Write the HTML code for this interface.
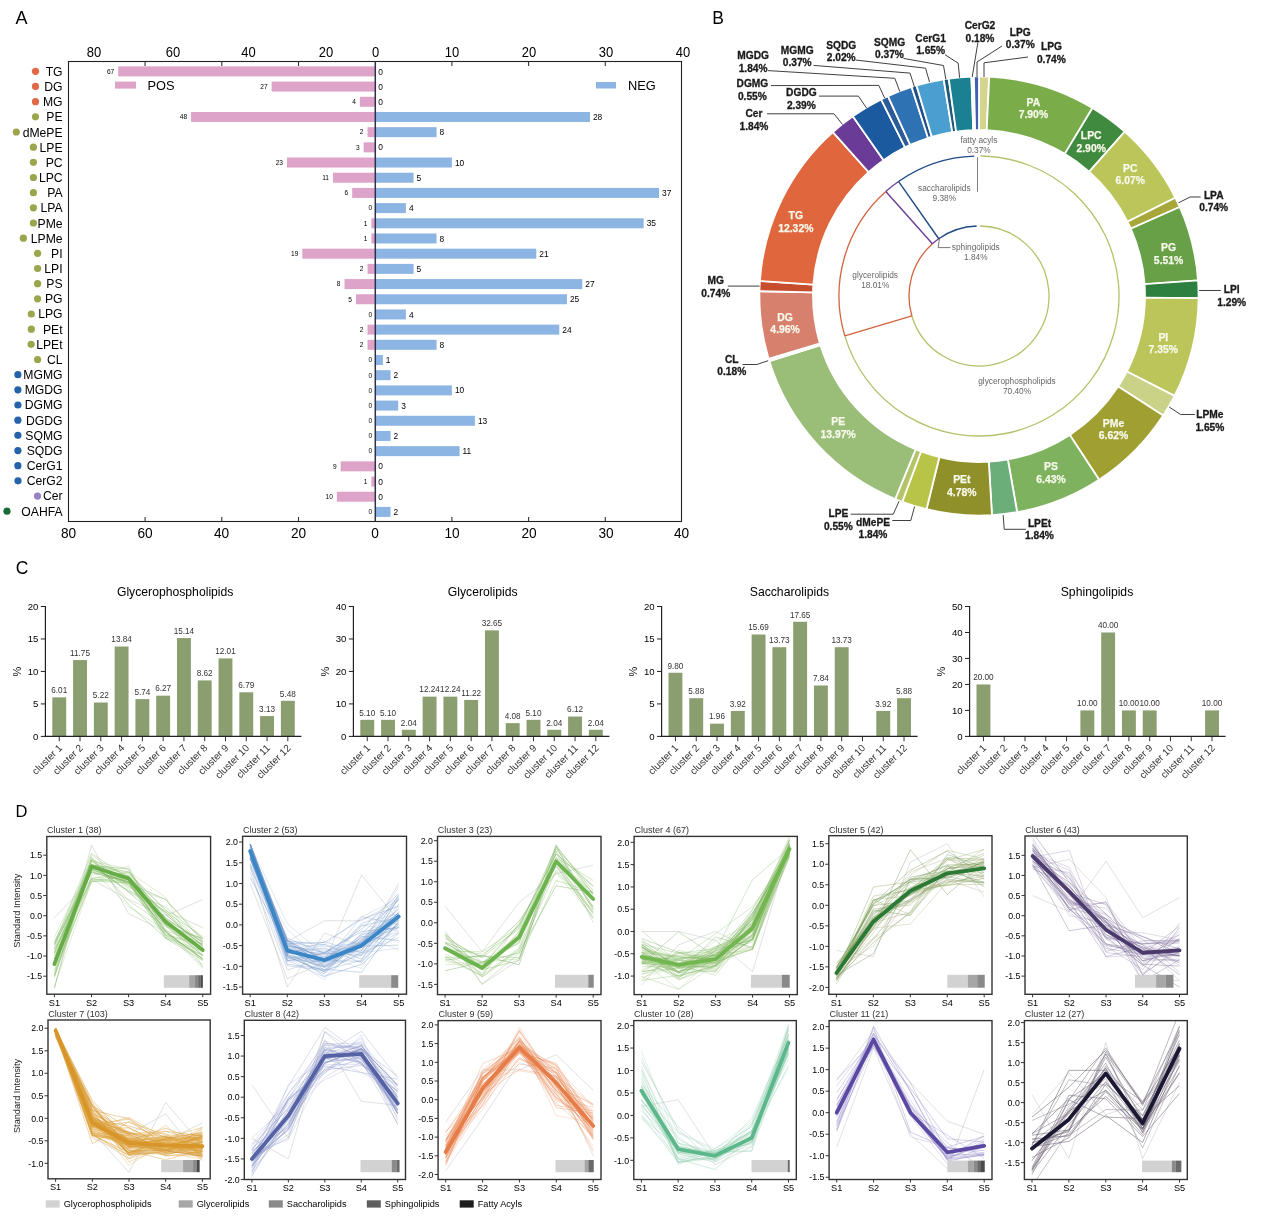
<!DOCTYPE html>
<html><head><meta charset="utf-8"><title>Lipid figure</title>
<style>html,body{margin:0;padding:0;background:#fff;}svg{display:block;will-change:transform;}</style>
</head><body>
<svg width="1269" height="1228" viewBox="0 0 1269 1228" font-family='"Liberation Sans", Arial, sans-serif'><text x="15.6" y="24" font-size="18">A</text>
<rect x="118.25" y="66.4" width="256.94" height="10" fill="#dea3c9"/>
<text x="114.25" y="73.7" font-size="6.6" text-anchor="end">67</text>
<text x="378.2" y="74.5" font-size="8.4">0</text>
<text x="62.6" y="75.9" font-size="12.2" text-anchor="end">TG</text>
<circle cx="35.5" cy="71.3" r="3.6" fill="#e06a48"/>
<rect x="271.65" y="81.59" width="103.55" height="10" fill="#dea3c9"/>
<text x="267.65" y="88.89" font-size="6.6" text-anchor="end">27</text>
<text x="378.2" y="89.69" font-size="8.4">0</text>
<text x="62.6" y="91.06" font-size="12.2" text-anchor="end">DG</text>
<circle cx="35.5" cy="86.47" r="3.6" fill="#e06a48"/>
<rect x="359.86" y="96.78" width="15.34" height="10" fill="#dea3c9"/>
<text x="355.86" y="104.08" font-size="6.6" text-anchor="end">4</text>
<text x="378.2" y="104.88" font-size="8.4">0</text>
<text x="62.6" y="106.22" font-size="12.2" text-anchor="end">MG</text>
<circle cx="35.5" cy="101.64" r="3.6" fill="#e06a48"/>
<rect x="191.12" y="111.97" width="184.08" height="10" fill="#dea3c9"/>
<rect x="375.2" y="111.97" width="214.76" height="10" fill="#8db5e3"/>
<text x="187.12" y="119.27" font-size="6.6" text-anchor="end">48</text>
<text x="592.96" y="120.07" font-size="8.4">28</text>
<text x="62.6" y="121.39" font-size="12.2" text-anchor="end">PE</text>
<circle cx="35.5" cy="116.81" r="3.6" fill="#9aa54c"/>
<rect x="367.53" y="127.16" width="7.67" height="10" fill="#dea3c9"/>
<rect x="375.2" y="127.16" width="61.36" height="10" fill="#8db5e3"/>
<text x="363.53" y="134.46" font-size="6.6" text-anchor="end">2</text>
<text x="439.56" y="135.26" font-size="8.4">8</text>
<text x="62.6" y="136.55" font-size="12.2" text-anchor="end">dMePE</text>
<circle cx="16.3" cy="131.98" r="3.6" fill="#9aa54c"/>
<rect x="363.69" y="142.35" width="11.5" height="10" fill="#dea3c9"/>
<text x="359.69" y="149.65" font-size="6.6" text-anchor="end">3</text>
<text x="378.2" y="150.45" font-size="8.4">0</text>
<text x="62.6" y="151.71" font-size="12.2" text-anchor="end">LPE</text>
<circle cx="33.4" cy="147.14" r="3.6" fill="#9aa54c"/>
<rect x="287" y="157.54" width="88.2" height="10" fill="#dea3c9"/>
<rect x="375.2" y="157.54" width="76.7" height="10" fill="#8db5e3"/>
<text x="283" y="164.84" font-size="6.6" text-anchor="end">23</text>
<text x="454.9" y="165.64" font-size="8.4">10</text>
<text x="62.6" y="166.87" font-size="12.2" text-anchor="end">PC</text>
<circle cx="33.4" cy="162.31" r="3.6" fill="#9aa54c"/>
<rect x="333.01" y="172.73" width="42.19" height="10" fill="#dea3c9"/>
<rect x="375.2" y="172.73" width="38.35" height="10" fill="#8db5e3"/>
<text x="329.01" y="180.03" font-size="6.6" text-anchor="end">11</text>
<text x="416.55" y="180.83" font-size="8.4">5</text>
<text x="62.6" y="182.03" font-size="12.2" text-anchor="end">LPC</text>
<circle cx="33.4" cy="177.48" r="3.6" fill="#9aa54c"/>
<rect x="352.19" y="187.92" width="23.01" height="10" fill="#dea3c9"/>
<rect x="375.2" y="187.92" width="283.79" height="10" fill="#8db5e3"/>
<text x="348.19" y="195.22" font-size="6.6" text-anchor="end">6</text>
<text x="661.99" y="196.02" font-size="8.4">37</text>
<text x="62.6" y="197.2" font-size="12.2" text-anchor="end">PA</text>
<circle cx="33.4" cy="192.65" r="3.6" fill="#9aa54c"/>
<rect x="375.2" y="203.11" width="30.68" height="10" fill="#8db5e3"/>
<text x="372.2" y="210.41" font-size="6.6" text-anchor="end">0</text>
<text x="408.88" y="211.21" font-size="8.4">4</text>
<text x="62.6" y="212.36" font-size="12.2" text-anchor="end">LPA</text>
<circle cx="33.4" cy="207.82" r="3.6" fill="#9aa54c"/>
<rect x="371.37" y="218.3" width="3.83" height="10" fill="#dea3c9"/>
<rect x="375.2" y="218.3" width="268.45" height="10" fill="#8db5e3"/>
<text x="367.37" y="225.6" font-size="6.6" text-anchor="end">1</text>
<text x="646.65" y="226.4" font-size="8.4">35</text>
<text x="62.6" y="227.52" font-size="12.2" text-anchor="end">PMe</text>
<circle cx="33.4" cy="222.99" r="3.6" fill="#9aa54c"/>
<rect x="371.37" y="233.49" width="3.83" height="10" fill="#dea3c9"/>
<rect x="375.2" y="233.49" width="61.36" height="10" fill="#8db5e3"/>
<text x="367.37" y="240.79" font-size="6.6" text-anchor="end">1</text>
<text x="439.56" y="241.59" font-size="8.4">8</text>
<text x="62.6" y="242.68" font-size="12.2" text-anchor="end">LPMe</text>
<circle cx="23.4" cy="238.16" r="3.6" fill="#9aa54c"/>
<rect x="302.33" y="248.68" width="72.86" height="10" fill="#dea3c9"/>
<rect x="375.2" y="248.68" width="161.07" height="10" fill="#8db5e3"/>
<text x="298.33" y="255.98" font-size="6.6" text-anchor="end">19</text>
<text x="539.27" y="256.78" font-size="8.4">21</text>
<text x="62.6" y="257.84" font-size="12.2" text-anchor="end">PI</text>
<circle cx="37.6" cy="253.33" r="3.6" fill="#9aa54c"/>
<rect x="367.53" y="263.87" width="7.67" height="10" fill="#dea3c9"/>
<rect x="375.2" y="263.87" width="38.35" height="10" fill="#8db5e3"/>
<text x="363.53" y="271.17" font-size="6.6" text-anchor="end">2</text>
<text x="416.55" y="271.97" font-size="8.4">5</text>
<text x="62.6" y="273.01" font-size="12.2" text-anchor="end">LPI</text>
<circle cx="37.6" cy="268.5" r="3.6" fill="#9aa54c"/>
<rect x="344.52" y="279.06" width="30.68" height="10" fill="#dea3c9"/>
<rect x="375.2" y="279.06" width="207.09" height="10" fill="#8db5e3"/>
<text x="340.52" y="286.36" font-size="6.6" text-anchor="end">8</text>
<text x="585.29" y="287.16" font-size="8.4">27</text>
<text x="62.6" y="288.17" font-size="12.2" text-anchor="end">PS</text>
<circle cx="37.6" cy="283.67" r="3.6" fill="#9aa54c"/>
<rect x="356.02" y="294.25" width="19.18" height="10" fill="#dea3c9"/>
<rect x="375.2" y="294.25" width="191.75" height="10" fill="#8db5e3"/>
<text x="352.02" y="301.55" font-size="6.6" text-anchor="end">5</text>
<text x="569.95" y="302.35" font-size="8.4">25</text>
<text x="62.6" y="303.33" font-size="12.2" text-anchor="end">PG</text>
<circle cx="37.6" cy="298.83" r="3.6" fill="#9aa54c"/>
<rect x="375.2" y="309.44" width="30.68" height="10" fill="#8db5e3"/>
<text x="372.2" y="316.74" font-size="6.6" text-anchor="end">0</text>
<text x="408.88" y="317.54" font-size="8.4">4</text>
<text x="62.6" y="318.49" font-size="12.2" text-anchor="end">LPG</text>
<circle cx="31.3" cy="314" r="3.6" fill="#9aa54c"/>
<rect x="367.53" y="324.63" width="7.67" height="10" fill="#dea3c9"/>
<rect x="375.2" y="324.63" width="184.08" height="10" fill="#8db5e3"/>
<text x="363.53" y="331.93" font-size="6.6" text-anchor="end">2</text>
<text x="562.28" y="332.73" font-size="8.4">24</text>
<text x="62.6" y="333.65" font-size="12.2" text-anchor="end">PEt</text>
<circle cx="31.3" cy="329.17" r="3.6" fill="#9aa54c"/>
<rect x="367.53" y="339.82" width="7.67" height="10" fill="#dea3c9"/>
<rect x="375.2" y="339.82" width="61.36" height="10" fill="#8db5e3"/>
<text x="363.53" y="347.12" font-size="6.6" text-anchor="end">2</text>
<text x="439.56" y="347.92" font-size="8.4">8</text>
<text x="62.6" y="348.82" font-size="12.2" text-anchor="end">LPEt</text>
<circle cx="31.1" cy="344.34" r="3.6" fill="#9aa54c"/>
<rect x="375.2" y="355.01" width="7.67" height="10" fill="#8db5e3"/>
<text x="372.2" y="362.31" font-size="6.6" text-anchor="end">0</text>
<text x="385.87" y="363.11" font-size="8.4">1</text>
<text x="62.6" y="363.98" font-size="12.2" text-anchor="end">CL</text>
<circle cx="37.6" cy="359.51" r="3.6" fill="#9aa54c"/>
<rect x="375.2" y="370.2" width="15.34" height="10" fill="#8db5e3"/>
<text x="372.2" y="377.5" font-size="6.6" text-anchor="end">0</text>
<text x="393.54" y="378.3" font-size="8.4">2</text>
<text x="62.6" y="379.14" font-size="12.2" text-anchor="end">MGMG</text>
<circle cx="17.9" cy="374.68" r="3.6" fill="#2462aa"/>
<rect x="375.2" y="385.39" width="76.7" height="10" fill="#8db5e3"/>
<text x="372.2" y="392.69" font-size="6.6" text-anchor="end">0</text>
<text x="454.9" y="393.49" font-size="8.4">10</text>
<text x="62.6" y="394.3" font-size="12.2" text-anchor="end">MGDG</text>
<circle cx="17.9" cy="389.85" r="3.6" fill="#2462aa"/>
<rect x="375.2" y="400.58" width="23.01" height="10" fill="#8db5e3"/>
<text x="372.2" y="407.88" font-size="6.6" text-anchor="end">0</text>
<text x="401.21" y="408.68" font-size="8.4">3</text>
<text x="62.6" y="409.46" font-size="12.2" text-anchor="end">DGMG</text>
<circle cx="17.9" cy="405.02" r="3.6" fill="#2462aa"/>
<rect x="375.2" y="415.77" width="99.71" height="10" fill="#8db5e3"/>
<text x="372.2" y="423.07" font-size="6.6" text-anchor="end">0</text>
<text x="477.91" y="423.87" font-size="8.4">13</text>
<text x="62.6" y="424.63" font-size="12.2" text-anchor="end">DGDG</text>
<circle cx="17.9" cy="420.19" r="3.6" fill="#2462aa"/>
<rect x="375.2" y="430.96" width="15.34" height="10" fill="#8db5e3"/>
<text x="372.2" y="438.26" font-size="6.6" text-anchor="end">0</text>
<text x="393.54" y="439.06" font-size="8.4">2</text>
<text x="62.6" y="439.79" font-size="12.2" text-anchor="end">SQMG</text>
<circle cx="17.9" cy="435.36" r="3.6" fill="#2462aa"/>
<rect x="375.2" y="446.15" width="84.37" height="10" fill="#8db5e3"/>
<text x="372.2" y="453.45" font-size="6.6" text-anchor="end">0</text>
<text x="462.57" y="454.25" font-size="8.4">11</text>
<text x="62.6" y="454.95" font-size="12.2" text-anchor="end">SQDG</text>
<circle cx="17.9" cy="450.53" r="3.6" fill="#2462aa"/>
<rect x="340.69" y="461.34" width="34.52" height="10" fill="#dea3c9"/>
<text x="336.69" y="468.64" font-size="6.6" text-anchor="end">9</text>
<text x="378.2" y="469.44" font-size="8.4">0</text>
<text x="62.6" y="470.11" font-size="12.2" text-anchor="end">CerG1</text>
<circle cx="17.9" cy="465.69" r="3.6" fill="#2462aa"/>
<rect x="371.37" y="476.53" width="3.83" height="10" fill="#dea3c9"/>
<text x="367.37" y="483.83" font-size="6.6" text-anchor="end">1</text>
<text x="378.2" y="484.63" font-size="8.4">0</text>
<text x="62.6" y="485.27" font-size="12.2" text-anchor="end">CerG2</text>
<circle cx="18" cy="480.86" r="3.6" fill="#2462aa"/>
<rect x="336.85" y="491.72" width="38.35" height="10" fill="#dea3c9"/>
<text x="332.85" y="499.02" font-size="6.6" text-anchor="end">10</text>
<text x="378.2" y="499.82" font-size="8.4">0</text>
<text x="62.6" y="500.44" font-size="12.2" text-anchor="end">Cer</text>
<circle cx="37.5" cy="496.03" r="3.6" fill="#9b80c2"/>
<rect x="375.2" y="506.91" width="15.34" height="10" fill="#8db5e3"/>
<text x="372.2" y="514.21" font-size="6.6" text-anchor="end">0</text>
<text x="393.54" y="515.01" font-size="8.4">2</text>
<text x="62.6" y="515.6" font-size="12.2" text-anchor="end">OAHFA</text>
<circle cx="7" cy="511.2" r="3.6" fill="#1b6b38"/>
<rect x="68.5" y="61.5" width="613" height="460" fill="none" stroke="#222" stroke-width="1.1"/>
<line x1="375.3" y1="61.5" x2="375.3" y2="521.5" stroke="#2e3048" stroke-width="1.5"/>
<line x1="298.5" y1="61.5" x2="298.5" y2="66" stroke="#333" stroke-width="1.1"/>
<line x1="298.5" y1="521.5" x2="298.5" y2="517" stroke="#333" stroke-width="1.1"/>
<line x1="221.8" y1="61.5" x2="221.8" y2="66" stroke="#333" stroke-width="1.1"/>
<line x1="221.8" y1="521.5" x2="221.8" y2="517" stroke="#333" stroke-width="1.1"/>
<line x1="145.1" y1="61.5" x2="145.1" y2="66" stroke="#333" stroke-width="1.1"/>
<line x1="145.1" y1="521.5" x2="145.1" y2="517" stroke="#333" stroke-width="1.1"/>
<line x1="451.9" y1="61.5" x2="451.9" y2="66" stroke="#333" stroke-width="1.1"/>
<line x1="451.9" y1="521.5" x2="451.9" y2="517" stroke="#333" stroke-width="1.1"/>
<line x1="528.6" y1="61.5" x2="528.6" y2="66" stroke="#333" stroke-width="1.1"/>
<line x1="528.6" y1="521.5" x2="528.6" y2="517" stroke="#333" stroke-width="1.1"/>
<line x1="605.3" y1="61.5" x2="605.3" y2="66" stroke="#333" stroke-width="1.1"/>
<line x1="605.3" y1="521.5" x2="605.3" y2="517" stroke="#333" stroke-width="1.1"/>
<text transform="translate(94 56.9) scale(1 1.16)" font-size="13" text-anchor="middle">80</text>
<text transform="translate(173 56.9) scale(1 1.16)" font-size="13" text-anchor="middle">60</text>
<text transform="translate(248.5 56.9) scale(1 1.16)" font-size="13" text-anchor="middle">40</text>
<text transform="translate(326 56.9) scale(1 1.16)" font-size="13" text-anchor="middle">20</text>
<text transform="translate(375.5 56.9) scale(1 1.16)" font-size="13" text-anchor="middle">0</text>
<text transform="translate(452 56.9) scale(1 1.16)" font-size="13" text-anchor="middle">10</text>
<text transform="translate(529 56.9) scale(1 1.16)" font-size="13" text-anchor="middle">20</text>
<text transform="translate(606 56.9) scale(1 1.16)" font-size="13" text-anchor="middle">30</text>
<text transform="translate(683 56.9) scale(1 1.16)" font-size="13" text-anchor="middle">40</text>
<text transform="translate(68.5 537.9) scale(1 1.12)" font-size="13.7" text-anchor="middle">80</text>
<text transform="translate(145 537.9) scale(1 1.12)" font-size="13.7" text-anchor="middle">60</text>
<text transform="translate(221.5 537.9) scale(1 1.12)" font-size="13.7" text-anchor="middle">40</text>
<text transform="translate(298.5 537.9) scale(1 1.12)" font-size="13.7" text-anchor="middle">20</text>
<text transform="translate(375 537.9) scale(1 1.12)" font-size="13.7" text-anchor="middle">0</text>
<text transform="translate(452 537.9) scale(1 1.12)" font-size="13.7" text-anchor="middle">10</text>
<text transform="translate(529 537.9) scale(1 1.12)" font-size="13.7" text-anchor="middle">20</text>
<text transform="translate(606 537.9) scale(1 1.12)" font-size="13.7" text-anchor="middle">30</text>
<text transform="translate(681.5 537.9) scale(1 1.12)" font-size="13.7" text-anchor="middle">40</text>
<rect x="115" y="81.6" width="21" height="7" fill="#dea3c9"/>
<text x="147.4" y="90" font-size="12.8">POS</text>
<rect x="596" y="82" width="20" height="6.5" fill="#8db5e3"/>
<text x="628" y="90.3" font-size="12.8">NEG</text>
<text x="712.3" y="24" font-size="17.5">B</text>
<path d="M979 76.4A219.6 219.6 0 0 1 989.21 76.64L986.72 130.18A166 166 0 0 0 979 130Z" fill="#d5d48e" stroke="#fff" stroke-width="1.8"/>
<path d="M989.21 76.64A219.6 219.6 0 0 1 1092.48 108L1064.79 153.88A166 166 0 0 0 986.72 130.18Z" fill="#7aad4a" stroke="#fff" stroke-width="1.8"/>
<path d="M1092.48 108A219.6 219.6 0 0 1 1124.69 131.68L1089.13 171.79A166 166 0 0 0 1064.79 153.88Z" fill="#3f8a3f" stroke="#fff" stroke-width="1.8"/>
<path d="M1124.69 131.68A219.6 219.6 0 0 1 1175.39 197.75L1127.46 221.73A166 166 0 0 0 1089.13 171.79Z" fill="#bcc55a" stroke="#fff" stroke-width="1.8"/>
<path d="M1175.39 197.75A219.6 219.6 0 0 1 1179.75 206.98L1130.75 228.71A166 166 0 0 0 1127.46 221.73Z" fill="#a8a83a" stroke="#fff" stroke-width="1.8"/>
<path d="M1179.75 206.98A219.6 219.6 0 0 1 1198.05 280.42L1144.58 284.22A166 166 0 0 0 1130.75 228.71Z" fill="#68a048" stroke="#fff" stroke-width="1.8"/>
<path d="M1198.05 280.42A219.6 219.6 0 0 1 1198.59 298.21L1144.99 297.67A166 166 0 0 0 1144.58 284.22Z" fill="#2e8040" stroke="#fff" stroke-width="1.8"/>
<path d="M1198.59 298.21A219.6 219.6 0 0 1 1174.58 395.86L1126.85 371.48A166 166 0 0 0 1144.99 297.67Z" fill="#bcc55a" stroke="#fff" stroke-width="1.8"/>
<path d="M1174.58 395.86A219.6 219.6 0 0 1 1163.19 415.57L1118.24 386.38A166 166 0 0 0 1126.85 371.48Z" fill="#c9d286" stroke="#fff" stroke-width="1.8"/>
<path d="M1163.19 415.57A219.6 219.6 0 0 1 1099.15 479.82L1069.82 434.95A166 166 0 0 0 1118.24 386.38Z" fill="#a0a032" stroke="#fff" stroke-width="1.8"/>
<path d="M1099.15 479.82A219.6 219.6 0 0 1 1017.18 512.26L1007.86 459.47A166 166 0 0 0 1069.82 434.95Z" fill="#7eb25e" stroke="#fff" stroke-width="1.8"/>
<path d="M1017.18 512.26A219.6 219.6 0 0 1 991.97 515.22L988.8 461.71A166 166 0 0 0 1007.86 459.47Z" fill="#6cae7a" stroke="#fff" stroke-width="1.8"/>
<path d="M991.97 515.22A219.6 219.6 0 0 1 926.51 509.23L939.32 457.19A166 166 0 0 0 988.8 461.71Z" fill="#90902a" stroke="#fff" stroke-width="1.8"/>
<path d="M926.51 509.23A219.6 219.6 0 0 1 902.25 501.75L920.98 451.53A166 166 0 0 0 939.32 457.19Z" fill="#b8c448" stroke="#fff" stroke-width="1.8"/>
<path d="M902.25 501.75A219.6 219.6 0 0 1 895.19 498.98L915.64 449.43A166 166 0 0 0 920.98 451.53Z" fill="#b4c468" stroke="#fff" stroke-width="1.8"/>
<path d="M895.19 498.98A219.6 219.6 0 0 1 769.28 361.12L820.47 345.23A166 166 0 0 0 915.64 449.43Z" fill="#9abd78" stroke="#fff" stroke-width="1.8"/>
<path d="M769.28 361.12A219.6 219.6 0 0 1 768.56 358.75L819.92 343.43A166 166 0 0 0 820.47 345.23Z" fill="#f4f4f4" stroke="#fff" stroke-width="1.8"/>
<path d="M768.56 358.75A219.6 219.6 0 0 1 759.45 291.17L813.04 292.35A166 166 0 0 0 819.92 343.43Z" fill="#d8806e" stroke="#fff" stroke-width="1.8"/>
<path d="M759.45 291.17A219.6 219.6 0 0 1 759.92 280.97L813.39 284.64A166 166 0 0 0 813.04 292.35Z" fill="#c64e2c" stroke="#fff" stroke-width="1.8"/>
<path d="M759.92 280.97A219.6 219.6 0 0 1 832.9 132.05L868.56 172.07A166 166 0 0 0 813.39 284.64Z" fill="#e0663e" stroke="#fff" stroke-width="1.8"/>
<path d="M832.9 132.05A219.6 219.6 0 0 1 852.8 116.29L883.6 160.15A166 166 0 0 0 868.56 172.07Z" fill="#6a3b97" stroke="#fff" stroke-width="1.8"/>
<path d="M852.8 116.29A219.6 219.6 0 0 1 881.12 99.42L905.01 147.4A166 166 0 0 0 883.6 160.15Z" fill="#1b5a9f" stroke="#fff" stroke-width="1.8"/>
<path d="M881.12 99.42A219.6 219.6 0 0 1 887.97 96.16L910.19 144.93A166 166 0 0 0 905.01 147.4Z" fill="#2c5c98" stroke="#fff" stroke-width="1.8"/>
<path d="M887.97 96.16A219.6 219.6 0 0 1 911.64 86.99L928.08 138A166 166 0 0 0 910.19 144.93Z" fill="#2f72b3" stroke="#fff" stroke-width="1.8"/>
<path d="M911.64 86.99A219.6 219.6 0 0 1 916.52 85.48L931.77 136.86A166 166 0 0 0 928.08 138Z" fill="#20508a" stroke="#fff" stroke-width="1.8"/>
<path d="M916.52 85.48A219.6 219.6 0 0 1 943.68 79.26L952.3 132.16A166 166 0 0 0 931.77 136.86Z" fill="#4b9fd0" stroke="#fff" stroke-width="1.8"/>
<path d="M943.68 79.26A219.6 219.6 0 0 1 948.73 78.5L956.12 131.58A166 166 0 0 0 952.3 132.16Z" fill="#1f5a7a" stroke="#fff" stroke-width="1.8"/>
<path d="M948.73 78.5A219.6 219.6 0 0 1 971.41 76.53L973.26 130.1A166 166 0 0 0 956.12 131.58Z" fill="#1b8192" stroke="#fff" stroke-width="1.8"/>
<path d="M971.41 76.53A219.6 219.6 0 0 1 973.89 76.46L975.14 130.04A166 166 0 0 0 973.26 130.1Z" fill="#f4f4f4" stroke="#fff" stroke-width="1.8"/>
<path d="M973.89 76.46A219.6 219.6 0 0 1 979 76.4L979 130A166 166 0 0 0 975.14 130.04Z" fill="#3f5fb0" stroke="#fff" stroke-width="1.8"/>
<path d="M980.47 156.01A140 140 0 1 1 844.81 335.9" fill="none" stroke="#b6c16c" stroke-width="1.3"/>
<path d="M980.22 226.01A70 70 0 1 1 911.9 315.95" fill="none" stroke="#b6c16c" stroke-width="1.3"/>
<path d="M844.81 335.9A140 140 0 0 1 885.82 191.51" fill="none" stroke="#d2643e" stroke-width="1.3"/>
<path d="M911.9 315.95A70 70 0 0 1 932.41 243.75" fill="none" stroke="#d2643e" stroke-width="1.3"/>
<line x1="911.9" y1="315.95" x2="844.81" y2="335.9" stroke="#d2643e" stroke-width="1.4"/>
<path d="M885.82 191.51A140 140 0 0 1 898.5 181.46" fill="none" stroke="#6a3b97" stroke-width="1.3"/>
<path d="M932.41 243.75A70 70 0 0 1 938.75 238.73" fill="none" stroke="#6a3b97" stroke-width="1.3"/>
<line x1="932.41" y1="243.75" x2="885.82" y2="191.51" stroke="#6a3b97" stroke-width="1.4"/>
<path d="M898.5 181.46A140 140 0 0 1 974.28 156.08" fill="none" stroke="#1f4a86" stroke-width="1.4"/>
<path d="M938.75 238.73A70 70 0 0 1 976.64 226.04" fill="none" stroke="#1f4a86" stroke-width="1.4"/>
<line x1="938.75" y1="238.73" x2="898.5" y2="181.46" stroke="#1f4a86" stroke-width="1.4"/>
<line x1="977.5" y1="157.3" x2="977.5" y2="191.8" stroke="#6c7070" stroke-width="0.9"/>
<text x="978.9" y="143.2" font-size="8.3" text-anchor="middle" fill="#666">fatty acyls</text>
<text x="978.9" y="152.6" font-size="8.3" text-anchor="middle" fill="#666">0.37%</text>
<text x="944.3" y="191.2" font-size="8.3" text-anchor="middle" fill="#666">saccharolipids</text>
<text x="944.3" y="200.6" font-size="8.3" text-anchor="middle" fill="#666">9.38%</text>
<text x="975.8" y="250.4" font-size="8.3" text-anchor="middle" fill="#666">sphingolipids</text>
<text x="975.8" y="260" font-size="8.3" text-anchor="middle" fill="#666">1.84%</text>
<polyline points="939.6,237.5 938.2,247.6 950.5,247.6" fill="none" stroke="#555" stroke-width="0.8"/>
<text x="875.2" y="278.3" font-size="8.3" text-anchor="middle" fill="#666">glycerolipids</text>
<text x="875.2" y="288.3" font-size="8.3" text-anchor="middle" fill="#666">18.01%</text>
<text x="1017" y="384" font-size="8.3" text-anchor="middle" fill="#666">glycerophospholipids</text>
<text x="1017" y="393.6" font-size="8.3" text-anchor="middle" fill="#666">70.40%</text>
<text x="1033.4" y="105.7" font-size="10.4" text-anchor="middle" font-weight="bold" fill="#f7f9ea" stroke="#f7f9ea" stroke-width="0.25">PA</text>
<text x="1033.4" y="118.3" font-size="10.4" text-anchor="middle" font-weight="bold" fill="#f7f9ea" stroke="#f7f9ea" stroke-width="0.25">7.90%</text>
<text x="1091.2" y="138.6" font-size="10.4" text-anchor="middle" font-weight="bold" fill="#f7f9ea" stroke="#f7f9ea" stroke-width="0.25">LPC</text>
<text x="1091.2" y="151.7" font-size="10.4" text-anchor="middle" font-weight="bold" fill="#f7f9ea" stroke="#f7f9ea" stroke-width="0.25">2.90%</text>
<text x="1130.3" y="172" font-size="10.4" text-anchor="middle" font-weight="bold" fill="#f7f9ea" stroke="#f7f9ea" stroke-width="0.25">PC</text>
<text x="1130.3" y="184.2" font-size="10.4" text-anchor="middle" font-weight="bold" fill="#f7f9ea" stroke="#f7f9ea" stroke-width="0.25">6.07%</text>
<text x="1168.6" y="250.7" font-size="10.4" text-anchor="middle" font-weight="bold" fill="#f7f9ea" stroke="#f7f9ea" stroke-width="0.25">PG</text>
<text x="1168.6" y="263.7" font-size="10.4" text-anchor="middle" font-weight="bold" fill="#f7f9ea" stroke="#f7f9ea" stroke-width="0.25">5.51%</text>
<text x="1163.3" y="340.5" font-size="10.4" text-anchor="middle" font-weight="bold" fill="#f7f9ea" stroke="#f7f9ea" stroke-width="0.25">PI</text>
<text x="1163.3" y="353.1" font-size="10.4" text-anchor="middle" font-weight="bold" fill="#f7f9ea" stroke="#f7f9ea" stroke-width="0.25">7.35%</text>
<text x="1113.5" y="427.1" font-size="10.4" text-anchor="middle" font-weight="bold" fill="#f7f9ea" stroke="#f7f9ea" stroke-width="0.25">PMe</text>
<text x="1113.5" y="439.1" font-size="10.4" text-anchor="middle" font-weight="bold" fill="#f7f9ea" stroke="#f7f9ea" stroke-width="0.25">6.62%</text>
<text x="1051" y="470.1" font-size="10.4" text-anchor="middle" font-weight="bold" fill="#f7f9ea" stroke="#f7f9ea" stroke-width="0.25">PS</text>
<text x="1051" y="483.2" font-size="10.4" text-anchor="middle" font-weight="bold" fill="#f7f9ea" stroke="#f7f9ea" stroke-width="0.25">6.43%</text>
<text x="961.8" y="483" font-size="10.4" text-anchor="middle" font-weight="bold" fill="#f7f9ea" stroke="#f7f9ea" stroke-width="0.25">PEt</text>
<text x="961.8" y="495.7" font-size="10.4" text-anchor="middle" font-weight="bold" fill="#f7f9ea" stroke="#f7f9ea" stroke-width="0.25">4.78%</text>
<text x="838.2" y="424.5" font-size="10.4" text-anchor="middle" font-weight="bold" fill="#f7f9ea" stroke="#f7f9ea" stroke-width="0.25">PE</text>
<text x="838.2" y="437.5" font-size="10.4" text-anchor="middle" font-weight="bold" fill="#f7f9ea" stroke="#f7f9ea" stroke-width="0.25">13.97%</text>
<text x="785.1" y="320.5" font-size="10.4" text-anchor="middle" font-weight="bold" fill="#f7f9ea" stroke="#f7f9ea" stroke-width="0.25">DG</text>
<text x="785.1" y="333.2" font-size="10.4" text-anchor="middle" font-weight="bold" fill="#f7f9ea" stroke="#f7f9ea" stroke-width="0.25">4.96%</text>
<text x="795.8" y="218.9" font-size="10.4" text-anchor="middle" font-weight="bold" fill="#f7f9ea" stroke="#f7f9ea" stroke-width="0.25">TG</text>
<text x="795.8" y="231.6" font-size="10.4" text-anchor="middle" font-weight="bold" fill="#f7f9ea" stroke="#f7f9ea" stroke-width="0.25">12.32%</text>
<text x="753.1" y="59.1" font-size="10.2" text-anchor="middle" font-weight="bold" fill="#1a1a1a" stroke="#1a1a1a" stroke-width="0.3">MGDG</text>
<text x="753.1" y="71.7" font-size="10.2" text-anchor="middle" font-weight="bold" fill="#1a1a1a" stroke="#1a1a1a" stroke-width="0.3">1.84%</text>
<text x="797.2" y="53.6" font-size="10.2" text-anchor="middle" font-weight="bold" fill="#1a1a1a" stroke="#1a1a1a" stroke-width="0.3">MGMG</text>
<text x="797.2" y="65.9" font-size="10.2" text-anchor="middle" font-weight="bold" fill="#1a1a1a" stroke="#1a1a1a" stroke-width="0.3">0.37%</text>
<text x="841.2" y="48.5" font-size="10.2" text-anchor="middle" font-weight="bold" fill="#1a1a1a" stroke="#1a1a1a" stroke-width="0.3">SQDG</text>
<text x="841.2" y="61.2" font-size="10.2" text-anchor="middle" font-weight="bold" fill="#1a1a1a" stroke="#1a1a1a" stroke-width="0.3">2.02%</text>
<text x="889.5" y="46.1" font-size="10.2" text-anchor="middle" font-weight="bold" fill="#1a1a1a" stroke="#1a1a1a" stroke-width="0.3">SQMG</text>
<text x="889.5" y="58.4" font-size="10.2" text-anchor="middle" font-weight="bold" fill="#1a1a1a" stroke="#1a1a1a" stroke-width="0.3">0.37%</text>
<text x="930.6" y="42.3" font-size="10.2" text-anchor="middle" font-weight="bold" fill="#1a1a1a" stroke="#1a1a1a" stroke-width="0.3">CerG1</text>
<text x="930.6" y="54.4" font-size="10.2" text-anchor="middle" font-weight="bold" fill="#1a1a1a" stroke="#1a1a1a" stroke-width="0.3">1.65%</text>
<text x="980" y="29.2" font-size="10.2" text-anchor="middle" font-weight="bold" fill="#1a1a1a" stroke="#1a1a1a" stroke-width="0.3">CerG2</text>
<text x="980" y="41.5" font-size="10.2" text-anchor="middle" font-weight="bold" fill="#1a1a1a" stroke="#1a1a1a" stroke-width="0.3">0.18%</text>
<text x="1020.3" y="35.5" font-size="10.2" text-anchor="middle" font-weight="bold" fill="#1a1a1a" stroke="#1a1a1a" stroke-width="0.3">LPG</text>
<text x="1020.3" y="47.8" font-size="10.2" text-anchor="middle" font-weight="bold" fill="#1a1a1a" stroke="#1a1a1a" stroke-width="0.3">0.37%</text>
<text x="1051.4" y="50.2" font-size="10.2" text-anchor="middle" font-weight="bold" fill="#1a1a1a" stroke="#1a1a1a" stroke-width="0.3">LPG</text>
<text x="1051.4" y="62.5" font-size="10.2" text-anchor="middle" font-weight="bold" fill="#1a1a1a" stroke="#1a1a1a" stroke-width="0.3">0.74%</text>
<text x="752.4" y="87" font-size="10.2" text-anchor="middle" font-weight="bold" fill="#1a1a1a" stroke="#1a1a1a" stroke-width="0.3">DGMG</text>
<text x="752.4" y="100" font-size="10.2" text-anchor="middle" font-weight="bold" fill="#1a1a1a" stroke="#1a1a1a" stroke-width="0.3">0.55%</text>
<text x="801.4" y="96.1" font-size="10.2" text-anchor="middle" font-weight="bold" fill="#1a1a1a" stroke="#1a1a1a" stroke-width="0.3">DGDG</text>
<text x="801.4" y="108.7" font-size="10.2" text-anchor="middle" font-weight="bold" fill="#1a1a1a" stroke="#1a1a1a" stroke-width="0.3">2.39%</text>
<text x="754" y="117.4" font-size="10.2" text-anchor="middle" font-weight="bold" fill="#1a1a1a" stroke="#1a1a1a" stroke-width="0.3">Cer</text>
<text x="754" y="130" font-size="10.2" text-anchor="middle" font-weight="bold" fill="#1a1a1a" stroke="#1a1a1a" stroke-width="0.3">1.84%</text>
<text x="715.8" y="284.3" font-size="10.2" text-anchor="middle" font-weight="bold" fill="#1a1a1a" stroke="#1a1a1a" stroke-width="0.3">MG</text>
<text x="715.8" y="296.7" font-size="10.2" text-anchor="middle" font-weight="bold" fill="#1a1a1a" stroke="#1a1a1a" stroke-width="0.3">0.74%</text>
<text x="731.8" y="362.7" font-size="10.2" text-anchor="middle" font-weight="bold" fill="#1a1a1a" stroke="#1a1a1a" stroke-width="0.3">CL</text>
<text x="731.8" y="374.8" font-size="10.2" text-anchor="middle" font-weight="bold" fill="#1a1a1a" stroke="#1a1a1a" stroke-width="0.3">0.18%</text>
<text x="838.4" y="516.9" font-size="10.2" text-anchor="middle" font-weight="bold" fill="#1a1a1a" stroke="#1a1a1a" stroke-width="0.3">LPE</text>
<text x="838.4" y="529.6" font-size="10.2" text-anchor="middle" font-weight="bold" fill="#1a1a1a" stroke="#1a1a1a" stroke-width="0.3">0.55%</text>
<text x="873" y="525.9" font-size="10.2" text-anchor="middle" font-weight="bold" fill="#1a1a1a" stroke="#1a1a1a" stroke-width="0.3">dMePE</text>
<text x="873" y="538.2" font-size="10.2" text-anchor="middle" font-weight="bold" fill="#1a1a1a" stroke="#1a1a1a" stroke-width="0.3">1.84%</text>
<text x="1039.5" y="526.8" font-size="10.2" text-anchor="middle" font-weight="bold" fill="#1a1a1a" stroke="#1a1a1a" stroke-width="0.3">LPEt</text>
<text x="1039.5" y="539.4" font-size="10.2" text-anchor="middle" font-weight="bold" fill="#1a1a1a" stroke="#1a1a1a" stroke-width="0.3">1.84%</text>
<text x="1209.9" y="417.6" font-size="10.2" text-anchor="middle" font-weight="bold" fill="#1a1a1a" stroke="#1a1a1a" stroke-width="0.3">LPMe</text>
<text x="1209.9" y="430.5" font-size="10.2" text-anchor="middle" font-weight="bold" fill="#1a1a1a" stroke="#1a1a1a" stroke-width="0.3">1.65%</text>
<text x="1231.7" y="293.3" font-size="10.2" text-anchor="middle" font-weight="bold" fill="#1a1a1a" stroke="#1a1a1a" stroke-width="0.3">LPI</text>
<text x="1231.7" y="306" font-size="10.2" text-anchor="middle" font-weight="bold" fill="#1a1a1a" stroke="#1a1a1a" stroke-width="0.3">1.29%</text>
<text x="1213.7" y="198.9" font-size="10.2" text-anchor="middle" font-weight="bold" fill="#1a1a1a" stroke="#1a1a1a" stroke-width="0.3">LPA</text>
<text x="1213.7" y="211.2" font-size="10.2" text-anchor="middle" font-weight="bold" fill="#1a1a1a" stroke="#1a1a1a" stroke-width="0.3">0.74%</text>
<polyline points="768,70.6 894.8,78.3 899.8,91.5" fill="none" stroke="#2a2a2a" stroke-width="0.9"/>
<polyline points="813.5,65.4 910,73.1 914.5,87" fill="none" stroke="#2a2a2a" stroke-width="0.9"/>
<polyline points="855.6,60 925.6,68.2 929.5,82" fill="none" stroke="#2a2a2a" stroke-width="0.9"/>
<polyline points="903.4,58.4 943.5,65.5 945.9,79.5" fill="none" stroke="#2a2a2a" stroke-width="0.9"/>
<polyline points="945,54.7 958.2,63.2 959.6,77.8" fill="none" stroke="#2a2a2a" stroke-width="0.9"/>
<polyline points="977.9,42.5 972.2,77" fill="none" stroke="#2a2a2a" stroke-width="0.9"/>
<polyline points="1002,46 977,62 977,77" fill="none" stroke="#2a2a2a" stroke-width="0.9"/>
<polyline points="1028,57 984,62.8 984,77" fill="none" stroke="#2a2a2a" stroke-width="0.9"/>
<polyline points="771,85.6 878.8,85.4 884.6,98" fill="none" stroke="#2a2a2a" stroke-width="0.9"/>
<polyline points="819,96.1 858.4,96.1 866.5,108" fill="none" stroke="#2a2a2a" stroke-width="0.9"/>
<polyline points="767,113.8 834,113.8 842.5,124.5" fill="none" stroke="#2a2a2a" stroke-width="0.9"/>
<polyline points="727.8,286.1 759.6,286.1" fill="none" stroke="#2a2a2a" stroke-width="0.9"/>
<polyline points="742.6,364.5 756.9,364.5 768.1,360.7" fill="none" stroke="#2a2a2a" stroke-width="0.9"/>
<polyline points="850.7,514.2 893.3,514.2 899,501.3" fill="none" stroke="#2a2a2a" stroke-width="0.9"/>
<polyline points="892.3,520.5 910.8,520.5 914.6,506.5" fill="none" stroke="#2a2a2a" stroke-width="0.9"/>
<polyline points="1025.9,529.3 1004.2,529.3 1003.2,515.1" fill="none" stroke="#2a2a2a" stroke-width="0.9"/>
<polyline points="1194.8,414.5 1180.6,414.5 1169.2,407" fill="none" stroke="#2a2a2a" stroke-width="0.9"/>
<polyline points="1220.8,290.5 1199.1,290.5" fill="none" stroke="#2a2a2a" stroke-width="0.9"/>
<polyline points="1200.7,197 1190.1,197 1178.5,202.8" fill="none" stroke="#2a2a2a" stroke-width="0.9"/>
<text x="15.8" y="574.2" font-size="17.5">C</text>
<text x="175.2" y="596.3" font-size="12.2" text-anchor="middle">Glycerophospholipids</text>
<rect x="52.3" y="697.37" width="13.9" height="39.03" fill="#8b9e6f"/>
<text x="59.25" y="693.17" font-size="8.2" text-anchor="middle" fill="#333">6.01</text>
<line x1="59.25" y1="736.4" x2="59.25" y2="741.2" stroke="#333" stroke-width="1"/>
<text x="62.85" y="748.6" font-size="10" text-anchor="end" fill="#333" transform="rotate(-45 62.85 748.6)">cluster 1</text>
<rect x="73.08" y="660.08" width="13.9" height="76.32" fill="#8b9e6f"/>
<text x="80.03" y="655.88" font-size="8.2" text-anchor="middle" fill="#333">11.75</text>
<line x1="80.03" y1="736.4" x2="80.03" y2="741.2" stroke="#333" stroke-width="1"/>
<text x="83.63" y="748.6" font-size="10" text-anchor="end" fill="#333" transform="rotate(-45 83.63 748.6)">cluster 2</text>
<rect x="93.86" y="702.5" width="13.9" height="33.9" fill="#8b9e6f"/>
<text x="100.81" y="698.3" font-size="8.2" text-anchor="middle" fill="#333">5.22</text>
<line x1="100.81" y1="736.4" x2="100.81" y2="741.2" stroke="#333" stroke-width="1"/>
<text x="104.41" y="748.6" font-size="10" text-anchor="end" fill="#333" transform="rotate(-45 104.41 748.6)">cluster 3</text>
<rect x="114.64" y="646.51" width="13.9" height="89.89" fill="#8b9e6f"/>
<text x="121.59" y="642.31" font-size="8.2" text-anchor="middle" fill="#333">13.84</text>
<line x1="121.59" y1="736.4" x2="121.59" y2="741.2" stroke="#333" stroke-width="1"/>
<text x="125.19" y="748.6" font-size="10" text-anchor="end" fill="#333" transform="rotate(-45 125.19 748.6)">cluster 4</text>
<rect x="135.42" y="699.12" width="13.9" height="37.28" fill="#8b9e6f"/>
<text x="142.37" y="694.92" font-size="8.2" text-anchor="middle" fill="#333">5.74</text>
<line x1="142.37" y1="736.4" x2="142.37" y2="741.2" stroke="#333" stroke-width="1"/>
<text x="145.97" y="748.6" font-size="10" text-anchor="end" fill="#333" transform="rotate(-45 145.97 748.6)">cluster 5</text>
<rect x="156.2" y="695.68" width="13.9" height="40.72" fill="#8b9e6f"/>
<text x="163.15" y="691.48" font-size="8.2" text-anchor="middle" fill="#333">6.27</text>
<line x1="163.15" y1="736.4" x2="163.15" y2="741.2" stroke="#333" stroke-width="1"/>
<text x="166.75" y="748.6" font-size="10" text-anchor="end" fill="#333" transform="rotate(-45 166.75 748.6)">cluster 6</text>
<rect x="176.98" y="638.07" width="13.9" height="98.33" fill="#8b9e6f"/>
<text x="183.93" y="633.87" font-size="8.2" text-anchor="middle" fill="#333">15.14</text>
<line x1="183.93" y1="736.4" x2="183.93" y2="741.2" stroke="#333" stroke-width="1"/>
<text x="187.53" y="748.6" font-size="10" text-anchor="end" fill="#333" transform="rotate(-45 187.53 748.6)">cluster 7</text>
<rect x="197.76" y="680.41" width="13.9" height="55.99" fill="#8b9e6f"/>
<text x="204.71" y="676.21" font-size="8.2" text-anchor="middle" fill="#333">8.62</text>
<line x1="204.71" y1="736.4" x2="204.71" y2="741.2" stroke="#333" stroke-width="1"/>
<text x="208.31" y="748.6" font-size="10" text-anchor="end" fill="#333" transform="rotate(-45 208.31 748.6)">cluster 8</text>
<rect x="218.54" y="658.4" width="13.9" height="78" fill="#8b9e6f"/>
<text x="225.49" y="654.2" font-size="8.2" text-anchor="middle" fill="#333">12.01</text>
<line x1="225.49" y1="736.4" x2="225.49" y2="741.2" stroke="#333" stroke-width="1"/>
<text x="229.09" y="748.6" font-size="10" text-anchor="end" fill="#333" transform="rotate(-45 229.09 748.6)">cluster 9</text>
<rect x="239.32" y="692.3" width="13.9" height="44.1" fill="#8b9e6f"/>
<text x="246.27" y="688.1" font-size="8.2" text-anchor="middle" fill="#333">6.79</text>
<line x1="246.27" y1="736.4" x2="246.27" y2="741.2" stroke="#333" stroke-width="1"/>
<text x="249.87" y="748.6" font-size="10" text-anchor="end" fill="#333" transform="rotate(-45 249.87 748.6)">cluster 10</text>
<rect x="260.1" y="716.07" width="13.9" height="20.33" fill="#8b9e6f"/>
<text x="267.05" y="711.87" font-size="8.2" text-anchor="middle" fill="#333">3.13</text>
<line x1="267.05" y1="736.4" x2="267.05" y2="741.2" stroke="#333" stroke-width="1"/>
<text x="270.65" y="748.6" font-size="10" text-anchor="end" fill="#333" transform="rotate(-45 270.65 748.6)">cluster 11</text>
<rect x="280.88" y="700.81" width="13.9" height="35.59" fill="#8b9e6f"/>
<text x="287.83" y="696.61" font-size="8.2" text-anchor="middle" fill="#333">5.48</text>
<line x1="287.83" y1="736.4" x2="287.83" y2="741.2" stroke="#333" stroke-width="1"/>
<text x="291.43" y="748.6" font-size="10" text-anchor="end" fill="#333" transform="rotate(-45 291.43 748.6)">cluster 12</text>
<line x1="45.4" y1="606" x2="45.4" y2="737" stroke="#222" stroke-width="1.2"/>
<line x1="44.8" y1="736.4" x2="301.4" y2="736.4" stroke="#222" stroke-width="1.2"/>
<line x1="40.8" y1="736.4" x2="45.4" y2="736.4" stroke="#222" stroke-width="1"/>
<text x="38.4" y="739.8" font-size="9.6" text-anchor="end">0</text>
<line x1="40.8" y1="703.92" x2="45.4" y2="703.92" stroke="#222" stroke-width="1"/>
<text x="38.4" y="707.32" font-size="9.6" text-anchor="end">5</text>
<line x1="40.8" y1="671.45" x2="45.4" y2="671.45" stroke="#222" stroke-width="1"/>
<text x="38.4" y="674.85" font-size="9.6" text-anchor="end">10</text>
<line x1="40.8" y1="638.98" x2="45.4" y2="638.98" stroke="#222" stroke-width="1"/>
<text x="38.4" y="642.38" font-size="9.6" text-anchor="end">15</text>
<line x1="40.8" y1="606.5" x2="45.4" y2="606.5" stroke="#222" stroke-width="1"/>
<text x="38.4" y="609.9" font-size="9.6" text-anchor="end">20</text>
<text x="20.8" y="671.5" font-size="11" text-anchor="middle" fill="#111" transform="rotate(-90 20.8 671.5)">%</text>
<text x="482.7" y="596.3" font-size="12.2" text-anchor="middle">Glycerolipids</text>
<rect x="360.3" y="719.84" width="13.9" height="16.56" fill="#8b9e6f"/>
<text x="367.25" y="715.64" font-size="8.2" text-anchor="middle" fill="#333">5.10</text>
<line x1="367.25" y1="736.4" x2="367.25" y2="741.2" stroke="#333" stroke-width="1"/>
<text x="370.85" y="748.6" font-size="10" text-anchor="end" fill="#333" transform="rotate(-45 370.85 748.6)">cluster 1</text>
<rect x="381.08" y="719.84" width="13.9" height="16.56" fill="#8b9e6f"/>
<text x="388.03" y="715.64" font-size="8.2" text-anchor="middle" fill="#333">5.10</text>
<line x1="388.03" y1="736.4" x2="388.03" y2="741.2" stroke="#333" stroke-width="1"/>
<text x="391.63" y="748.6" font-size="10" text-anchor="end" fill="#333" transform="rotate(-45 391.63 748.6)">cluster 2</text>
<rect x="401.86" y="729.78" width="13.9" height="6.62" fill="#8b9e6f"/>
<text x="408.81" y="725.58" font-size="8.2" text-anchor="middle" fill="#333">2.04</text>
<line x1="408.81" y1="736.4" x2="408.81" y2="741.2" stroke="#333" stroke-width="1"/>
<text x="412.41" y="748.6" font-size="10" text-anchor="end" fill="#333" transform="rotate(-45 412.41 748.6)">cluster 3</text>
<rect x="422.64" y="696.65" width="13.9" height="39.75" fill="#8b9e6f"/>
<text x="429.59" y="692.45" font-size="8.2" text-anchor="middle" fill="#333">12.24</text>
<line x1="429.59" y1="736.4" x2="429.59" y2="741.2" stroke="#333" stroke-width="1"/>
<text x="433.19" y="748.6" font-size="10" text-anchor="end" fill="#333" transform="rotate(-45 433.19 748.6)">cluster 4</text>
<rect x="443.42" y="696.65" width="13.9" height="39.75" fill="#8b9e6f"/>
<text x="450.37" y="692.45" font-size="8.2" text-anchor="middle" fill="#333">12.24</text>
<line x1="450.37" y1="736.4" x2="450.37" y2="741.2" stroke="#333" stroke-width="1"/>
<text x="453.97" y="748.6" font-size="10" text-anchor="end" fill="#333" transform="rotate(-45 453.97 748.6)">cluster 5</text>
<rect x="464.2" y="699.96" width="13.9" height="36.44" fill="#8b9e6f"/>
<text x="471.15" y="695.76" font-size="8.2" text-anchor="middle" fill="#333">11.22</text>
<line x1="471.15" y1="736.4" x2="471.15" y2="741.2" stroke="#333" stroke-width="1"/>
<text x="474.75" y="748.6" font-size="10" text-anchor="end" fill="#333" transform="rotate(-45 474.75 748.6)">cluster 6</text>
<rect x="484.98" y="630.37" width="13.9" height="106.03" fill="#8b9e6f"/>
<text x="491.93" y="626.17" font-size="8.2" text-anchor="middle" fill="#333">32.65</text>
<line x1="491.93" y1="736.4" x2="491.93" y2="741.2" stroke="#333" stroke-width="1"/>
<text x="495.53" y="748.6" font-size="10" text-anchor="end" fill="#333" transform="rotate(-45 495.53 748.6)">cluster 7</text>
<rect x="505.76" y="723.15" width="13.9" height="13.25" fill="#8b9e6f"/>
<text x="512.71" y="718.95" font-size="8.2" text-anchor="middle" fill="#333">4.08</text>
<line x1="512.71" y1="736.4" x2="512.71" y2="741.2" stroke="#333" stroke-width="1"/>
<text x="516.31" y="748.6" font-size="10" text-anchor="end" fill="#333" transform="rotate(-45 516.31 748.6)">cluster 8</text>
<rect x="526.54" y="719.84" width="13.9" height="16.56" fill="#8b9e6f"/>
<text x="533.49" y="715.64" font-size="8.2" text-anchor="middle" fill="#333">5.10</text>
<line x1="533.49" y1="736.4" x2="533.49" y2="741.2" stroke="#333" stroke-width="1"/>
<text x="537.09" y="748.6" font-size="10" text-anchor="end" fill="#333" transform="rotate(-45 537.09 748.6)">cluster 9</text>
<rect x="547.32" y="729.78" width="13.9" height="6.62" fill="#8b9e6f"/>
<text x="554.27" y="725.58" font-size="8.2" text-anchor="middle" fill="#333">2.04</text>
<line x1="554.27" y1="736.4" x2="554.27" y2="741.2" stroke="#333" stroke-width="1"/>
<text x="557.87" y="748.6" font-size="10" text-anchor="end" fill="#333" transform="rotate(-45 557.87 748.6)">cluster 10</text>
<rect x="568.1" y="716.53" width="13.9" height="19.87" fill="#8b9e6f"/>
<text x="575.05" y="712.33" font-size="8.2" text-anchor="middle" fill="#333">6.12</text>
<line x1="575.05" y1="736.4" x2="575.05" y2="741.2" stroke="#333" stroke-width="1"/>
<text x="578.65" y="748.6" font-size="10" text-anchor="end" fill="#333" transform="rotate(-45 578.65 748.6)">cluster 11</text>
<rect x="588.88" y="729.78" width="13.9" height="6.62" fill="#8b9e6f"/>
<text x="595.83" y="725.58" font-size="8.2" text-anchor="middle" fill="#333">2.04</text>
<line x1="595.83" y1="736.4" x2="595.83" y2="741.2" stroke="#333" stroke-width="1"/>
<text x="599.43" y="748.6" font-size="10" text-anchor="end" fill="#333" transform="rotate(-45 599.43 748.6)">cluster 12</text>
<line x1="353.4" y1="606" x2="353.4" y2="737" stroke="#222" stroke-width="1.2"/>
<line x1="352.8" y1="736.4" x2="609.4" y2="736.4" stroke="#222" stroke-width="1.2"/>
<line x1="348.8" y1="736.4" x2="353.4" y2="736.4" stroke="#222" stroke-width="1"/>
<text x="346.4" y="739.8" font-size="9.6" text-anchor="end">0</text>
<line x1="348.8" y1="703.92" x2="353.4" y2="703.92" stroke="#222" stroke-width="1"/>
<text x="346.4" y="707.32" font-size="9.6" text-anchor="end">10</text>
<line x1="348.8" y1="671.45" x2="353.4" y2="671.45" stroke="#222" stroke-width="1"/>
<text x="346.4" y="674.85" font-size="9.6" text-anchor="end">20</text>
<line x1="348.8" y1="638.98" x2="353.4" y2="638.98" stroke="#222" stroke-width="1"/>
<text x="346.4" y="642.38" font-size="9.6" text-anchor="end">30</text>
<line x1="348.8" y1="606.5" x2="353.4" y2="606.5" stroke="#222" stroke-width="1"/>
<text x="346.4" y="609.9" font-size="9.6" text-anchor="end">40</text>
<text x="328.8" y="671.5" font-size="11" text-anchor="middle" fill="#111" transform="rotate(-90 328.8 671.5)">%</text>
<text x="789.4" y="596.3" font-size="12.2" text-anchor="middle">Saccharolipids</text>
<rect x="668.5" y="672.75" width="13.9" height="63.65" fill="#8b9e6f"/>
<text x="675.45" y="668.55" font-size="8.2" text-anchor="middle" fill="#333">9.80</text>
<line x1="675.45" y1="736.4" x2="675.45" y2="741.2" stroke="#333" stroke-width="1"/>
<text x="679.05" y="748.6" font-size="10" text-anchor="end" fill="#333" transform="rotate(-45 679.05 748.6)">cluster 1</text>
<rect x="689.28" y="698.21" width="13.9" height="38.19" fill="#8b9e6f"/>
<text x="696.23" y="694.01" font-size="8.2" text-anchor="middle" fill="#333">5.88</text>
<line x1="696.23" y1="736.4" x2="696.23" y2="741.2" stroke="#333" stroke-width="1"/>
<text x="699.83" y="748.6" font-size="10" text-anchor="end" fill="#333" transform="rotate(-45 699.83 748.6)">cluster 2</text>
<rect x="710.06" y="723.67" width="13.9" height="12.73" fill="#8b9e6f"/>
<text x="717.01" y="719.47" font-size="8.2" text-anchor="middle" fill="#333">1.96</text>
<line x1="717.01" y1="736.4" x2="717.01" y2="741.2" stroke="#333" stroke-width="1"/>
<text x="720.61" y="748.6" font-size="10" text-anchor="end" fill="#333" transform="rotate(-45 720.61 748.6)">cluster 3</text>
<rect x="730.84" y="710.94" width="13.9" height="25.46" fill="#8b9e6f"/>
<text x="737.79" y="706.74" font-size="8.2" text-anchor="middle" fill="#333">3.92</text>
<line x1="737.79" y1="736.4" x2="737.79" y2="741.2" stroke="#333" stroke-width="1"/>
<text x="741.39" y="748.6" font-size="10" text-anchor="end" fill="#333" transform="rotate(-45 741.39 748.6)">cluster 4</text>
<rect x="751.62" y="634.49" width="13.9" height="101.91" fill="#8b9e6f"/>
<text x="758.57" y="630.29" font-size="8.2" text-anchor="middle" fill="#333">15.69</text>
<line x1="758.57" y1="736.4" x2="758.57" y2="741.2" stroke="#333" stroke-width="1"/>
<text x="762.17" y="748.6" font-size="10" text-anchor="end" fill="#333" transform="rotate(-45 762.17 748.6)">cluster 5</text>
<rect x="772.4" y="647.22" width="13.9" height="89.18" fill="#8b9e6f"/>
<text x="779.35" y="643.02" font-size="8.2" text-anchor="middle" fill="#333">13.73</text>
<line x1="779.35" y1="736.4" x2="779.35" y2="741.2" stroke="#333" stroke-width="1"/>
<text x="782.95" y="748.6" font-size="10" text-anchor="end" fill="#333" transform="rotate(-45 782.95 748.6)">cluster 6</text>
<rect x="793.18" y="621.76" width="13.9" height="114.64" fill="#8b9e6f"/>
<text x="800.13" y="617.56" font-size="8.2" text-anchor="middle" fill="#333">17.65</text>
<line x1="800.13" y1="736.4" x2="800.13" y2="741.2" stroke="#333" stroke-width="1"/>
<text x="803.73" y="748.6" font-size="10" text-anchor="end" fill="#333" transform="rotate(-45 803.73 748.6)">cluster 7</text>
<rect x="813.96" y="685.48" width="13.9" height="50.92" fill="#8b9e6f"/>
<text x="820.91" y="681.28" font-size="8.2" text-anchor="middle" fill="#333">7.84</text>
<line x1="820.91" y1="736.4" x2="820.91" y2="741.2" stroke="#333" stroke-width="1"/>
<text x="824.51" y="748.6" font-size="10" text-anchor="end" fill="#333" transform="rotate(-45 824.51 748.6)">cluster 8</text>
<rect x="834.74" y="647.22" width="13.9" height="89.18" fill="#8b9e6f"/>
<text x="841.69" y="643.02" font-size="8.2" text-anchor="middle" fill="#333">13.73</text>
<line x1="841.69" y1="736.4" x2="841.69" y2="741.2" stroke="#333" stroke-width="1"/>
<text x="845.29" y="748.6" font-size="10" text-anchor="end" fill="#333" transform="rotate(-45 845.29 748.6)">cluster 9</text>
<line x1="862.47" y1="736.4" x2="862.47" y2="741.2" stroke="#333" stroke-width="1"/>
<text x="866.07" y="748.6" font-size="10" text-anchor="end" fill="#333" transform="rotate(-45 866.07 748.6)">cluster 10</text>
<rect x="876.3" y="710.94" width="13.9" height="25.46" fill="#8b9e6f"/>
<text x="883.25" y="706.74" font-size="8.2" text-anchor="middle" fill="#333">3.92</text>
<line x1="883.25" y1="736.4" x2="883.25" y2="741.2" stroke="#333" stroke-width="1"/>
<text x="886.85" y="748.6" font-size="10" text-anchor="end" fill="#333" transform="rotate(-45 886.85 748.6)">cluster 11</text>
<rect x="897.08" y="698.21" width="13.9" height="38.19" fill="#8b9e6f"/>
<text x="904.03" y="694.01" font-size="8.2" text-anchor="middle" fill="#333">5.88</text>
<line x1="904.03" y1="736.4" x2="904.03" y2="741.2" stroke="#333" stroke-width="1"/>
<text x="907.63" y="748.6" font-size="10" text-anchor="end" fill="#333" transform="rotate(-45 907.63 748.6)">cluster 12</text>
<line x1="661.6" y1="606" x2="661.6" y2="737" stroke="#222" stroke-width="1.2"/>
<line x1="661" y1="736.4" x2="917.6" y2="736.4" stroke="#222" stroke-width="1.2"/>
<line x1="657" y1="736.4" x2="661.6" y2="736.4" stroke="#222" stroke-width="1"/>
<text x="654.6" y="739.8" font-size="9.6" text-anchor="end">0</text>
<line x1="657" y1="703.92" x2="661.6" y2="703.92" stroke="#222" stroke-width="1"/>
<text x="654.6" y="707.32" font-size="9.6" text-anchor="end">5</text>
<line x1="657" y1="671.45" x2="661.6" y2="671.45" stroke="#222" stroke-width="1"/>
<text x="654.6" y="674.85" font-size="9.6" text-anchor="end">10</text>
<line x1="657" y1="638.98" x2="661.6" y2="638.98" stroke="#222" stroke-width="1"/>
<text x="654.6" y="642.38" font-size="9.6" text-anchor="end">15</text>
<line x1="657" y1="606.5" x2="661.6" y2="606.5" stroke="#222" stroke-width="1"/>
<text x="654.6" y="609.9" font-size="9.6" text-anchor="end">20</text>
<text x="637" y="671.5" font-size="11" text-anchor="middle" fill="#111" transform="rotate(-90 637 671.5)">%</text>
<text x="1097" y="596.3" font-size="12.2" text-anchor="middle">Sphingolipids</text>
<rect x="976.5" y="684.44" width="13.9" height="51.96" fill="#8b9e6f"/>
<text x="983.45" y="680.24" font-size="8.2" text-anchor="middle" fill="#333">20.00</text>
<line x1="983.45" y1="736.4" x2="983.45" y2="741.2" stroke="#333" stroke-width="1"/>
<text x="987.05" y="748.6" font-size="10" text-anchor="end" fill="#333" transform="rotate(-45 987.05 748.6)">cluster 1</text>
<line x1="1004.23" y1="736.4" x2="1004.23" y2="741.2" stroke="#333" stroke-width="1"/>
<text x="1007.83" y="748.6" font-size="10" text-anchor="end" fill="#333" transform="rotate(-45 1007.83 748.6)">cluster 2</text>
<line x1="1025.01" y1="736.4" x2="1025.01" y2="741.2" stroke="#333" stroke-width="1"/>
<text x="1028.61" y="748.6" font-size="10" text-anchor="end" fill="#333" transform="rotate(-45 1028.61 748.6)">cluster 3</text>
<line x1="1045.79" y1="736.4" x2="1045.79" y2="741.2" stroke="#333" stroke-width="1"/>
<text x="1049.39" y="748.6" font-size="10" text-anchor="end" fill="#333" transform="rotate(-45 1049.39 748.6)">cluster 4</text>
<line x1="1066.57" y1="736.4" x2="1066.57" y2="741.2" stroke="#333" stroke-width="1"/>
<text x="1070.17" y="748.6" font-size="10" text-anchor="end" fill="#333" transform="rotate(-45 1070.17 748.6)">cluster 5</text>
<rect x="1080.4" y="710.42" width="13.9" height="25.98" fill="#8b9e6f"/>
<text x="1087.35" y="706.22" font-size="8.2" text-anchor="middle" fill="#333">10.00</text>
<line x1="1087.35" y1="736.4" x2="1087.35" y2="741.2" stroke="#333" stroke-width="1"/>
<text x="1090.95" y="748.6" font-size="10" text-anchor="end" fill="#333" transform="rotate(-45 1090.95 748.6)">cluster 6</text>
<rect x="1101.18" y="632.48" width="13.9" height="103.92" fill="#8b9e6f"/>
<text x="1108.13" y="628.28" font-size="8.2" text-anchor="middle" fill="#333">40.00</text>
<line x1="1108.13" y1="736.4" x2="1108.13" y2="741.2" stroke="#333" stroke-width="1"/>
<text x="1111.73" y="748.6" font-size="10" text-anchor="end" fill="#333" transform="rotate(-45 1111.73 748.6)">cluster 7</text>
<rect x="1121.96" y="710.42" width="13.9" height="25.98" fill="#8b9e6f"/>
<text x="1128.91" y="706.22" font-size="8.2" text-anchor="middle" fill="#333">10.00</text>
<line x1="1128.91" y1="736.4" x2="1128.91" y2="741.2" stroke="#333" stroke-width="1"/>
<text x="1132.51" y="748.6" font-size="10" text-anchor="end" fill="#333" transform="rotate(-45 1132.51 748.6)">cluster 8</text>
<rect x="1142.74" y="710.42" width="13.9" height="25.98" fill="#8b9e6f"/>
<text x="1149.69" y="706.22" font-size="8.2" text-anchor="middle" fill="#333">10.00</text>
<line x1="1149.69" y1="736.4" x2="1149.69" y2="741.2" stroke="#333" stroke-width="1"/>
<text x="1153.29" y="748.6" font-size="10" text-anchor="end" fill="#333" transform="rotate(-45 1153.29 748.6)">cluster 9</text>
<line x1="1170.47" y1="736.4" x2="1170.47" y2="741.2" stroke="#333" stroke-width="1"/>
<text x="1174.07" y="748.6" font-size="10" text-anchor="end" fill="#333" transform="rotate(-45 1174.07 748.6)">cluster 10</text>
<line x1="1191.25" y1="736.4" x2="1191.25" y2="741.2" stroke="#333" stroke-width="1"/>
<text x="1194.85" y="748.6" font-size="10" text-anchor="end" fill="#333" transform="rotate(-45 1194.85 748.6)">cluster 11</text>
<rect x="1205.08" y="710.42" width="13.9" height="25.98" fill="#8b9e6f"/>
<text x="1212.03" y="706.22" font-size="8.2" text-anchor="middle" fill="#333">10.00</text>
<line x1="1212.03" y1="736.4" x2="1212.03" y2="741.2" stroke="#333" stroke-width="1"/>
<text x="1215.63" y="748.6" font-size="10" text-anchor="end" fill="#333" transform="rotate(-45 1215.63 748.6)">cluster 12</text>
<line x1="969.6" y1="606" x2="969.6" y2="737" stroke="#222" stroke-width="1.2"/>
<line x1="969" y1="736.4" x2="1225.6" y2="736.4" stroke="#222" stroke-width="1.2"/>
<line x1="965" y1="736.4" x2="969.6" y2="736.4" stroke="#222" stroke-width="1"/>
<text x="962.6" y="739.8" font-size="9.6" text-anchor="end">0</text>
<line x1="965" y1="710.42" x2="969.6" y2="710.42" stroke="#222" stroke-width="1"/>
<text x="962.6" y="713.82" font-size="9.6" text-anchor="end">10</text>
<line x1="965" y1="684.44" x2="969.6" y2="684.44" stroke="#222" stroke-width="1"/>
<text x="962.6" y="687.84" font-size="9.6" text-anchor="end">20</text>
<line x1="965" y1="658.46" x2="969.6" y2="658.46" stroke="#222" stroke-width="1"/>
<text x="962.6" y="661.86" font-size="9.6" text-anchor="end">30</text>
<line x1="965" y1="632.48" x2="969.6" y2="632.48" stroke="#222" stroke-width="1"/>
<text x="962.6" y="635.88" font-size="9.6" text-anchor="end">40</text>
<line x1="965" y1="606.5" x2="969.6" y2="606.5" stroke="#222" stroke-width="1"/>
<text x="962.6" y="609.9" font-size="9.6" text-anchor="end">50</text>
<text x="945" y="671.5" font-size="11" text-anchor="middle" fill="#111" transform="rotate(-90 945 671.5)">%</text>
<text x="15.5" y="816.5" font-size="16.5">D</text>
<clipPath id="c0"><rect x="46.8" y="836.5" width="163.8" height="157.7"/></clipPath>
<g clip-path="url(#c0)" fill="none" stroke-linejoin="round">
<polyline points="54.4,917.72 91.5,879.4 128.6,899.57 165.7,915.7 202.8,899.57" stroke="#b4b4b4" stroke-width="0.9" stroke-opacity="0.45"/>
<polyline points="54.4,988.29 91.5,845.12 128.6,913.68 165.7,931.83 202.8,968.13" stroke="#b4b4b4" stroke-width="0.9" stroke-opacity="0.45"/>
<polyline points="54.4,955.97 91.5,859.45 128.6,876.3 165.7,937.38 202.8,951.05" stroke="#6cb44e" stroke-width="0.9" stroke-opacity="0.4"/>
<polyline points="54.4,976.91 91.5,863.42 128.6,891.85 165.7,912.01 202.8,945.26" stroke="#82c060" stroke-width="0.9" stroke-opacity="0.4"/>
<polyline points="54.4,937.23 91.5,860.94 128.6,868.95 165.7,924.72 202.8,955.51" stroke="#a0c880" stroke-width="0.9" stroke-opacity="0.4"/>
<polyline points="54.4,944.84 91.5,865.05 128.6,871.81 165.7,918.25 202.8,942.39" stroke="#5a9a40" stroke-width="0.9" stroke-opacity="0.4"/>
<polyline points="54.4,985.91 91.5,881.28 128.6,871.72 165.7,897.3 202.8,967.92" stroke="#b0d090" stroke-width="0.9" stroke-opacity="0.4"/>
<polyline points="54.4,972.97 91.5,864.52 128.6,884.67 165.7,924.84 202.8,953.65" stroke="#90b870" stroke-width="0.9" stroke-opacity="0.4"/>
<polyline points="54.4,951.96 91.5,866.21 128.6,876.45 165.7,934.64 202.8,943.98" stroke="#6cb44e" stroke-width="0.9" stroke-opacity="0.4"/>
<polyline points="54.4,942.38 91.5,861.41 128.6,882.88 165.7,935.36 202.8,945.94" stroke="#82c060" stroke-width="0.9" stroke-opacity="0.4"/>
<polyline points="54.4,958.95 91.5,868.91 128.6,906.61 165.7,930.57 202.8,960.9" stroke="#a0c880" stroke-width="0.9" stroke-opacity="0.4"/>
<polyline points="54.4,976.27 91.5,865 128.6,891.86 165.7,925.09 202.8,938.5" stroke="#5a9a40" stroke-width="0.9" stroke-opacity="0.4"/>
<polyline points="54.4,975.02 91.5,867.8 128.6,872.07 165.7,929.35 202.8,964.92" stroke="#b0d090" stroke-width="0.9" stroke-opacity="0.4"/>
<polyline points="54.4,961.98 91.5,859.88 128.6,900.46 165.7,926.21 202.8,955.49" stroke="#90b870" stroke-width="0.9" stroke-opacity="0.4"/>
<polyline points="54.4,948.87 91.5,880.96 128.6,882.83 165.7,938.54 202.8,960.29" stroke="#6cb44e" stroke-width="0.9" stroke-opacity="0.4"/>
<polyline points="54.4,965.3 91.5,870.45 128.6,881.76 165.7,930.74 202.8,965.74" stroke="#82c060" stroke-width="0.9" stroke-opacity="0.4"/>
<polyline points="54.4,953.75 91.5,854.88 128.6,880.16 165.7,926.68 202.8,938.65" stroke="#a0c880" stroke-width="0.9" stroke-opacity="0.4"/>
<polyline points="54.4,959 91.5,865.16 128.6,869.05 165.7,932.34 202.8,958.86" stroke="#5a9a40" stroke-width="0.9" stroke-opacity="0.4"/>
<polyline points="54.4,964.22 91.5,876.95 128.6,879.5 165.7,920.37 202.8,945.6" stroke="#b0d090" stroke-width="0.9" stroke-opacity="0.4"/>
<polyline points="54.4,958.9 91.5,879.21 128.6,881.45 165.7,919.2 202.8,941.45" stroke="#90b870" stroke-width="0.9" stroke-opacity="0.4"/>
<polyline points="54.4,952.82 91.5,869.67 128.6,882.19 165.7,935.37 202.8,955.41" stroke="#6cb44e" stroke-width="0.9" stroke-opacity="0.4"/>
<polyline points="54.4,975.71 91.5,878.53 128.6,883.5 165.7,912.18 202.8,936.51" stroke="#82c060" stroke-width="0.9" stroke-opacity="0.4"/>
<polyline points="54.4,961.47 91.5,868.29 128.6,875.86 165.7,914.52 202.8,945.94" stroke="#a0c880" stroke-width="0.9" stroke-opacity="0.4"/>
<polyline points="54.4,960.38 91.5,869.1 128.6,883.09 165.7,899.52 202.8,941.25" stroke="#5a9a40" stroke-width="0.9" stroke-opacity="0.4"/>
<polyline points="54.4,976.42 91.5,860.69 128.6,888.82 165.7,920.25 202.8,955.57" stroke="#b0d090" stroke-width="0.9" stroke-opacity="0.4"/>
<polyline points="54.4,961.84 91.5,871.88 128.6,882.72 165.7,917.53 202.8,945.18" stroke="#90b870" stroke-width="0.9" stroke-opacity="0.4"/>
<polyline points="54.4,987.93 91.5,856.79 128.6,904.52 165.7,938.1 202.8,955.58" stroke="#6cb44e" stroke-width="0.9" stroke-opacity="0.4"/>
<polyline points="54.4,958.61 91.5,867.78 128.6,885.71 165.7,911.72 202.8,950.09" stroke="#82c060" stroke-width="0.9" stroke-opacity="0.4"/>
<polyline points="54.4,965.39 91.5,860.14 128.6,887.5 165.7,899.43 202.8,938.65" stroke="#a0c880" stroke-width="0.9" stroke-opacity="0.4"/>
<polyline points="54.4,964.86 91.5,866.37 128.6,877.03 165.7,914.32 202.8,946.39" stroke="#5a9a40" stroke-width="0.9" stroke-opacity="0.4"/>
<polyline points="54.4,974.69 91.5,875.34 128.6,865.93 165.7,936.65 202.8,957.96" stroke="#b0d090" stroke-width="0.9" stroke-opacity="0.4"/>
<polyline points="54.4,949.62 91.5,878.73 128.6,872.35 165.7,910.67 202.8,927.72" stroke="#90b870" stroke-width="0.9" stroke-opacity="0.4"/>
<polyline points="54.4,947.49 91.5,864.9 128.6,890.77 165.7,907.26 202.8,938.41" stroke="#6cb44e" stroke-width="0.9" stroke-opacity="0.4"/>
<polyline points="54.4,944.1 91.5,853.35 128.6,878.22 165.7,925.21 202.8,960.09" stroke="#82c060" stroke-width="0.9" stroke-opacity="0.4"/>
<polyline points="54.4,958.67 91.5,859.46 128.6,885.97 165.7,919.46 202.8,940.93" stroke="#a0c880" stroke-width="0.9" stroke-opacity="0.4"/>
<polyline points="54.4,944.38 91.5,872.6 128.6,881.35 165.7,931.82 202.8,958.89" stroke="#5a9a40" stroke-width="0.9" stroke-opacity="0.4"/>
<polyline points="54.4,953.57 91.5,858.43 128.6,883.32 165.7,924.22 202.8,955.53" stroke="#b0d090" stroke-width="0.9" stroke-opacity="0.4"/>
<polyline points="54.4,941.18 91.5,871.54 128.6,882.42 165.7,930.51 202.8,943.89" stroke="#90b870" stroke-width="0.9" stroke-opacity="0.4"/>
<polyline points="54.4,970.32 91.5,881.97 128.6,875.62 165.7,920.12 202.8,951.64" stroke="#6cb44e" stroke-width="0.9" stroke-opacity="0.4"/>
<polyline points="54.4,963.22 91.5,864.34 128.6,874.18 165.7,909.75 202.8,943.42" stroke="#82c060" stroke-width="0.9" stroke-opacity="0.4"/>
<polyline points="54.4,964.1 91.5,866.5 128.6,878.6 165.7,921.75 202.8,949.98" stroke="#66ad48" stroke-width="3.8" stroke-linecap="round"/>
</g>
<rect x="163.8" y="975.2" width="25.4" height="12.6" fill="#d2d2d2"/>
<rect x="189.15" y="975.2" width="5.9" height="12.6" fill="#a6a6a6"/>
<rect x="195" y="975.2" width="3.17" height="12.6" fill="#8a8a8a"/>
<rect x="198.12" y="975.2" width="2.39" height="12.6" fill="#6a6a6a"/>
<rect x="200.46" y="975.2" width="2.39" height="12.6" fill="#4a4a4a"/>
<rect x="46.8" y="836.5" width="163.8" height="157.7" fill="none" stroke="#333" stroke-width="1.4"/>
<line x1="43.3" y1="855.21" x2="46.8" y2="855.21" stroke="#333" stroke-width="1"/>
<text x="42.2" y="858.41" font-size="8.8" text-anchor="end">1.5</text>
<line x1="43.3" y1="875.37" x2="46.8" y2="875.37" stroke="#333" stroke-width="1"/>
<text x="42.2" y="878.57" font-size="8.8" text-anchor="end">1.0</text>
<line x1="43.3" y1="895.54" x2="46.8" y2="895.54" stroke="#333" stroke-width="1"/>
<text x="42.2" y="898.74" font-size="8.8" text-anchor="end">0.5</text>
<line x1="43.3" y1="915.7" x2="46.8" y2="915.7" stroke="#333" stroke-width="1"/>
<text x="42.2" y="918.9" font-size="8.8" text-anchor="end">0.0</text>
<line x1="43.3" y1="935.87" x2="46.8" y2="935.87" stroke="#333" stroke-width="1"/>
<text x="42.2" y="939.07" font-size="8.8" text-anchor="end">-0.5</text>
<line x1="43.3" y1="956.03" x2="46.8" y2="956.03" stroke="#333" stroke-width="1"/>
<text x="42.2" y="959.23" font-size="8.8" text-anchor="end">-1.0</text>
<line x1="43.3" y1="976.2" x2="46.8" y2="976.2" stroke="#333" stroke-width="1"/>
<text x="42.2" y="979.4" font-size="8.8" text-anchor="end">-1.5</text>
<line x1="54.4" y1="994.2" x2="54.4" y2="997.2" stroke="#333" stroke-width="1"/>
<text x="54.4" y="1005.6" font-size="9.2" text-anchor="middle">S1</text>
<line x1="91.5" y1="994.2" x2="91.5" y2="997.2" stroke="#333" stroke-width="1"/>
<text x="91.5" y="1005.6" font-size="9.2" text-anchor="middle">S2</text>
<line x1="128.6" y1="994.2" x2="128.6" y2="997.2" stroke="#333" stroke-width="1"/>
<text x="128.6" y="1005.6" font-size="9.2" text-anchor="middle">S3</text>
<line x1="165.7" y1="994.2" x2="165.7" y2="997.2" stroke="#333" stroke-width="1"/>
<text x="165.7" y="1005.6" font-size="9.2" text-anchor="middle">S4</text>
<line x1="202.8" y1="994.2" x2="202.8" y2="997.2" stroke="#333" stroke-width="1"/>
<text x="202.8" y="1005.6" font-size="9.2" text-anchor="middle">S5</text>
<text x="47.1" y="833.3" font-size="9" fill="#333">Cluster 1 (38)</text>
<clipPath id="c1"><rect x="242.6" y="836.3" width="163.9" height="157.9"/></clipPath>
<g clip-path="url(#c1)" fill="none" stroke-linejoin="round">
<polyline points="250.2,883.47 287.32,978.76 324.45,962.19 361.57,875.18 398.7,920.76" stroke="#b4b4b4" stroke-width="0.9" stroke-opacity="0.45"/>
<polyline points="250.2,866.9 287.32,987.04 324.45,933.19 361.57,945.62 398.7,883.47" stroke="#b4b4b4" stroke-width="0.9" stroke-opacity="0.45"/>
<polyline points="250.2,846.18 287.32,941.47 324.45,920.76 361.57,920.76 398.7,900.04" stroke="#b4b4b4" stroke-width="0.9" stroke-opacity="0.45"/>
<polyline points="250.2,857.1 287.32,953.91 324.45,941.75 361.57,952.75 398.7,937.56" stroke="#7a9ccc" stroke-width="0.9" stroke-opacity="0.35"/>
<polyline points="250.2,848.02 287.32,948.97 324.45,954.39 361.57,950.95 398.7,895" stroke="#5a86c0" stroke-width="0.9" stroke-opacity="0.35"/>
<polyline points="250.2,844.7 287.32,923.78 324.45,955.21 361.57,941.55 398.7,895.53" stroke="#9ab4dc" stroke-width="0.9" stroke-opacity="0.35"/>
<polyline points="250.2,844.11 287.32,958.41 324.45,953.15 361.57,955.11 398.7,898.27" stroke="#4a7ab8" stroke-width="0.9" stroke-opacity="0.35"/>
<polyline points="250.2,856.98 287.32,946.57 324.45,966.51 361.57,940.37 398.7,895.9" stroke="#a8bce0" stroke-width="0.9" stroke-opacity="0.35"/>
<polyline points="250.2,844.11 287.32,957.09 324.45,971.21 361.57,934.87 398.7,926.4" stroke="#7a9ccc" stroke-width="0.9" stroke-opacity="0.35"/>
<polyline points="250.2,859.04 287.32,943.12 324.45,970.29 361.57,933.45 398.7,900.43" stroke="#5a86c0" stroke-width="0.9" stroke-opacity="0.35"/>
<polyline points="250.2,850.68 287.32,959.89 324.45,961.78 361.57,923.18 398.7,913.51" stroke="#9ab4dc" stroke-width="0.9" stroke-opacity="0.35"/>
<polyline points="250.2,844.11 287.32,949.79 324.45,958.86 361.57,942.46 398.7,914.36" stroke="#4a7ab8" stroke-width="0.9" stroke-opacity="0.35"/>
<polyline points="250.2,847.69 287.32,941.4 324.45,949.89 361.57,947.49 398.7,930.25" stroke="#a8bce0" stroke-width="0.9" stroke-opacity="0.35"/>
<polyline points="250.2,857.92 287.32,960.2 324.45,977.04 361.57,945.33 398.7,927.62" stroke="#7a9ccc" stroke-width="0.9" stroke-opacity="0.35"/>
<polyline points="250.2,844.11 287.32,956.27 324.45,971.83 361.57,939.54 398.7,916.39" stroke="#5a86c0" stroke-width="0.9" stroke-opacity="0.35"/>
<polyline points="250.2,844.11 287.32,948.68 324.45,944.16 361.57,955.45 398.7,912.76" stroke="#9ab4dc" stroke-width="0.9" stroke-opacity="0.35"/>
<polyline points="250.2,855.58 287.32,955.5 324.45,973.87 361.57,936.26 398.7,940.56" stroke="#4a7ab8" stroke-width="0.9" stroke-opacity="0.35"/>
<polyline points="250.2,847.02 287.32,945.57 324.45,956.53 361.57,968.51 398.7,904.31" stroke="#a8bce0" stroke-width="0.9" stroke-opacity="0.35"/>
<polyline points="250.2,858.2 287.32,946.22 324.45,963.02 361.57,916.58 398.7,924.63" stroke="#7a9ccc" stroke-width="0.9" stroke-opacity="0.35"/>
<polyline points="250.2,853.18 287.32,947.28 324.45,972.2 361.57,952.27 398.7,919.56" stroke="#5a86c0" stroke-width="0.9" stroke-opacity="0.35"/>
<polyline points="250.2,848.28 287.32,954.05 324.45,944.91 361.57,916.88 398.7,898.22" stroke="#9ab4dc" stroke-width="0.9" stroke-opacity="0.35"/>
<polyline points="250.2,851.16 287.32,943.58 324.45,942.34 361.57,919.16 398.7,906.28" stroke="#4a7ab8" stroke-width="0.9" stroke-opacity="0.35"/>
<polyline points="250.2,856.44 287.32,938.15 324.45,953.3 361.57,943.89 398.7,918.08" stroke="#a8bce0" stroke-width="0.9" stroke-opacity="0.35"/>
<polyline points="250.2,864.84 287.32,965.73 324.45,970.51 361.57,940.8 398.7,913.03" stroke="#7a9ccc" stroke-width="0.9" stroke-opacity="0.35"/>
<polyline points="250.2,858.36 287.32,952.8 324.45,948.07 361.57,962.61 398.7,922.41" stroke="#5a86c0" stroke-width="0.9" stroke-opacity="0.35"/>
<polyline points="250.2,863.47 287.32,929.57 324.45,963.08 361.57,924.38 398.7,905.07" stroke="#9ab4dc" stroke-width="0.9" stroke-opacity="0.35"/>
<polyline points="250.2,857.62 287.32,943.7 324.45,958.16 361.57,938.11 398.7,913.29" stroke="#4a7ab8" stroke-width="0.9" stroke-opacity="0.35"/>
<polyline points="250.2,844.26 287.32,944.07 324.45,966.29 361.57,934.1 398.7,927.7" stroke="#a8bce0" stroke-width="0.9" stroke-opacity="0.35"/>
<polyline points="250.2,864.56 287.32,954.37 324.45,967.4 361.57,955.15 398.7,932.26" stroke="#7a9ccc" stroke-width="0.9" stroke-opacity="0.35"/>
<polyline points="250.2,844.11 287.32,941.24 324.45,965.29 361.57,925.82 398.7,917.64" stroke="#5a86c0" stroke-width="0.9" stroke-opacity="0.35"/>
<polyline points="250.2,858.81 287.32,961.06 324.45,956.5 361.57,946.83 398.7,912.62" stroke="#9ab4dc" stroke-width="0.9" stroke-opacity="0.35"/>
<polyline points="250.2,844.11 287.32,940.61 324.45,960.68 361.57,961.17 398.7,922.35" stroke="#4a7ab8" stroke-width="0.9" stroke-opacity="0.35"/>
<polyline points="250.2,858.26 287.32,956.85 324.45,979.83 361.57,943.26 398.7,932.66" stroke="#a8bce0" stroke-width="0.9" stroke-opacity="0.35"/>
<polyline points="250.2,844.11 287.32,953 324.45,952.14 361.57,940.27 398.7,927.7" stroke="#7a9ccc" stroke-width="0.9" stroke-opacity="0.35"/>
<polyline points="250.2,848.7 287.32,954.88 324.45,963.2 361.57,946.13 398.7,945.24" stroke="#5a86c0" stroke-width="0.9" stroke-opacity="0.35"/>
<polyline points="250.2,844.11 287.32,944.59 324.45,961.3 361.57,925.04 398.7,930.97" stroke="#9ab4dc" stroke-width="0.9" stroke-opacity="0.35"/>
<polyline points="250.2,877.64 287.32,947.78 324.45,967.31 361.57,946.64 398.7,924.72" stroke="#4a7ab8" stroke-width="0.9" stroke-opacity="0.35"/>
<polyline points="250.2,853.59 287.32,961.07 324.45,960.7 361.57,934.96 398.7,911.25" stroke="#a8bce0" stroke-width="0.9" stroke-opacity="0.35"/>
<polyline points="250.2,844.11 287.32,944.39 324.45,956.69 361.57,942.6 398.7,908.66" stroke="#7a9ccc" stroke-width="0.9" stroke-opacity="0.35"/>
<polyline points="250.2,852.88 287.32,964.26 324.45,969.19 361.57,972.39 398.7,920.43" stroke="#5a86c0" stroke-width="0.9" stroke-opacity="0.35"/>
<polyline points="250.2,850.24 287.32,945.94 324.45,950.84 361.57,952.64 398.7,948.32" stroke="#9ab4dc" stroke-width="0.9" stroke-opacity="0.35"/>
<polyline points="250.2,858.56 287.32,951.11 324.45,976.28 361.57,964.25 398.7,933.32" stroke="#4a7ab8" stroke-width="0.9" stroke-opacity="0.35"/>
<polyline points="250.2,844.11 287.32,939.41 324.45,966.29 361.57,953.18 398.7,915.71" stroke="#a8bce0" stroke-width="0.9" stroke-opacity="0.35"/>
<polyline points="250.2,848.85 287.32,948.67 324.45,970.13 361.57,960.37 398.7,896.93" stroke="#7a9ccc" stroke-width="0.9" stroke-opacity="0.35"/>
<polyline points="250.2,851.74 287.32,940.08 324.45,960.44 361.57,942.23 398.7,912.82" stroke="#5a86c0" stroke-width="0.9" stroke-opacity="0.35"/>
<polyline points="250.2,854.19 287.32,938.21 324.45,953.18 361.57,946.67 398.7,914.45" stroke="#9ab4dc" stroke-width="0.9" stroke-opacity="0.35"/>
<polyline points="250.2,844.11 287.32,960.71 324.45,953.28 361.57,929.12 398.7,893.48" stroke="#4a7ab8" stroke-width="0.9" stroke-opacity="0.35"/>
<polyline points="250.2,844.11 287.32,959.02 324.45,953.26 361.57,950.74 398.7,904.5" stroke="#a8bce0" stroke-width="0.9" stroke-opacity="0.35"/>
<polyline points="250.2,849.37 287.32,941.25 324.45,965.7 361.57,943.07 398.7,908.71" stroke="#7a9ccc" stroke-width="0.9" stroke-opacity="0.35"/>
<polyline points="250.2,845.44 287.32,941.03 324.45,944.76 361.57,959.15 398.7,915.43" stroke="#5a86c0" stroke-width="0.9" stroke-opacity="0.35"/>
<polyline points="250.2,868.53 287.32,944.07 324.45,946.73 361.57,942.74 398.7,899.14" stroke="#9ab4dc" stroke-width="0.9" stroke-opacity="0.35"/>
<polyline points="250.2,844.11 287.32,946.02 324.45,952.44 361.57,931.58 398.7,927.53" stroke="#4a7ab8" stroke-width="0.9" stroke-opacity="0.35"/>
<polyline points="250.2,863.83 287.32,954.69 324.45,967.36 361.57,936.63 398.7,949.66" stroke="#a8bce0" stroke-width="0.9" stroke-opacity="0.35"/>
<polyline points="250.2,872.59 287.32,969.99 324.45,958.47 361.57,949.58 398.7,919.62" stroke="#7a9ccc" stroke-width="0.9" stroke-opacity="0.35"/>
<polyline points="250.2,855.15 287.32,955.87 324.45,966.89 361.57,942.94 398.7,920.09" stroke="#5a86c0" stroke-width="0.9" stroke-opacity="0.35"/>
<polyline points="250.2,848.24 287.32,951.61 324.45,959.56 361.57,945.25 398.7,886.71" stroke="#9ab4dc" stroke-width="0.9" stroke-opacity="0.35"/>
<polyline points="250.2,851.15 287.32,950.59 324.45,960.12 361.57,945.62 398.7,916.61" stroke="#3a86c6" stroke-width="3.8" stroke-linecap="round"/>
</g>
<rect x="359.2" y="975.2" width="32.03" height="12.6" fill="#d2d2d2"/>
<rect x="391.18" y="975.2" width="7.07" height="12.6" fill="#8a8a8a"/>
<rect x="242.6" y="836.3" width="163.9" height="157.9" fill="none" stroke="#333" stroke-width="1.4"/>
<line x1="239.1" y1="842.04" x2="242.6" y2="842.04" stroke="#333" stroke-width="1"/>
<text x="238" y="845.24" font-size="8.8" text-anchor="end">2.0</text>
<line x1="239.1" y1="862.75" x2="242.6" y2="862.75" stroke="#333" stroke-width="1"/>
<text x="238" y="865.96" font-size="8.8" text-anchor="end">1.5</text>
<line x1="239.1" y1="883.47" x2="242.6" y2="883.47" stroke="#333" stroke-width="1"/>
<text x="238" y="886.67" font-size="8.8" text-anchor="end">1.0</text>
<line x1="239.1" y1="904.18" x2="242.6" y2="904.18" stroke="#333" stroke-width="1"/>
<text x="238" y="907.38" font-size="8.8" text-anchor="end">0.5</text>
<line x1="239.1" y1="924.9" x2="242.6" y2="924.9" stroke="#333" stroke-width="1"/>
<text x="238" y="928.1" font-size="8.8" text-anchor="end">0.0</text>
<line x1="239.1" y1="945.62" x2="242.6" y2="945.62" stroke="#333" stroke-width="1"/>
<text x="238" y="948.82" font-size="8.8" text-anchor="end">-0.5</text>
<line x1="239.1" y1="966.33" x2="242.6" y2="966.33" stroke="#333" stroke-width="1"/>
<text x="238" y="969.53" font-size="8.8" text-anchor="end">-1.0</text>
<line x1="239.1" y1="987.04" x2="242.6" y2="987.04" stroke="#333" stroke-width="1"/>
<text x="238" y="990.25" font-size="8.8" text-anchor="end">-1.5</text>
<line x1="250.2" y1="994.2" x2="250.2" y2="997.2" stroke="#333" stroke-width="1"/>
<text x="250.2" y="1005.6" font-size="9.2" text-anchor="middle">S1</text>
<line x1="287.32" y1="994.2" x2="287.32" y2="997.2" stroke="#333" stroke-width="1"/>
<text x="287.32" y="1005.6" font-size="9.2" text-anchor="middle">S2</text>
<line x1="324.45" y1="994.2" x2="324.45" y2="997.2" stroke="#333" stroke-width="1"/>
<text x="324.45" y="1005.6" font-size="9.2" text-anchor="middle">S3</text>
<line x1="361.57" y1="994.2" x2="361.57" y2="997.2" stroke="#333" stroke-width="1"/>
<text x="361.57" y="1005.6" font-size="9.2" text-anchor="middle">S4</text>
<line x1="398.7" y1="994.2" x2="398.7" y2="997.2" stroke="#333" stroke-width="1"/>
<text x="398.7" y="1005.6" font-size="9.2" text-anchor="middle">S5</text>
<text x="242.9" y="833.1" font-size="9" fill="#333">Cluster 2 (53)</text>
<clipPath id="c2"><rect x="437.5" y="836.4" width="163.5" height="158.2"/></clipPath>
<g clip-path="url(#c2)" fill="none" stroke-linejoin="round">
<polyline points="445.1,906.38 482.12,951.54 519.15,902.27 556.17,873.53 593.2,865.32" stroke="#b4b4b4" stroke-width="0.9" stroke-opacity="0.45"/>
<polyline points="445.1,931.01 482.12,984.39 519.15,959.75 556.17,844.79 593.2,922.8" stroke="#b4b4b4" stroke-width="0.9" stroke-opacity="0.45"/>
<polyline points="445.1,938.08 482.12,957.94 519.15,927.77 556.17,847.02 593.2,910.01" stroke="#6cb44e" stroke-width="0.9" stroke-opacity="0.4"/>
<polyline points="445.1,955.86 482.12,976.6 519.15,947.89 556.17,849.06 593.2,894.25" stroke="#82c060" stroke-width="0.9" stroke-opacity="0.4"/>
<polyline points="445.1,959.15 482.12,975.44 519.15,922.58 556.17,872.71 593.2,906.37" stroke="#a0c880" stroke-width="0.9" stroke-opacity="0.4"/>
<polyline points="445.1,942.09 482.12,956.55 519.15,920.99 556.17,866.41 593.2,917.29" stroke="#5a9a40" stroke-width="0.9" stroke-opacity="0.4"/>
<polyline points="445.1,961.82 482.12,964.15 519.15,934.52 556.17,848.78 593.2,886.75" stroke="#b0d090" stroke-width="0.9" stroke-opacity="0.4"/>
<polyline points="445.1,934.67 482.12,977.17 519.15,950.56 556.17,861.11 593.2,892.67" stroke="#90b870" stroke-width="0.9" stroke-opacity="0.4"/>
<polyline points="445.1,957.62 482.12,956.02 519.15,957.57 556.17,862.27 593.2,912.14" stroke="#6cb44e" stroke-width="0.9" stroke-opacity="0.4"/>
<polyline points="445.1,943.04 482.12,963.4 519.15,941.26 556.17,857.59 593.2,880.51" stroke="#82c060" stroke-width="0.9" stroke-opacity="0.4"/>
<polyline points="445.1,957.15 482.12,975.04 519.15,949.57 556.17,865.16 593.2,913.71" stroke="#a0c880" stroke-width="0.9" stroke-opacity="0.4"/>
<polyline points="445.1,970.78 482.12,962.11 519.15,952.84 556.17,885.7 593.2,892.48" stroke="#5a9a40" stroke-width="0.9" stroke-opacity="0.4"/>
<polyline points="445.1,964.58 482.12,963.84 519.15,924.51 556.17,872.66 593.2,917.31" stroke="#b0d090" stroke-width="0.9" stroke-opacity="0.4"/>
<polyline points="445.1,935.39 482.12,984.17 519.15,953.29 556.17,870.28 593.2,911.38" stroke="#90b870" stroke-width="0.9" stroke-opacity="0.4"/>
<polyline points="445.1,933.37 482.12,969.76 519.15,960.48 556.17,846.8 593.2,890.69" stroke="#6cb44e" stroke-width="0.9" stroke-opacity="0.4"/>
<polyline points="445.1,950.86 482.12,951.93 519.15,926.47 556.17,853.72 593.2,908.5" stroke="#82c060" stroke-width="0.9" stroke-opacity="0.4"/>
<polyline points="445.1,948.81 482.12,954.25 519.15,929.24 556.17,863.82 593.2,919.04" stroke="#a0c880" stroke-width="0.9" stroke-opacity="0.4"/>
<polyline points="445.1,942.41 482.12,966.26 519.15,924.63 556.17,853.9 593.2,886.14" stroke="#5a9a40" stroke-width="0.9" stroke-opacity="0.4"/>
<polyline points="445.1,947.62 482.12,964.29 519.15,942.56 556.17,857.45 593.2,892.96" stroke="#b0d090" stroke-width="0.9" stroke-opacity="0.4"/>
<polyline points="445.1,943.48 482.12,974.83 519.15,931.84 556.17,862.65 593.2,913.71" stroke="#90b870" stroke-width="0.9" stroke-opacity="0.4"/>
<polyline points="445.1,947.92 482.12,962.14 519.15,943.1 556.17,845.02 593.2,894.16" stroke="#6cb44e" stroke-width="0.9" stroke-opacity="0.4"/>
<polyline points="445.1,935.11 482.12,962.04 519.15,958.9 556.17,880.4 593.2,892.51" stroke="#82c060" stroke-width="0.9" stroke-opacity="0.4"/>
<polyline points="445.1,953.79 482.12,973.02 519.15,930.89 556.17,857.76 593.2,895.42" stroke="#a0c880" stroke-width="0.9" stroke-opacity="0.4"/>
<polyline points="445.1,960.11 482.12,955.61 519.15,964.66 556.17,851.11 593.2,906.84" stroke="#5a9a40" stroke-width="0.9" stroke-opacity="0.4"/>
<polyline points="445.1,938.36 482.12,967.62 519.15,933.71 556.17,846.64 593.2,908.63" stroke="#b0d090" stroke-width="0.9" stroke-opacity="0.4"/>
<polyline points="445.1,948.26 482.12,967.97 519.15,937.17 556.17,861.21 593.2,898.99" stroke="#6cb44e" stroke-width="3.8" stroke-linecap="round"/>
</g>
<rect x="555" y="974.8" width="33.33" height="12.9" fill="#d2d2d2"/>
<rect x="588.28" y="974.8" width="5.47" height="12.9" fill="#8a8a8a"/>
<rect x="437.5" y="836.4" width="163.5" height="158.2" fill="none" stroke="#333" stroke-width="1.4"/>
<line x1="434" y1="840.68" x2="437.5" y2="840.68" stroke="#333" stroke-width="1"/>
<text x="432.9" y="843.88" font-size="8.8" text-anchor="end">2.0</text>
<line x1="434" y1="861.21" x2="437.5" y2="861.21" stroke="#333" stroke-width="1"/>
<text x="432.9" y="864.41" font-size="8.8" text-anchor="end">1.5</text>
<line x1="434" y1="881.74" x2="437.5" y2="881.74" stroke="#333" stroke-width="1"/>
<text x="432.9" y="884.94" font-size="8.8" text-anchor="end">1.0</text>
<line x1="434" y1="902.27" x2="437.5" y2="902.27" stroke="#333" stroke-width="1"/>
<text x="432.9" y="905.47" font-size="8.8" text-anchor="end">0.5</text>
<line x1="434" y1="922.8" x2="437.5" y2="922.8" stroke="#333" stroke-width="1"/>
<text x="432.9" y="926" font-size="8.8" text-anchor="end">0.0</text>
<line x1="434" y1="943.33" x2="437.5" y2="943.33" stroke="#333" stroke-width="1"/>
<text x="432.9" y="946.53" font-size="8.8" text-anchor="end">-0.5</text>
<line x1="434" y1="963.86" x2="437.5" y2="963.86" stroke="#333" stroke-width="1"/>
<text x="432.9" y="967.06" font-size="8.8" text-anchor="end">-1.0</text>
<line x1="434" y1="984.39" x2="437.5" y2="984.39" stroke="#333" stroke-width="1"/>
<text x="432.9" y="987.59" font-size="8.8" text-anchor="end">-1.5</text>
<line x1="445.1" y1="994.6" x2="445.1" y2="997.6" stroke="#333" stroke-width="1"/>
<text x="445.1" y="1006" font-size="9.2" text-anchor="middle">S1</text>
<line x1="482.12" y1="994.6" x2="482.12" y2="997.6" stroke="#333" stroke-width="1"/>
<text x="482.12" y="1006" font-size="9.2" text-anchor="middle">S2</text>
<line x1="519.15" y1="994.6" x2="519.15" y2="997.6" stroke="#333" stroke-width="1"/>
<text x="519.15" y="1006" font-size="9.2" text-anchor="middle">S3</text>
<line x1="556.17" y1="994.6" x2="556.17" y2="997.6" stroke="#333" stroke-width="1"/>
<text x="556.17" y="1006" font-size="9.2" text-anchor="middle">S4</text>
<line x1="593.2" y1="994.6" x2="593.2" y2="997.6" stroke="#333" stroke-width="1"/>
<text x="593.2" y="1006" font-size="9.2" text-anchor="middle">S5</text>
<text x="437.8" y="833.2" font-size="9" fill="#333">Cluster 3 (23)</text>
<clipPath id="c3"><rect x="634.1" y="836.4" width="163.2" height="158.2"/></clipPath>
<g clip-path="url(#c3)" fill="none" stroke-linejoin="round">
<polyline points="641.7,931.5 678.65,931.5 715.6,940.41 752.55,971.61 789.5,846.82" stroke="#b4b4b4" stroke-width="0.9" stroke-opacity="0.45"/>
<polyline points="641.7,984.98 678.65,944.87 715.6,931.5 752.55,949.33 789.5,855.73" stroke="#b4b4b4" stroke-width="0.9" stroke-opacity="0.45"/>
<polyline points="641.7,944.71 678.65,966.22 715.6,961.96 752.55,949.31 789.5,848.65" stroke="#6cb44e" stroke-width="0.9" stroke-opacity="0.35"/>
<polyline points="641.7,952.52 678.65,968.56 715.6,961.87 752.55,948.67 789.5,842.74" stroke="#82c060" stroke-width="0.9" stroke-opacity="0.35"/>
<polyline points="641.7,953.02 678.65,968.15 715.6,953.63 752.55,923.25 789.5,848.58" stroke="#a0c880" stroke-width="0.9" stroke-opacity="0.35"/>
<polyline points="641.7,959.1 678.65,964.27 715.6,954.94 752.55,916.62 789.5,845.15" stroke="#5a9a40" stroke-width="0.9" stroke-opacity="0.35"/>
<polyline points="641.7,952.26 678.65,956.57 715.6,960.64 752.55,949.24 789.5,855.78" stroke="#b0d090" stroke-width="0.9" stroke-opacity="0.35"/>
<polyline points="641.7,946.95 678.65,979.92 715.6,966.48 752.55,927.84 789.5,844.77" stroke="#90b870" stroke-width="0.9" stroke-opacity="0.35"/>
<polyline points="641.7,980.46 678.65,975.34 715.6,966.58 752.55,938.2 789.5,849.07" stroke="#6cb44e" stroke-width="0.9" stroke-opacity="0.35"/>
<polyline points="641.7,947.85 678.65,959.35 715.6,933.61 752.55,906.47 789.5,855.23" stroke="#82c060" stroke-width="0.9" stroke-opacity="0.35"/>
<polyline points="641.7,974.12 678.65,967.43 715.6,962.08 752.55,913.26 789.5,846.21" stroke="#a0c880" stroke-width="0.9" stroke-opacity="0.35"/>
<polyline points="641.7,947.69 678.65,965 715.6,955.04 752.55,922.66 789.5,850.02" stroke="#5a9a40" stroke-width="0.9" stroke-opacity="0.35"/>
<polyline points="641.7,950.25 678.65,977.69 715.6,950.46 752.55,919.67 789.5,835.93" stroke="#b0d090" stroke-width="0.9" stroke-opacity="0.35"/>
<polyline points="641.7,957.76 678.65,979.06 715.6,965.07 752.55,930.79 789.5,852.62" stroke="#90b870" stroke-width="0.9" stroke-opacity="0.35"/>
<polyline points="641.7,971.19 678.65,968.64 715.6,972.1 752.55,912.67 789.5,856.01" stroke="#6cb44e" stroke-width="0.9" stroke-opacity="0.35"/>
<polyline points="641.7,950.54 678.65,956.04 715.6,955.31 752.55,909.39 789.5,847.27" stroke="#82c060" stroke-width="0.9" stroke-opacity="0.35"/>
<polyline points="641.7,947.18 678.65,972.94 715.6,970.54 752.55,935.39 789.5,848.47" stroke="#a0c880" stroke-width="0.9" stroke-opacity="0.35"/>
<polyline points="641.7,945.99 678.65,976.25 715.6,965.22 752.55,939.04 789.5,845.57" stroke="#5a9a40" stroke-width="0.9" stroke-opacity="0.35"/>
<polyline points="641.7,963.79 678.65,955.02 715.6,962.7 752.55,938.59 789.5,852.49" stroke="#b0d090" stroke-width="0.9" stroke-opacity="0.35"/>
<polyline points="641.7,976.79 678.65,989.27 715.6,964.81 752.55,938.9 789.5,839.73" stroke="#90b870" stroke-width="0.9" stroke-opacity="0.35"/>
<polyline points="641.7,952.51 678.65,957.22 715.6,958.2 752.55,931.08 789.5,855.83" stroke="#6cb44e" stroke-width="0.9" stroke-opacity="0.35"/>
<polyline points="641.7,971.77 678.65,952.26 715.6,963.79 752.55,934.72 789.5,845.74" stroke="#82c060" stroke-width="0.9" stroke-opacity="0.35"/>
<polyline points="641.7,959.72 678.65,967.36 715.6,941 752.55,923.08 789.5,850.9" stroke="#a0c880" stroke-width="0.9" stroke-opacity="0.35"/>
<polyline points="641.7,961.66 678.65,971.57 715.6,955.95 752.55,920.45 789.5,851.72" stroke="#5a9a40" stroke-width="0.9" stroke-opacity="0.35"/>
<polyline points="641.7,959.85 678.65,979.45 715.6,961.98 752.55,918.68 789.5,853.51" stroke="#b0d090" stroke-width="0.9" stroke-opacity="0.35"/>
<polyline points="641.7,958.39 678.65,971.53 715.6,963.56 752.55,924.08 789.5,853.52" stroke="#90b870" stroke-width="0.9" stroke-opacity="0.35"/>
<polyline points="641.7,944.29 678.65,953.31 715.6,948.48 752.55,940.32 789.5,857.7" stroke="#6cb44e" stroke-width="0.9" stroke-opacity="0.35"/>
<polyline points="641.7,963.41 678.65,963.82 715.6,959.62 752.55,930.54 789.5,848.98" stroke="#82c060" stroke-width="0.9" stroke-opacity="0.35"/>
<polyline points="641.7,961.06 678.65,959.19 715.6,972.15 752.55,923.1 789.5,846.82" stroke="#a0c880" stroke-width="0.9" stroke-opacity="0.35"/>
<polyline points="641.7,963.55 678.65,931.77 715.6,956.68 752.55,924.55 789.5,854.57" stroke="#5a9a40" stroke-width="0.9" stroke-opacity="0.35"/>
<polyline points="641.7,954.12 678.65,963.03 715.6,949.11 752.55,934.54 789.5,844.07" stroke="#b0d090" stroke-width="0.9" stroke-opacity="0.35"/>
<polyline points="641.7,971.92 678.65,964.82 715.6,975.26 752.55,928.15 789.5,845.7" stroke="#90b870" stroke-width="0.9" stroke-opacity="0.35"/>
<polyline points="641.7,974.31 678.65,958.77 715.6,955.02 752.55,949.58 789.5,853.5" stroke="#6cb44e" stroke-width="0.9" stroke-opacity="0.35"/>
<polyline points="641.7,962.98 678.65,960.39 715.6,946.72 752.55,937.08 789.5,853.45" stroke="#82c060" stroke-width="0.9" stroke-opacity="0.35"/>
<polyline points="641.7,961.42 678.65,989.49 715.6,955.15 752.55,930.14 789.5,850.48" stroke="#a0c880" stroke-width="0.9" stroke-opacity="0.35"/>
<polyline points="641.7,941.98 678.65,967.62 715.6,965.91 752.55,914.46 789.5,851.13" stroke="#5a9a40" stroke-width="0.9" stroke-opacity="0.35"/>
<polyline points="641.7,956.56 678.65,967.84 715.6,959.48 752.55,925.13 789.5,847.66" stroke="#b0d090" stroke-width="0.9" stroke-opacity="0.35"/>
<polyline points="641.7,969.99 678.65,953.28 715.6,962.69 752.55,933.64 789.5,845.32" stroke="#90b870" stroke-width="0.9" stroke-opacity="0.35"/>
<polyline points="641.7,962.14 678.65,960.74 715.6,949.08 752.55,915.79 789.5,850.96" stroke="#6cb44e" stroke-width="0.9" stroke-opacity="0.35"/>
<polyline points="641.7,945.63 678.65,966.74 715.6,966.04 752.55,938.92 789.5,847.59" stroke="#82c060" stroke-width="0.9" stroke-opacity="0.35"/>
<polyline points="641.7,964.32 678.65,953.13 715.6,951.8 752.55,920.1 789.5,843.93" stroke="#a0c880" stroke-width="0.9" stroke-opacity="0.35"/>
<polyline points="641.7,946.35 678.65,971.77 715.6,937.08 752.55,947.51 789.5,848.33" stroke="#5a9a40" stroke-width="0.9" stroke-opacity="0.35"/>
<polyline points="641.7,977.3 678.65,967.38 715.6,963.02 752.55,946.17 789.5,846.63" stroke="#b0d090" stroke-width="0.9" stroke-opacity="0.35"/>
<polyline points="641.7,955.67 678.65,964.87 715.6,968.32 752.55,909.15 789.5,850.01" stroke="#90b870" stroke-width="0.9" stroke-opacity="0.35"/>
<polyline points="641.7,948.72 678.65,978.13 715.6,946.43 752.55,932.43 789.5,844.71" stroke="#6cb44e" stroke-width="0.9" stroke-opacity="0.35"/>
<polyline points="641.7,961.38 678.65,965.4 715.6,954.85 752.55,928.39 789.5,839.6" stroke="#82c060" stroke-width="0.9" stroke-opacity="0.35"/>
<polyline points="641.7,958.72 678.65,967.15 715.6,949.38 752.55,925.35 789.5,853.1" stroke="#a0c880" stroke-width="0.9" stroke-opacity="0.35"/>
<polyline points="641.7,959.81 678.65,958.04 715.6,958.27 752.55,912.56 789.5,854.05" stroke="#5a9a40" stroke-width="0.9" stroke-opacity="0.35"/>
<polyline points="641.7,953.22 678.65,971.35 715.6,962.05 752.55,935.64 789.5,852.61" stroke="#b0d090" stroke-width="0.9" stroke-opacity="0.35"/>
<polyline points="641.7,930.49 678.65,963.24 715.6,951.91 752.55,922.51 789.5,840.26" stroke="#90b870" stroke-width="0.9" stroke-opacity="0.35"/>
<polyline points="641.7,962.62 678.65,975.93 715.6,953.24 752.55,939.95 789.5,842.38" stroke="#6cb44e" stroke-width="0.9" stroke-opacity="0.35"/>
<polyline points="641.7,966.63 678.65,966.93 715.6,952.91 752.55,942.07 789.5,850.17" stroke="#82c060" stroke-width="0.9" stroke-opacity="0.35"/>
<polyline points="641.7,952.89 678.65,977.48 715.6,959.7 752.55,946.09 789.5,849.69" stroke="#a0c880" stroke-width="0.9" stroke-opacity="0.35"/>
<polyline points="641.7,938.58 678.65,952.32 715.6,960.6 752.55,930.3 789.5,852.2" stroke="#5a9a40" stroke-width="0.9" stroke-opacity="0.35"/>
<polyline points="641.7,947.94 678.65,958.37 715.6,971.09 752.55,939.89 789.5,854.55" stroke="#b0d090" stroke-width="0.9" stroke-opacity="0.35"/>
<polyline points="641.7,954.64 678.65,962.55 715.6,957.66 752.55,919.48 789.5,846.34" stroke="#90b870" stroke-width="0.9" stroke-opacity="0.35"/>
<polyline points="641.7,956.64 678.65,959.98 715.6,963.4 752.55,917.64 789.5,844.36" stroke="#6cb44e" stroke-width="0.9" stroke-opacity="0.35"/>
<polyline points="641.7,980.19 678.65,950.36 715.6,959.7 752.55,918.1 789.5,848.81" stroke="#82c060" stroke-width="0.9" stroke-opacity="0.35"/>
<polyline points="641.7,939.71 678.65,965.02 715.6,955.4 752.55,934.89 789.5,848.92" stroke="#a0c880" stroke-width="0.9" stroke-opacity="0.35"/>
<polyline points="641.7,951.85 678.65,973.33 715.6,960.46 752.55,935.11 789.5,848.6" stroke="#5a9a40" stroke-width="0.9" stroke-opacity="0.35"/>
<polyline points="641.7,946.04 678.65,963.51 715.6,947.53 752.55,936.59 789.5,850.49" stroke="#b0d090" stroke-width="0.9" stroke-opacity="0.35"/>
<polyline points="641.7,958.65 678.65,972.75 715.6,955.66 752.55,937.19 789.5,852.36" stroke="#90b870" stroke-width="0.9" stroke-opacity="0.35"/>
<polyline points="641.7,954.05 678.65,971.7 715.6,959.25 752.55,929.23 789.5,844.22" stroke="#6cb44e" stroke-width="0.9" stroke-opacity="0.35"/>
<polyline points="641.7,941.08 678.65,960.34 715.6,965.17 752.55,917.09 789.5,838.28" stroke="#82c060" stroke-width="0.9" stroke-opacity="0.35"/>
<polyline points="641.7,960.94 678.65,967.04 715.6,947.64 752.55,929.14 789.5,850.66" stroke="#a0c880" stroke-width="0.9" stroke-opacity="0.35"/>
<polyline points="641.7,944.31 678.65,972.91 715.6,950.58 752.55,939.06 789.5,846.82" stroke="#5a9a40" stroke-width="0.9" stroke-opacity="0.35"/>
<polyline points="641.7,957.99 678.65,972.49 715.6,951.99 752.55,947.33 789.5,846.63" stroke="#b0d090" stroke-width="0.9" stroke-opacity="0.35"/>
<polyline points="641.7,959.15 678.65,955.87 715.6,969.93 752.55,915.81 789.5,840.1" stroke="#90b870" stroke-width="0.9" stroke-opacity="0.35"/>
<polyline points="641.7,963.88 678.65,965.01 715.6,950.81 752.55,879.64 789.5,848" stroke="#6cb44e" stroke-width="0.9" stroke-opacity="0.35"/>
<polyline points="641.7,956.9 678.65,964.93 715.6,959.13 752.55,927.93 789.5,849.05" stroke="#72b650" stroke-width="3.8" stroke-linecap="round"/>
</g>
<rect x="750.9" y="974.8" width="31.09" height="12.9" fill="#d2d2d2"/>
<rect x="781.94" y="974.8" width="7.81" height="12.9" fill="#8a8a8a"/>
<rect x="634.1" y="836.4" width="163.2" height="158.2" fill="none" stroke="#333" stroke-width="1.4"/>
<line x1="630.6" y1="842.36" x2="634.1" y2="842.36" stroke="#333" stroke-width="1"/>
<text x="629.5" y="845.56" font-size="8.8" text-anchor="end">2.0</text>
<line x1="630.6" y1="864.64" x2="634.1" y2="864.64" stroke="#333" stroke-width="1"/>
<text x="629.5" y="867.85" font-size="8.8" text-anchor="end">1.5</text>
<line x1="630.6" y1="886.93" x2="634.1" y2="886.93" stroke="#333" stroke-width="1"/>
<text x="629.5" y="890.13" font-size="8.8" text-anchor="end">1.0</text>
<line x1="630.6" y1="909.22" x2="634.1" y2="909.22" stroke="#333" stroke-width="1"/>
<text x="629.5" y="912.42" font-size="8.8" text-anchor="end">0.5</text>
<line x1="630.6" y1="931.5" x2="634.1" y2="931.5" stroke="#333" stroke-width="1"/>
<text x="629.5" y="934.7" font-size="8.8" text-anchor="end">0.0</text>
<line x1="630.6" y1="953.78" x2="634.1" y2="953.78" stroke="#333" stroke-width="1"/>
<text x="629.5" y="956.99" font-size="8.8" text-anchor="end">-0.5</text>
<line x1="630.6" y1="976.07" x2="634.1" y2="976.07" stroke="#333" stroke-width="1"/>
<text x="629.5" y="979.27" font-size="8.8" text-anchor="end">-1.0</text>
<line x1="641.7" y1="994.6" x2="641.7" y2="997.6" stroke="#333" stroke-width="1"/>
<text x="641.7" y="1006" font-size="9.2" text-anchor="middle">S1</text>
<line x1="678.65" y1="994.6" x2="678.65" y2="997.6" stroke="#333" stroke-width="1"/>
<text x="678.65" y="1006" font-size="9.2" text-anchor="middle">S2</text>
<line x1="715.6" y1="994.6" x2="715.6" y2="997.6" stroke="#333" stroke-width="1"/>
<text x="715.6" y="1006" font-size="9.2" text-anchor="middle">S3</text>
<line x1="752.55" y1="994.6" x2="752.55" y2="997.6" stroke="#333" stroke-width="1"/>
<text x="752.55" y="1006" font-size="9.2" text-anchor="middle">S4</text>
<line x1="789.5" y1="994.6" x2="789.5" y2="997.6" stroke="#333" stroke-width="1"/>
<text x="789.5" y="1006" font-size="9.2" text-anchor="middle">S5</text>
<text x="634.4" y="833.2" font-size="9" fill="#333">Cluster 4 (67)</text>
<clipPath id="c4"><rect x="828.8" y="835.7" width="163.2" height="158.6"/></clipPath>
<g clip-path="url(#c4)" fill="none" stroke-linejoin="round">
<polyline points="836.4,950.47 873.35,956.62 910.3,862.19 947.25,843.71 984.2,897.09" stroke="#b4b4b4" stroke-width="0.9" stroke-opacity="0.45"/>
<polyline points="836.4,963.38 873.35,930.01 910.3,892.1 947.25,882.07 984.2,876.23" stroke="#7a9a50" stroke-width="0.9" stroke-opacity="0.4"/>
<polyline points="836.4,966.23 873.35,920.67 910.3,893.4 947.25,860.19 984.2,849.45" stroke="#8aaa60" stroke-width="0.9" stroke-opacity="0.4"/>
<polyline points="836.4,967.75 873.35,905.52 910.3,900.87 947.25,857.71 984.2,859.56" stroke="#6a8a48" stroke-width="0.9" stroke-opacity="0.4"/>
<polyline points="836.4,978 873.35,932.95 910.3,882.92 947.25,885.8 984.2,878.33" stroke="#a0b070" stroke-width="0.9" stroke-opacity="0.4"/>
<polyline points="836.4,977.7 873.35,911.82 910.3,901.75 947.25,875.43 984.2,862.66" stroke="#b8a888" stroke-width="0.9" stroke-opacity="0.4"/>
<polyline points="836.4,967.27 873.35,903.81 910.3,879.5 947.25,865.88 984.2,886.6" stroke="#5a8a48" stroke-width="0.9" stroke-opacity="0.4"/>
<polyline points="836.4,973.12 873.35,904.72 910.3,879.11 947.25,878.57 984.2,861.5" stroke="#7a9a50" stroke-width="0.9" stroke-opacity="0.4"/>
<polyline points="836.4,973.22 873.35,919.16 910.3,894.43 947.25,884.31 984.2,884.49" stroke="#8aaa60" stroke-width="0.9" stroke-opacity="0.4"/>
<polyline points="836.4,979.71 873.35,928.57 910.3,849.7 947.25,894.54 984.2,862.98" stroke="#6a8a48" stroke-width="0.9" stroke-opacity="0.4"/>
<polyline points="836.4,967.64 873.35,906.2 910.3,887.45 947.25,868.81 984.2,863.55" stroke="#a0b070" stroke-width="0.9" stroke-opacity="0.4"/>
<polyline points="836.4,974.51 873.35,926.6 910.3,889.79 947.25,871.85 984.2,865.36" stroke="#b8a888" stroke-width="0.9" stroke-opacity="0.4"/>
<polyline points="836.4,976.44 873.35,901.16 910.3,882.15 947.25,876.79 984.2,882.53" stroke="#5a8a48" stroke-width="0.9" stroke-opacity="0.4"/>
<polyline points="836.4,978.87 873.35,927.69 910.3,893.28 947.25,883.7 984.2,859.66" stroke="#7a9a50" stroke-width="0.9" stroke-opacity="0.4"/>
<polyline points="836.4,979.38 873.35,900.01 910.3,914.44 947.25,865.31 984.2,878.85" stroke="#8aaa60" stroke-width="0.9" stroke-opacity="0.4"/>
<polyline points="836.4,980.99 873.35,925.46 910.3,893.94 947.25,874.67 984.2,862.42" stroke="#6a8a48" stroke-width="0.9" stroke-opacity="0.4"/>
<polyline points="836.4,974.69 873.35,939.66 910.3,889.39 947.25,859.79 984.2,860.88" stroke="#a0b070" stroke-width="0.9" stroke-opacity="0.4"/>
<polyline points="836.4,980.66 873.35,937.89 910.3,900.3 947.25,880.1 984.2,892.18" stroke="#b8a888" stroke-width="0.9" stroke-opacity="0.4"/>
<polyline points="836.4,977.99 873.35,942.41 910.3,911.89 947.25,854.48 984.2,867.23" stroke="#5a8a48" stroke-width="0.9" stroke-opacity="0.4"/>
<polyline points="836.4,972.34 873.35,912.22 910.3,895.32 947.25,866.55 984.2,862.28" stroke="#7a9a50" stroke-width="0.9" stroke-opacity="0.4"/>
<polyline points="836.4,971.31 873.35,920.2 910.3,880.12 947.25,871.72 984.2,872.42" stroke="#8aaa60" stroke-width="0.9" stroke-opacity="0.4"/>
<polyline points="836.4,972.54 873.35,916.49 910.3,901.29 947.25,873.62 984.2,875.77" stroke="#6a8a48" stroke-width="0.9" stroke-opacity="0.4"/>
<polyline points="836.4,973.75 873.35,915.46 910.3,875.23 947.25,850.22 984.2,859.06" stroke="#a0b070" stroke-width="0.9" stroke-opacity="0.4"/>
<polyline points="836.4,977.61 873.35,928.03 910.3,924.1 947.25,882.48 984.2,878.62" stroke="#b8a888" stroke-width="0.9" stroke-opacity="0.4"/>
<polyline points="836.4,972.87 873.35,918.4 910.3,877.17 947.25,870.75 984.2,882.33" stroke="#5a8a48" stroke-width="0.9" stroke-opacity="0.4"/>
<polyline points="836.4,974.75 873.35,887.05 910.3,881.91 947.25,864.69 984.2,864.62" stroke="#7a9a50" stroke-width="0.9" stroke-opacity="0.4"/>
<polyline points="836.4,983.85 873.35,924.1 910.3,890.38 947.25,885.34 984.2,872.39" stroke="#8aaa60" stroke-width="0.9" stroke-opacity="0.4"/>
<polyline points="836.4,968.56 873.35,918.93 910.3,888 947.25,875.57 984.2,865.63" stroke="#6a8a48" stroke-width="0.9" stroke-opacity="0.4"/>
<polyline points="836.4,970.37 873.35,917.56 910.3,902.7 947.25,880.66 984.2,882.46" stroke="#a0b070" stroke-width="0.9" stroke-opacity="0.4"/>
<polyline points="836.4,967.77 873.35,920.39 910.3,872.05 947.25,858.25 984.2,878.17" stroke="#b8a888" stroke-width="0.9" stroke-opacity="0.4"/>
<polyline points="836.4,972.73 873.35,910.05 910.3,915.61 947.25,868.27 984.2,866.44" stroke="#5a8a48" stroke-width="0.9" stroke-opacity="0.4"/>
<polyline points="836.4,974.94 873.35,908.97 910.3,905.07 947.25,868.55 984.2,853.26" stroke="#7a9a50" stroke-width="0.9" stroke-opacity="0.4"/>
<polyline points="836.4,974.32 873.35,899.6 910.3,895.72 947.25,871.64 984.2,855.12" stroke="#8aaa60" stroke-width="0.9" stroke-opacity="0.4"/>
<polyline points="836.4,969.55 873.35,903.36 910.3,870.2 947.25,851.03 984.2,875.5" stroke="#6a8a48" stroke-width="0.9" stroke-opacity="0.4"/>
<polyline points="836.4,963.18 873.35,919.64 910.3,881.29 947.25,872.73 984.2,849.23" stroke="#a0b070" stroke-width="0.9" stroke-opacity="0.4"/>
<polyline points="836.4,969.22 873.35,945.69 910.3,898.12 947.25,876.41 984.2,868.16" stroke="#b8a888" stroke-width="0.9" stroke-opacity="0.4"/>
<polyline points="836.4,971.78 873.35,913.94 910.3,894.11 947.25,873.38 984.2,868.74" stroke="#5a8a48" stroke-width="0.9" stroke-opacity="0.4"/>
<polyline points="836.4,974.5 873.35,899.92 910.3,888.69 947.25,869 984.2,861.65" stroke="#7a9a50" stroke-width="0.9" stroke-opacity="0.4"/>
<polyline points="836.4,975.52 873.35,896.1 910.3,890 947.25,857.85 984.2,869.22" stroke="#8aaa60" stroke-width="0.9" stroke-opacity="0.4"/>
<polyline points="836.4,968.05 873.35,917.98 910.3,899.26 947.25,879.12 984.2,882.99" stroke="#6a8a48" stroke-width="0.9" stroke-opacity="0.4"/>
<polyline points="836.4,969.01 873.35,938.72 910.3,913.6 947.25,859.09 984.2,872.16" stroke="#a0b070" stroke-width="0.9" stroke-opacity="0.4"/>
<polyline points="836.4,970.6 873.35,922.7 910.3,912.36 947.25,875.31 984.2,857.92" stroke="#b8a888" stroke-width="0.9" stroke-opacity="0.4"/>
<polyline points="836.4,975.46 873.35,953.64 910.3,879.17 947.25,877.45 984.2,867.69" stroke="#5a8a48" stroke-width="0.9" stroke-opacity="0.4"/>
<polyline points="836.4,973.05 873.35,921.72 910.3,890.93 947.25,873.27 984.2,868.35" stroke="#2a7a36" stroke-width="3.8" stroke-linecap="round"/>
</g>
<rect x="947.3" y="974.8" width="20.62" height="12.9" fill="#d2d2d2"/>
<rect x="967.87" y="974.8" width="9.4" height="12.9" fill="#a6a6a6"/>
<rect x="977.22" y="974.8" width="7.53" height="12.9" fill="#8a8a8a"/>
<rect x="828.8" y="835.7" width="163.2" height="158.6" fill="none" stroke="#333" stroke-width="1.4"/>
<line x1="825.3" y1="843.71" x2="828.8" y2="843.71" stroke="#333" stroke-width="1"/>
<text x="824.2" y="846.91" font-size="8.8" text-anchor="end">1.5</text>
<line x1="825.3" y1="864.24" x2="828.8" y2="864.24" stroke="#333" stroke-width="1"/>
<text x="824.2" y="867.44" font-size="8.8" text-anchor="end">1.0</text>
<line x1="825.3" y1="884.77" x2="828.8" y2="884.77" stroke="#333" stroke-width="1"/>
<text x="824.2" y="887.97" font-size="8.8" text-anchor="end">0.5</text>
<line x1="825.3" y1="905.3" x2="828.8" y2="905.3" stroke="#333" stroke-width="1"/>
<text x="824.2" y="908.5" font-size="8.8" text-anchor="end">0.0</text>
<line x1="825.3" y1="925.83" x2="828.8" y2="925.83" stroke="#333" stroke-width="1"/>
<text x="824.2" y="929.03" font-size="8.8" text-anchor="end">-0.5</text>
<line x1="825.3" y1="946.36" x2="828.8" y2="946.36" stroke="#333" stroke-width="1"/>
<text x="824.2" y="949.56" font-size="8.8" text-anchor="end">-1.0</text>
<line x1="825.3" y1="966.89" x2="828.8" y2="966.89" stroke="#333" stroke-width="1"/>
<text x="824.2" y="970.09" font-size="8.8" text-anchor="end">-1.5</text>
<line x1="825.3" y1="987.42" x2="828.8" y2="987.42" stroke="#333" stroke-width="1"/>
<text x="824.2" y="990.62" font-size="8.8" text-anchor="end">-2.0</text>
<line x1="836.4" y1="994.3" x2="836.4" y2="997.3" stroke="#333" stroke-width="1"/>
<text x="836.4" y="1005.7" font-size="9.2" text-anchor="middle">S1</text>
<line x1="873.35" y1="994.3" x2="873.35" y2="997.3" stroke="#333" stroke-width="1"/>
<text x="873.35" y="1005.7" font-size="9.2" text-anchor="middle">S2</text>
<line x1="910.3" y1="994.3" x2="910.3" y2="997.3" stroke="#333" stroke-width="1"/>
<text x="910.3" y="1005.7" font-size="9.2" text-anchor="middle">S3</text>
<line x1="947.25" y1="994.3" x2="947.25" y2="997.3" stroke="#333" stroke-width="1"/>
<text x="947.25" y="1005.7" font-size="9.2" text-anchor="middle">S4</text>
<line x1="984.2" y1="994.3" x2="984.2" y2="997.3" stroke="#333" stroke-width="1"/>
<text x="984.2" y="1005.7" font-size="9.2" text-anchor="middle">S5</text>
<text x="829.1" y="832.5" font-size="9" fill="#333">Cluster 5 (42)</text>
<clipPath id="c5"><rect x="1025" y="836" width="162.3" height="158.3"/></clipPath>
<g clip-path="url(#c5)" fill="none" stroke-linejoin="round">
<polyline points="1032.6,895.57 1069.32,911.67 1106.05,861.34 1142.77,917.71 1179.5,897.58" stroke="#b4b4b4" stroke-width="0.9" stroke-opacity="0.45"/>
<polyline points="1032.6,867.38 1069.32,859.32 1106.05,897.58 1142.77,984.16 1179.5,980.13" stroke="#b4b4b4" stroke-width="0.9" stroke-opacity="0.45"/>
<polyline points="1032.6,850.72 1069.32,899.3 1106.05,921.02 1142.77,981.51 1179.5,959.52" stroke="#6a5a8a" stroke-width="0.9" stroke-opacity="0.35"/>
<polyline points="1032.6,843.37 1069.32,895.2 1106.05,922.53 1142.77,964.42 1179.5,931.17" stroke="#8a7aa8" stroke-width="0.9" stroke-opacity="0.35"/>
<polyline points="1032.6,849.01 1069.32,877.36 1106.05,934.89 1142.77,946.84 1179.5,962.94" stroke="#5a4a78" stroke-width="0.9" stroke-opacity="0.35"/>
<polyline points="1032.6,852.72 1069.32,915.7 1106.05,922.62 1142.77,945.14 1179.5,955.19" stroke="#9a8ab0" stroke-width="0.9" stroke-opacity="0.35"/>
<polyline points="1032.6,845.05 1069.32,892.81 1106.05,904.65 1142.77,958.32 1179.5,960.9" stroke="#6a5a8a" stroke-width="0.9" stroke-opacity="0.35"/>
<polyline points="1032.6,857.09 1069.32,850.53 1106.05,952.53 1142.77,957 1179.5,955.29" stroke="#8a7aa8" stroke-width="0.9" stroke-opacity="0.35"/>
<polyline points="1032.6,850.02 1069.32,909.97 1106.05,901.72 1142.77,975.41 1179.5,927.59" stroke="#5a4a78" stroke-width="0.9" stroke-opacity="0.35"/>
<polyline points="1032.6,858.09 1069.32,903.16 1106.05,918.93 1142.77,973.16 1179.5,951.04" stroke="#9a8ab0" stroke-width="0.9" stroke-opacity="0.35"/>
<polyline points="1032.6,866.67 1069.32,907.64 1106.05,948.53 1142.77,954.32 1179.5,926.01" stroke="#6a5a8a" stroke-width="0.9" stroke-opacity="0.35"/>
<polyline points="1032.6,859.34 1069.32,874.55 1106.05,938.95 1142.77,943.8 1179.5,940" stroke="#8a7aa8" stroke-width="0.9" stroke-opacity="0.35"/>
<polyline points="1032.6,857.69 1069.32,882.41 1106.05,925.04 1142.77,948.56 1179.5,974.79" stroke="#5a4a78" stroke-width="0.9" stroke-opacity="0.35"/>
<polyline points="1032.6,854.43 1069.32,870.27 1106.05,957.12 1142.77,954.54 1179.5,951.52" stroke="#9a8ab0" stroke-width="0.9" stroke-opacity="0.35"/>
<polyline points="1032.6,855.1 1069.32,887.67 1106.05,921.43 1142.77,960.57 1179.5,952.88" stroke="#6a5a8a" stroke-width="0.9" stroke-opacity="0.35"/>
<polyline points="1032.6,864.8 1069.32,911.94 1106.05,943.63 1142.77,955.37 1179.5,954.97" stroke="#8a7aa8" stroke-width="0.9" stroke-opacity="0.35"/>
<polyline points="1032.6,861.1 1069.32,900.03 1106.05,918.79 1142.77,954.15 1179.5,948.72" stroke="#5a4a78" stroke-width="0.9" stroke-opacity="0.35"/>
<polyline points="1032.6,837.91 1069.32,895.85 1106.05,926.78 1142.77,945 1179.5,980.62" stroke="#9a8ab0" stroke-width="0.9" stroke-opacity="0.35"/>
<polyline points="1032.6,860.97 1069.32,891.18 1106.05,921.23 1142.77,960.96 1179.5,950.22" stroke="#6a5a8a" stroke-width="0.9" stroke-opacity="0.35"/>
<polyline points="1032.6,853.7 1069.32,885.04 1106.05,936.81 1142.77,944.39 1179.5,941.14" stroke="#8a7aa8" stroke-width="0.9" stroke-opacity="0.35"/>
<polyline points="1032.6,864.55 1069.32,930.71 1106.05,925.07 1142.77,936.5 1179.5,953.85" stroke="#5a4a78" stroke-width="0.9" stroke-opacity="0.35"/>
<polyline points="1032.6,840.2 1069.32,909.81 1106.05,928.09 1142.77,944.91 1179.5,965.18" stroke="#9a8ab0" stroke-width="0.9" stroke-opacity="0.35"/>
<polyline points="1032.6,857.19 1069.32,891.24 1106.05,918.86 1142.77,936.74 1179.5,949.07" stroke="#6a5a8a" stroke-width="0.9" stroke-opacity="0.35"/>
<polyline points="1032.6,866.65 1069.32,872.46 1106.05,922.69 1142.77,938.88 1179.5,972.88" stroke="#8a7aa8" stroke-width="0.9" stroke-opacity="0.35"/>
<polyline points="1032.6,856.06 1069.32,909.35 1106.05,937.62 1142.77,943.46 1179.5,942.91" stroke="#5a4a78" stroke-width="0.9" stroke-opacity="0.35"/>
<polyline points="1032.6,845.34 1069.32,903.22 1106.05,908.04 1142.77,951.69 1179.5,939.38" stroke="#9a8ab0" stroke-width="0.9" stroke-opacity="0.35"/>
<polyline points="1032.6,850.49 1069.32,886.52 1106.05,925.22 1142.77,974.96 1179.5,947.06" stroke="#6a5a8a" stroke-width="0.9" stroke-opacity="0.35"/>
<polyline points="1032.6,857.17 1069.32,897.69 1106.05,946.44 1142.77,969.54 1179.5,923.22" stroke="#8a7aa8" stroke-width="0.9" stroke-opacity="0.35"/>
<polyline points="1032.6,858.98 1069.32,901.08 1106.05,922.39 1142.77,964.16 1179.5,966.1" stroke="#5a4a78" stroke-width="0.9" stroke-opacity="0.35"/>
<polyline points="1032.6,854.41 1069.32,894.27 1106.05,929.29 1142.77,948.38 1179.5,961.15" stroke="#9a8ab0" stroke-width="0.9" stroke-opacity="0.35"/>
<polyline points="1032.6,860.87 1069.32,889.21 1106.05,934.7 1142.77,954.67 1179.5,940.81" stroke="#6a5a8a" stroke-width="0.9" stroke-opacity="0.35"/>
<polyline points="1032.6,855.07 1069.32,878.29 1106.05,944.53 1142.77,953.68 1179.5,956.43" stroke="#8a7aa8" stroke-width="0.9" stroke-opacity="0.35"/>
<polyline points="1032.6,868.63 1069.32,885.59 1106.05,930.31 1142.77,965.95 1179.5,938.14" stroke="#5a4a78" stroke-width="0.9" stroke-opacity="0.35"/>
<polyline points="1032.6,852.45 1069.32,867.47 1106.05,939.28 1142.77,961.25 1179.5,958.96" stroke="#9a8ab0" stroke-width="0.9" stroke-opacity="0.35"/>
<polyline points="1032.6,864.56 1069.32,900.97 1106.05,956.59 1142.77,947.16 1179.5,956.18" stroke="#6a5a8a" stroke-width="0.9" stroke-opacity="0.35"/>
<polyline points="1032.6,857.51 1069.32,893.62 1106.05,951.48 1142.77,940.92 1179.5,940.09" stroke="#8a7aa8" stroke-width="0.9" stroke-opacity="0.35"/>
<polyline points="1032.6,844.58 1069.32,893.94 1106.05,937.19 1142.77,964.98 1179.5,987.16" stroke="#5a4a78" stroke-width="0.9" stroke-opacity="0.35"/>
<polyline points="1032.6,845.34 1069.32,894.14 1106.05,914.35 1142.77,940.73 1179.5,940.84" stroke="#9a8ab0" stroke-width="0.9" stroke-opacity="0.35"/>
<polyline points="1032.6,862.54 1069.32,907.34 1106.05,918.9 1142.77,954.06 1179.5,946.89" stroke="#6a5a8a" stroke-width="0.9" stroke-opacity="0.35"/>
<polyline points="1032.6,848.77 1069.32,905.12 1106.05,902.98 1142.77,949.23 1179.5,934.94" stroke="#8a7aa8" stroke-width="0.9" stroke-opacity="0.35"/>
<polyline points="1032.6,847.85 1069.32,891.6 1106.05,943.98 1142.77,949.51 1179.5,955.81" stroke="#5a4a78" stroke-width="0.9" stroke-opacity="0.35"/>
<polyline points="1032.6,849.75 1069.32,890.46 1106.05,931.87 1142.77,932.72 1179.5,939.98" stroke="#9a8ab0" stroke-width="0.9" stroke-opacity="0.35"/>
<polyline points="1032.6,857.48 1069.32,904.07 1106.05,945.62 1142.77,951.04 1179.5,950.95" stroke="#6a5a8a" stroke-width="0.9" stroke-opacity="0.35"/>
<polyline points="1032.6,847.52 1069.32,901.55 1106.05,914.99 1142.77,961.09 1179.5,934.26" stroke="#8a7aa8" stroke-width="0.9" stroke-opacity="0.35"/>
<polyline points="1032.6,832.68 1069.32,882.28 1106.05,913.92 1142.77,951.63 1179.5,955.62" stroke="#5a4a78" stroke-width="0.9" stroke-opacity="0.35"/>
<polyline points="1032.6,856.1 1069.32,891.54 1106.05,929.79 1142.77,952.75 1179.5,950.33" stroke="#4b3a6b" stroke-width="3.8" stroke-linecap="round"/>
</g>
<rect x="1135" y="974.8" width="21.17" height="12.9" fill="#d2d2d2"/>
<rect x="1156.12" y="974.8" width="9.65" height="12.9" fill="#a6a6a6"/>
<rect x="1165.72" y="974.8" width="7.73" height="12.9" fill="#8a8a8a"/>
<rect x="1025" y="836" width="162.3" height="158.3" fill="none" stroke="#333" stroke-width="1.4"/>
<line x1="1021.5" y1="855.3" x2="1025" y2="855.3" stroke="#333" stroke-width="1"/>
<text x="1020.4" y="858.5" font-size="8.8" text-anchor="end">1.5</text>
<line x1="1021.5" y1="875.43" x2="1025" y2="875.43" stroke="#333" stroke-width="1"/>
<text x="1020.4" y="878.63" font-size="8.8" text-anchor="end">1.0</text>
<line x1="1021.5" y1="895.57" x2="1025" y2="895.57" stroke="#333" stroke-width="1"/>
<text x="1020.4" y="898.77" font-size="8.8" text-anchor="end">0.5</text>
<line x1="1021.5" y1="915.7" x2="1025" y2="915.7" stroke="#333" stroke-width="1"/>
<text x="1020.4" y="918.9" font-size="8.8" text-anchor="end">0.0</text>
<line x1="1021.5" y1="935.84" x2="1025" y2="935.84" stroke="#333" stroke-width="1"/>
<text x="1020.4" y="939.04" font-size="8.8" text-anchor="end">-0.5</text>
<line x1="1021.5" y1="955.97" x2="1025" y2="955.97" stroke="#333" stroke-width="1"/>
<text x="1020.4" y="959.17" font-size="8.8" text-anchor="end">-1.0</text>
<line x1="1021.5" y1="976.11" x2="1025" y2="976.11" stroke="#333" stroke-width="1"/>
<text x="1020.4" y="979.31" font-size="8.8" text-anchor="end">-1.5</text>
<line x1="1032.6" y1="994.3" x2="1032.6" y2="997.3" stroke="#333" stroke-width="1"/>
<text x="1032.6" y="1005.7" font-size="9.2" text-anchor="middle">S1</text>
<line x1="1069.32" y1="994.3" x2="1069.32" y2="997.3" stroke="#333" stroke-width="1"/>
<text x="1069.32" y="1005.7" font-size="9.2" text-anchor="middle">S2</text>
<line x1="1106.05" y1="994.3" x2="1106.05" y2="997.3" stroke="#333" stroke-width="1"/>
<text x="1106.05" y="1005.7" font-size="9.2" text-anchor="middle">S3</text>
<line x1="1142.77" y1="994.3" x2="1142.77" y2="997.3" stroke="#333" stroke-width="1"/>
<text x="1142.77" y="1005.7" font-size="9.2" text-anchor="middle">S4</text>
<line x1="1179.5" y1="994.3" x2="1179.5" y2="997.3" stroke="#333" stroke-width="1"/>
<text x="1179.5" y="1005.7" font-size="9.2" text-anchor="middle">S5</text>
<text x="1025.3" y="832.8" font-size="9" fill="#333">Cluster 6 (43)</text>
<clipPath id="c6"><rect x="48" y="1020" width="162.2" height="158.8"/></clipPath>
<g clip-path="url(#c6)" fill="none" stroke-linejoin="round">
<polyline points="55.6,1030.49 92.3,1131.81 129,1172.34 165.7,1102.54 202.4,1145.32" stroke="#b4b4b4" stroke-width="0.9" stroke-opacity="0.45"/>
<polyline points="55.6,1030.49 92.3,1127.31 129,1134.06 165.7,1113.8 202.4,1161.08" stroke="#b4b4b4" stroke-width="0.9" stroke-opacity="0.45"/>
<polyline points="55.6,1032.74 92.3,1136.31 129,1158.83 165.7,1140.82 202.4,1122.8" stroke="#b4b4b4" stroke-width="0.9" stroke-opacity="0.45"/>
<polyline points="55.6,1031.68 92.3,1143.47 129,1121.69 165.7,1143.51 202.4,1145.09" stroke="#d8982a" stroke-width="0.9" stroke-opacity="0.45"/>
<polyline points="55.6,1031.19 92.3,1116.6 129,1158.33 165.7,1137.99 202.4,1127.36" stroke="#e0a840" stroke-width="0.9" stroke-opacity="0.45"/>
<polyline points="55.6,1032.11 92.3,1114.62 129,1150.9 165.7,1154.39 202.4,1146.35" stroke="#d09030" stroke-width="0.9" stroke-opacity="0.45"/>
<polyline points="55.6,1032.31 92.3,1128.16 129,1142.58 165.7,1146.62 202.4,1137.43" stroke="#e8b860" stroke-width="0.9" stroke-opacity="0.45"/>
<polyline points="55.6,1028.63 92.3,1118.66 129,1140.82 165.7,1149.47 202.4,1148.15" stroke="#d8982a" stroke-width="0.9" stroke-opacity="0.45"/>
<polyline points="55.6,1030.24 92.3,1123.16 129,1147.19 165.7,1140.36 202.4,1134.7" stroke="#e0a840" stroke-width="0.9" stroke-opacity="0.45"/>
<polyline points="55.6,1033.16 92.3,1118.34 129,1151.23 165.7,1150.67 202.4,1150.15" stroke="#d09030" stroke-width="0.9" stroke-opacity="0.45"/>
<polyline points="55.6,1029.9 92.3,1118.61 129,1138.33 165.7,1145.11 202.4,1139.48" stroke="#e8b860" stroke-width="0.9" stroke-opacity="0.45"/>
<polyline points="55.6,1029.28 92.3,1127.12 129,1138.22 165.7,1141.13 202.4,1136.49" stroke="#d8982a" stroke-width="0.9" stroke-opacity="0.45"/>
<polyline points="55.6,1028.24 92.3,1106.65 129,1147.5 165.7,1136.6 202.4,1149" stroke="#e0a840" stroke-width="0.9" stroke-opacity="0.45"/>
<polyline points="55.6,1032.61 92.3,1119.96 129,1146.9 165.7,1149.68 202.4,1153.74" stroke="#d09030" stroke-width="0.9" stroke-opacity="0.45"/>
<polyline points="55.6,1030.82 92.3,1132.65 129,1158.96 165.7,1147.47 202.4,1149.73" stroke="#e8b860" stroke-width="0.9" stroke-opacity="0.45"/>
<polyline points="55.6,1033.53 92.3,1131.7 129,1146.3 165.7,1145.94 202.4,1138.31" stroke="#d8982a" stroke-width="0.9" stroke-opacity="0.45"/>
<polyline points="55.6,1028.93 92.3,1125.15 129,1153.37 165.7,1146.54 202.4,1155.8" stroke="#e0a840" stroke-width="0.9" stroke-opacity="0.45"/>
<polyline points="55.6,1029.79 92.3,1128.99 129,1135.73 165.7,1155.75 202.4,1142.09" stroke="#d09030" stroke-width="0.9" stroke-opacity="0.45"/>
<polyline points="55.6,1029.43 92.3,1127.51 129,1127.84 165.7,1147.06 202.4,1148.41" stroke="#e8b860" stroke-width="0.9" stroke-opacity="0.45"/>
<polyline points="55.6,1030.67 92.3,1131.25 129,1138.31 165.7,1149.71 202.4,1140.71" stroke="#d8982a" stroke-width="0.9" stroke-opacity="0.45"/>
<polyline points="55.6,1029.28 92.3,1132.99 129,1140.79 165.7,1148.67 202.4,1147.06" stroke="#e0a840" stroke-width="0.9" stroke-opacity="0.45"/>
<polyline points="55.6,1030.59 92.3,1119.95 129,1132.69 165.7,1146 202.4,1147.27" stroke="#d09030" stroke-width="0.9" stroke-opacity="0.45"/>
<polyline points="55.6,1029.16 92.3,1123.58 129,1143.61 165.7,1139.47 202.4,1136.7" stroke="#e8b860" stroke-width="0.9" stroke-opacity="0.45"/>
<polyline points="55.6,1033.97 92.3,1125.5 129,1138.46 165.7,1150.53 202.4,1145.08" stroke="#d8982a" stroke-width="0.9" stroke-opacity="0.45"/>
<polyline points="55.6,1034.55 92.3,1117.11 129,1152.94 165.7,1145.16 202.4,1148.23" stroke="#e0a840" stroke-width="0.9" stroke-opacity="0.45"/>
<polyline points="55.6,1029.43 92.3,1110.69 129,1154.71 165.7,1148.67 202.4,1148.32" stroke="#d09030" stroke-width="0.9" stroke-opacity="0.45"/>
<polyline points="55.6,1030.13 92.3,1125.63 129,1137.63 165.7,1147.97 202.4,1151.08" stroke="#e8b860" stroke-width="0.9" stroke-opacity="0.45"/>
<polyline points="55.6,1030.32 92.3,1135.06 129,1152.62 165.7,1138.96 202.4,1140.94" stroke="#d8982a" stroke-width="0.9" stroke-opacity="0.45"/>
<polyline points="55.6,1031.79 92.3,1104.39 129,1136.81 165.7,1149.07 202.4,1130.57" stroke="#e0a840" stroke-width="0.9" stroke-opacity="0.45"/>
<polyline points="55.6,1032.77 92.3,1121.31 129,1140.64 165.7,1148.28 202.4,1142.14" stroke="#d09030" stroke-width="0.9" stroke-opacity="0.45"/>
<polyline points="55.6,1031.85 92.3,1118.8 129,1165.3 165.7,1141.9 202.4,1152.14" stroke="#e8b860" stroke-width="0.9" stroke-opacity="0.45"/>
<polyline points="55.6,1028.24 92.3,1125.24 129,1145.6 165.7,1138.75 202.4,1136.92" stroke="#d8982a" stroke-width="0.9" stroke-opacity="0.45"/>
<polyline points="55.6,1028.88 92.3,1134.78 129,1139.12 165.7,1139.4 202.4,1151.74" stroke="#e0a840" stroke-width="0.9" stroke-opacity="0.45"/>
<polyline points="55.6,1028.24 92.3,1120.48 129,1132.68 165.7,1140.26 202.4,1154.26" stroke="#d09030" stroke-width="0.9" stroke-opacity="0.45"/>
<polyline points="55.6,1031.14 92.3,1125.08 129,1146.34 165.7,1148.41 202.4,1142.18" stroke="#e8b860" stroke-width="0.9" stroke-opacity="0.45"/>
<polyline points="55.6,1030.25 92.3,1117.93 129,1139.88 165.7,1131.4 202.4,1135.73" stroke="#d8982a" stroke-width="0.9" stroke-opacity="0.45"/>
<polyline points="55.6,1030.93 92.3,1122.53 129,1144.59 165.7,1151.43 202.4,1135.86" stroke="#e0a840" stroke-width="0.9" stroke-opacity="0.45"/>
<polyline points="55.6,1029.87 92.3,1124.6 129,1119.1 165.7,1146.38 202.4,1139.64" stroke="#d09030" stroke-width="0.9" stroke-opacity="0.45"/>
<polyline points="55.6,1029.27 92.3,1115.03 129,1147.36 165.7,1140.46 202.4,1137.51" stroke="#e8b860" stroke-width="0.9" stroke-opacity="0.45"/>
<polyline points="55.6,1033.23 92.3,1134.79 129,1141.19 165.7,1136.92 202.4,1140.02" stroke="#d8982a" stroke-width="0.9" stroke-opacity="0.45"/>
<polyline points="55.6,1028.24 92.3,1102.32 129,1155.18 165.7,1142.35 202.4,1142.59" stroke="#e0a840" stroke-width="0.9" stroke-opacity="0.45"/>
<polyline points="55.6,1029.47 92.3,1133.03 129,1135.5 165.7,1153.74 202.4,1142.52" stroke="#d09030" stroke-width="0.9" stroke-opacity="0.45"/>
<polyline points="55.6,1030.25 92.3,1123.94 129,1150.19 165.7,1153.47 202.4,1140.06" stroke="#e8b860" stroke-width="0.9" stroke-opacity="0.45"/>
<polyline points="55.6,1029.52 92.3,1121.31 129,1144.82 165.7,1145.22 202.4,1150.48" stroke="#d8982a" stroke-width="0.9" stroke-opacity="0.45"/>
<polyline points="55.6,1028.64 92.3,1119.43 129,1140.88 165.7,1144.42 202.4,1157.82" stroke="#e0a840" stroke-width="0.9" stroke-opacity="0.45"/>
<polyline points="55.6,1032.96 92.3,1122.18 129,1134.36 165.7,1149.45 202.4,1142.18" stroke="#d09030" stroke-width="0.9" stroke-opacity="0.45"/>
<polyline points="55.6,1028.24 92.3,1135.36 129,1142.34 165.7,1150.22 202.4,1138.82" stroke="#e8b860" stroke-width="0.9" stroke-opacity="0.45"/>
<polyline points="55.6,1028.24 92.3,1119.08 129,1131.87 165.7,1152.91 202.4,1134.84" stroke="#d8982a" stroke-width="0.9" stroke-opacity="0.45"/>
<polyline points="55.6,1035.77 92.3,1133.18 129,1142.65 165.7,1145.55 202.4,1151.62" stroke="#e0a840" stroke-width="0.9" stroke-opacity="0.45"/>
<polyline points="55.6,1031.52 92.3,1110.25 129,1118.77 165.7,1141.01 202.4,1137.89" stroke="#d09030" stroke-width="0.9" stroke-opacity="0.45"/>
<polyline points="55.6,1031.62 92.3,1129.4 129,1148.78 165.7,1148.43 202.4,1145.35" stroke="#e8b860" stroke-width="0.9" stroke-opacity="0.45"/>
<polyline points="55.6,1031.35 92.3,1117.6 129,1153.93 165.7,1139.3 202.4,1144.23" stroke="#d8982a" stroke-width="0.9" stroke-opacity="0.45"/>
<polyline points="55.6,1031.21 92.3,1113.63 129,1133.68 165.7,1136.78 202.4,1149.97" stroke="#e0a840" stroke-width="0.9" stroke-opacity="0.45"/>
<polyline points="55.6,1034.94 92.3,1125.19 129,1142.9 165.7,1144.87 202.4,1156.41" stroke="#d09030" stroke-width="0.9" stroke-opacity="0.45"/>
<polyline points="55.6,1030.58 92.3,1111.96 129,1133.51 165.7,1155.58 202.4,1155.74" stroke="#e8b860" stroke-width="0.9" stroke-opacity="0.45"/>
<polyline points="55.6,1030.9 92.3,1119.59 129,1142.1 165.7,1140.11 202.4,1151.51" stroke="#d8982a" stroke-width="0.9" stroke-opacity="0.45"/>
<polyline points="55.6,1028.24 92.3,1126.66 129,1117.41 165.7,1138.08 202.4,1132.66" stroke="#e0a840" stroke-width="0.9" stroke-opacity="0.45"/>
<polyline points="55.6,1030.25 92.3,1100.33 129,1141.46 165.7,1136.27 202.4,1145.93" stroke="#d09030" stroke-width="0.9" stroke-opacity="0.45"/>
<polyline points="55.6,1028.24 92.3,1135 129,1152.53 165.7,1148.84 202.4,1143.63" stroke="#e8b860" stroke-width="0.9" stroke-opacity="0.45"/>
<polyline points="55.6,1032.4 92.3,1105.23 129,1148.65 165.7,1145.36 202.4,1138.03" stroke="#d8982a" stroke-width="0.9" stroke-opacity="0.45"/>
<polyline points="55.6,1029.2 92.3,1115.45 129,1154.84 165.7,1144.78 202.4,1148.93" stroke="#e0a840" stroke-width="0.9" stroke-opacity="0.45"/>
<polyline points="55.6,1032.26 92.3,1119.77 129,1140.66 165.7,1128.17 202.4,1141.86" stroke="#d09030" stroke-width="0.9" stroke-opacity="0.45"/>
<polyline points="55.6,1032.15 92.3,1116.03 129,1143.49 165.7,1141.4 202.4,1153.62" stroke="#e8b860" stroke-width="0.9" stroke-opacity="0.45"/>
<polyline points="55.6,1036.56 92.3,1110.52 129,1139.33 165.7,1156.02 202.4,1152.21" stroke="#d8982a" stroke-width="0.9" stroke-opacity="0.45"/>
<polyline points="55.6,1033.21 92.3,1116.19 129,1155.66 165.7,1151.12 202.4,1137.95" stroke="#e0a840" stroke-width="0.9" stroke-opacity="0.45"/>
<polyline points="55.6,1031.83 92.3,1119.64 129,1126.07 165.7,1137.05 202.4,1154.25" stroke="#d09030" stroke-width="0.9" stroke-opacity="0.45"/>
<polyline points="55.6,1029.15 92.3,1116.07 129,1133.57 165.7,1136.49 202.4,1153.53" stroke="#e8b860" stroke-width="0.9" stroke-opacity="0.45"/>
<polyline points="55.6,1032.09 92.3,1133.55 129,1141.98 165.7,1145.25 202.4,1137.89" stroke="#d8982a" stroke-width="0.9" stroke-opacity="0.45"/>
<polyline points="55.6,1028.63 92.3,1109.99 129,1161.89 165.7,1146.67 202.4,1158.46" stroke="#e0a840" stroke-width="0.9" stroke-opacity="0.45"/>
<polyline points="55.6,1030.18 92.3,1119.41 129,1142.23 165.7,1150.88 202.4,1156" stroke="#d09030" stroke-width="0.9" stroke-opacity="0.45"/>
<polyline points="55.6,1034.33 92.3,1106.83 129,1136.84 165.7,1149.55 202.4,1137.57" stroke="#e8b860" stroke-width="0.9" stroke-opacity="0.45"/>
<polyline points="55.6,1034.1 92.3,1113.8 129,1150.59 165.7,1159.87 202.4,1149.64" stroke="#d8982a" stroke-width="0.9" stroke-opacity="0.45"/>
<polyline points="55.6,1034.45 92.3,1119.78 129,1153.26 165.7,1154.18 202.4,1148.08" stroke="#e0a840" stroke-width="0.9" stroke-opacity="0.45"/>
<polyline points="55.6,1030.03 92.3,1121.15 129,1146.19 165.7,1138.34 202.4,1135.25" stroke="#d09030" stroke-width="0.9" stroke-opacity="0.45"/>
<polyline points="55.6,1029.13 92.3,1126.19 129,1133.09 165.7,1133.45 202.4,1154.09" stroke="#e8b860" stroke-width="0.9" stroke-opacity="0.45"/>
<polyline points="55.6,1032.9 92.3,1118.86 129,1140.75 165.7,1144.88 202.4,1148.51" stroke="#d8982a" stroke-width="0.9" stroke-opacity="0.45"/>
<polyline points="55.6,1030.7 92.3,1124.69 129,1147.48 165.7,1143.36 202.4,1133.63" stroke="#e0a840" stroke-width="0.9" stroke-opacity="0.45"/>
<polyline points="55.6,1028.24 92.3,1109.7 129,1132.71 165.7,1144.56 202.4,1151.54" stroke="#d09030" stroke-width="0.9" stroke-opacity="0.45"/>
<polyline points="55.6,1029.82 92.3,1131.6 129,1127.73 165.7,1144.32 202.4,1141.12" stroke="#e8b860" stroke-width="0.9" stroke-opacity="0.45"/>
<polyline points="55.6,1032.6 92.3,1118.96 129,1152.98 165.7,1141.5 202.4,1151.33" stroke="#d8982a" stroke-width="0.9" stroke-opacity="0.45"/>
<polyline points="55.6,1031.26 92.3,1135.36 129,1144.26 165.7,1143.03 202.4,1151.69" stroke="#e0a840" stroke-width="0.9" stroke-opacity="0.45"/>
<polyline points="55.6,1029.15 92.3,1116.1 129,1139.92 165.7,1152.8 202.4,1152.15" stroke="#d09030" stroke-width="0.9" stroke-opacity="0.45"/>
<polyline points="55.6,1028.25 92.3,1115.78 129,1139.69 165.7,1137.72 202.4,1149.85" stroke="#e8b860" stroke-width="0.9" stroke-opacity="0.45"/>
<polyline points="55.6,1031.07 92.3,1126.87 129,1122.1 165.7,1135.12 202.4,1135" stroke="#d8982a" stroke-width="0.9" stroke-opacity="0.45"/>
<polyline points="55.6,1028.69 92.3,1113.08 129,1134.75 165.7,1150.14 202.4,1145.33" stroke="#e0a840" stroke-width="0.9" stroke-opacity="0.45"/>
<polyline points="55.6,1037.12 92.3,1105.96 129,1155.04 165.7,1151.61 202.4,1128.73" stroke="#d09030" stroke-width="0.9" stroke-opacity="0.45"/>
<polyline points="55.6,1030.42 92.3,1135.73 129,1141.33 165.7,1149.67 202.4,1143.7" stroke="#e8b860" stroke-width="0.9" stroke-opacity="0.45"/>
<polyline points="55.6,1030.45 92.3,1106.01 129,1127.95 165.7,1145.58 202.4,1136.35" stroke="#d8982a" stroke-width="0.9" stroke-opacity="0.45"/>
<polyline points="55.6,1030.59 92.3,1125.63 129,1132.06 165.7,1143.57 202.4,1145.21" stroke="#e0a840" stroke-width="0.9" stroke-opacity="0.45"/>
<polyline points="55.6,1028.24 92.3,1117.66 129,1134.18 165.7,1150.54 202.4,1156.34" stroke="#d09030" stroke-width="0.9" stroke-opacity="0.45"/>
<polyline points="55.6,1030.64 92.3,1109.02 129,1137.9 165.7,1144.38 202.4,1147.64" stroke="#e8b860" stroke-width="0.9" stroke-opacity="0.45"/>
<polyline points="55.6,1028.24 92.3,1129.53 129,1145.96 165.7,1145.4 202.4,1154.61" stroke="#d8982a" stroke-width="0.9" stroke-opacity="0.45"/>
<polyline points="55.6,1032.87 92.3,1117.74 129,1147.32 165.7,1147.37 202.4,1127.43" stroke="#e0a840" stroke-width="0.9" stroke-opacity="0.45"/>
<polyline points="55.6,1028.24 92.3,1122.94 129,1145.95 165.7,1149.51 202.4,1141.77" stroke="#d09030" stroke-width="0.9" stroke-opacity="0.45"/>
<polyline points="55.6,1036.38 92.3,1119.64 129,1135.26 165.7,1140.93 202.4,1148.18" stroke="#e8b860" stroke-width="0.9" stroke-opacity="0.45"/>
<polyline points="55.6,1029.72 92.3,1135.45 129,1141.52 165.7,1153.06 202.4,1132.49" stroke="#d8982a" stroke-width="0.9" stroke-opacity="0.45"/>
<polyline points="55.6,1031.36 92.3,1127.23 129,1148.48 165.7,1125.31 202.4,1157.08" stroke="#e0a840" stroke-width="0.9" stroke-opacity="0.45"/>
<polyline points="55.6,1031.35 92.3,1123.45 129,1152.23 165.7,1138.41 202.4,1132.83" stroke="#d09030" stroke-width="0.9" stroke-opacity="0.45"/>
<polyline points="55.6,1034.24 92.3,1133.14 129,1144.03 165.7,1152.26 202.4,1159.39" stroke="#e8b860" stroke-width="0.9" stroke-opacity="0.45"/>
<polyline points="55.6,1032.23 92.3,1134.77 129,1155.53 165.7,1137.12 202.4,1148" stroke="#d8982a" stroke-width="0.9" stroke-opacity="0.45"/>
<polyline points="55.6,1028.69 92.3,1113.22 129,1133.71 165.7,1131.22 202.4,1142.76" stroke="#e0a840" stroke-width="0.9" stroke-opacity="0.45"/>
<polyline points="55.6,1032.51 92.3,1107.08 129,1146.29 165.7,1146.26 202.4,1136.87" stroke="#d09030" stroke-width="0.9" stroke-opacity="0.45"/>
<polyline points="55.6,1031.83 92.3,1138.07 129,1154.94 165.7,1138.44 202.4,1150.28" stroke="#e8b860" stroke-width="0.9" stroke-opacity="0.45"/>
<polyline points="55.6,1033.69 92.3,1122.34 129,1140.68 165.7,1142.46 202.4,1155.23" stroke="#d8982a" stroke-width="0.9" stroke-opacity="0.45"/>
<polyline points="55.6,1028.24 92.3,1104.61 129,1153.96 165.7,1134.86 202.4,1148.85" stroke="#e0a840" stroke-width="0.9" stroke-opacity="0.45"/>
<polyline points="55.6,1029.01 92.3,1113.6 129,1149.96 165.7,1150.78 202.4,1155.64" stroke="#d09030" stroke-width="0.9" stroke-opacity="0.45"/>
<polyline points="55.6,1030.49 92.3,1122.8 129,1143.07 165.7,1145.32 202.4,1146.22" stroke="#d8962a" stroke-width="3.8" stroke-linecap="round"/>
</g>
<rect x="161.2" y="1160" width="21.94" height="12.2" fill="#d2d2d2"/>
<rect x="183.09" y="1160" width="10.03" height="12.2" fill="#a6a6a6"/>
<rect x="193.07" y="1160" width="3.89" height="12.2" fill="#8a8a8a"/>
<rect x="196.91" y="1160" width="2.74" height="12.2" fill="#4a4a4a"/>
<rect x="48" y="1020" width="162.2" height="158.8" fill="none" stroke="#333" stroke-width="1.4"/>
<line x1="44.5" y1="1028.24" x2="48" y2="1028.24" stroke="#333" stroke-width="1"/>
<text x="43.4" y="1031.44" font-size="8.8" text-anchor="end">2.0</text>
<line x1="44.5" y1="1050.75" x2="48" y2="1050.75" stroke="#333" stroke-width="1"/>
<text x="43.4" y="1053.95" font-size="8.8" text-anchor="end">1.5</text>
<line x1="44.5" y1="1073.27" x2="48" y2="1073.27" stroke="#333" stroke-width="1"/>
<text x="43.4" y="1076.47" font-size="8.8" text-anchor="end">1.0</text>
<line x1="44.5" y1="1095.78" x2="48" y2="1095.78" stroke="#333" stroke-width="1"/>
<text x="43.4" y="1098.98" font-size="8.8" text-anchor="end">0.5</text>
<line x1="44.5" y1="1118.3" x2="48" y2="1118.3" stroke="#333" stroke-width="1"/>
<text x="43.4" y="1121.5" font-size="8.8" text-anchor="end">0.0</text>
<line x1="44.5" y1="1140.82" x2="48" y2="1140.82" stroke="#333" stroke-width="1"/>
<text x="43.4" y="1144.02" font-size="8.8" text-anchor="end">-0.5</text>
<line x1="44.5" y1="1163.33" x2="48" y2="1163.33" stroke="#333" stroke-width="1"/>
<text x="43.4" y="1166.53" font-size="8.8" text-anchor="end">-1.0</text>
<line x1="55.6" y1="1178.8" x2="55.6" y2="1181.8" stroke="#333" stroke-width="1"/>
<text x="55.6" y="1190.2" font-size="9.2" text-anchor="middle">S1</text>
<line x1="92.3" y1="1178.8" x2="92.3" y2="1181.8" stroke="#333" stroke-width="1"/>
<text x="92.3" y="1190.2" font-size="9.2" text-anchor="middle">S2</text>
<line x1="129" y1="1178.8" x2="129" y2="1181.8" stroke="#333" stroke-width="1"/>
<text x="129" y="1190.2" font-size="9.2" text-anchor="middle">S3</text>
<line x1="165.7" y1="1178.8" x2="165.7" y2="1181.8" stroke="#333" stroke-width="1"/>
<text x="165.7" y="1190.2" font-size="9.2" text-anchor="middle">S4</text>
<line x1="202.4" y1="1178.8" x2="202.4" y2="1181.8" stroke="#333" stroke-width="1"/>
<text x="202.4" y="1190.2" font-size="9.2" text-anchor="middle">S5</text>
<text x="48.3" y="1016.8" font-size="9" fill="#333">Cluster 7 (103)</text>
<clipPath id="c7"><rect x="244.3" y="1020.3" width="161.2" height="159.2"/></clipPath>
<g clip-path="url(#c7)" fill="none" stroke-linejoin="round">
<polyline points="251.9,1084.86 288.35,1138.34 324.8,1039.6 361.25,1101.31 397.7,1105.43" stroke="#b4b4b4" stroke-width="0.9" stroke-opacity="0.45"/>
<polyline points="251.9,1138.34 288.35,1158.91 324.8,1031.38 361.25,1056.06 397.7,1117.77" stroke="#b4b4b4" stroke-width="0.9" stroke-opacity="0.45"/>
<polyline points="251.9,1158.65 288.35,1099.43 324.8,1041.23 361.25,1056.61 397.7,1113.92" stroke="#7a86c0" stroke-width="0.9" stroke-opacity="0.35"/>
<polyline points="251.9,1158.06 288.35,1086.49 324.8,1027.43 361.25,1053.79 397.7,1112.73" stroke="#8a94c8" stroke-width="0.9" stroke-opacity="0.35"/>
<polyline points="251.9,1170.7 288.35,1126.55 324.8,1049.11 361.25,1058.61 397.7,1106.46" stroke="#6a78b8" stroke-width="0.9" stroke-opacity="0.35"/>
<polyline points="251.9,1153.54 288.35,1139.27 324.8,1068.48 361.25,1054.55 397.7,1110.11" stroke="#a0a8d8" stroke-width="0.9" stroke-opacity="0.35"/>
<polyline points="251.9,1161.42 288.35,1112.17 324.8,1049.7 361.25,1043.84 397.7,1097.78" stroke="#7a86c0" stroke-width="0.9" stroke-opacity="0.35"/>
<polyline points="251.9,1153.01 288.35,1115.15 324.8,1045.29 361.25,1049.36 397.7,1110.49" stroke="#8a94c8" stroke-width="0.9" stroke-opacity="0.35"/>
<polyline points="251.9,1165.85 288.35,1123.85 324.8,1058.29 361.25,1045.64 397.7,1099.09" stroke="#6a78b8" stroke-width="0.9" stroke-opacity="0.35"/>
<polyline points="251.9,1176.03 288.35,1118.57 324.8,1077.49 361.25,1055.18 397.7,1113.67" stroke="#a0a8d8" stroke-width="0.9" stroke-opacity="0.35"/>
<polyline points="251.9,1157.72 288.35,1099.83 324.8,1070.01 361.25,1065.42 397.7,1085.02" stroke="#7a86c0" stroke-width="0.9" stroke-opacity="0.35"/>
<polyline points="251.9,1167.9 288.35,1097.44 324.8,1058.37 361.25,1061.59 397.7,1123.53" stroke="#8a94c8" stroke-width="0.9" stroke-opacity="0.35"/>
<polyline points="251.9,1175.1 288.35,1115.29 324.8,1047.33 361.25,1062.7 397.7,1110.03" stroke="#6a78b8" stroke-width="0.9" stroke-opacity="0.35"/>
<polyline points="251.9,1151.51 288.35,1127.84 324.8,1064.69 361.25,1064.21 397.7,1102.99" stroke="#a0a8d8" stroke-width="0.9" stroke-opacity="0.35"/>
<polyline points="251.9,1159.93 288.35,1134.41 324.8,1031.81 361.25,1064.22 397.7,1090.93" stroke="#7a86c0" stroke-width="0.9" stroke-opacity="0.35"/>
<polyline points="251.9,1158.13 288.35,1116.39 324.8,1068.79 361.25,1059.85 397.7,1109.79" stroke="#8a94c8" stroke-width="0.9" stroke-opacity="0.35"/>
<polyline points="251.9,1172.42 288.35,1099.55 324.8,1066.2 361.25,1072.53 397.7,1079.18" stroke="#6a78b8" stroke-width="0.9" stroke-opacity="0.35"/>
<polyline points="251.9,1168.95 288.35,1097.55 324.8,1073.21 361.25,1035.05 397.7,1120.45" stroke="#a0a8d8" stroke-width="0.9" stroke-opacity="0.35"/>
<polyline points="251.9,1166.85 288.35,1109.2 324.8,1072.61 361.25,1048.16 397.7,1085.13" stroke="#7a86c0" stroke-width="0.9" stroke-opacity="0.35"/>
<polyline points="251.9,1160.77 288.35,1120.31 324.8,1054.23 361.25,1051.42 397.7,1099.99" stroke="#8a94c8" stroke-width="0.9" stroke-opacity="0.35"/>
<polyline points="251.9,1158.76 288.35,1115.43 324.8,1063.11 361.25,1048.79 397.7,1096.59" stroke="#6a78b8" stroke-width="0.9" stroke-opacity="0.35"/>
<polyline points="251.9,1160.55 288.35,1093.66 324.8,1043.96 361.25,1043.14 397.7,1110.35" stroke="#a0a8d8" stroke-width="0.9" stroke-opacity="0.35"/>
<polyline points="251.9,1166.88 288.35,1118.43 324.8,1062.74 361.25,1048.95 397.7,1076.26" stroke="#7a86c0" stroke-width="0.9" stroke-opacity="0.35"/>
<polyline points="251.9,1144.08 288.35,1099.17 324.8,1071.23 361.25,1045.26 397.7,1089.28" stroke="#8a94c8" stroke-width="0.9" stroke-opacity="0.35"/>
<polyline points="251.9,1145.6 288.35,1108.43 324.8,1043.3 361.25,1048.01 397.7,1084.84" stroke="#6a78b8" stroke-width="0.9" stroke-opacity="0.35"/>
<polyline points="251.9,1137.78 288.35,1104.63 324.8,1061.72 361.25,1038.29 397.7,1113.79" stroke="#a0a8d8" stroke-width="0.9" stroke-opacity="0.35"/>
<polyline points="251.9,1151.04 288.35,1093.74 324.8,1050.39 361.25,1059.47 397.7,1108.48" stroke="#7a86c0" stroke-width="0.9" stroke-opacity="0.35"/>
<polyline points="251.9,1165.66 288.35,1102.22 324.8,1054.17 361.25,1041.53 397.7,1086.28" stroke="#8a94c8" stroke-width="0.9" stroke-opacity="0.35"/>
<polyline points="251.9,1160.96 288.35,1124.42 324.8,1059.17 361.25,1051.85 397.7,1113.81" stroke="#6a78b8" stroke-width="0.9" stroke-opacity="0.35"/>
<polyline points="251.9,1149.32 288.35,1099.86 324.8,1079.96 361.25,1062.04 397.7,1112.64" stroke="#a0a8d8" stroke-width="0.9" stroke-opacity="0.35"/>
<polyline points="251.9,1150.39 288.35,1127.19 324.8,1052.43 361.25,1062.93 397.7,1097.14" stroke="#7a86c0" stroke-width="0.9" stroke-opacity="0.35"/>
<polyline points="251.9,1162.73 288.35,1122.75 324.8,1051.53 361.25,1064.15 397.7,1091.36" stroke="#8a94c8" stroke-width="0.9" stroke-opacity="0.35"/>
<polyline points="251.9,1156.56 288.35,1117.1 324.8,1062.34 361.25,1057.57 397.7,1094.65" stroke="#6a78b8" stroke-width="0.9" stroke-opacity="0.35"/>
<polyline points="251.9,1172.38 288.35,1084.38 324.8,1061.28 361.25,1058.77 397.7,1111.04" stroke="#a0a8d8" stroke-width="0.9" stroke-opacity="0.35"/>
<polyline points="251.9,1160.87 288.35,1129.06 324.8,1056.55 361.25,1049.11 397.7,1092.99" stroke="#7a86c0" stroke-width="0.9" stroke-opacity="0.35"/>
<polyline points="251.9,1164.9 288.35,1110.17 324.8,1050.46 361.25,1051.71 397.7,1100.22" stroke="#8a94c8" stroke-width="0.9" stroke-opacity="0.35"/>
<polyline points="251.9,1159.06 288.35,1129.59 324.8,1058.94 361.25,1045.32 397.7,1105.6" stroke="#6a78b8" stroke-width="0.9" stroke-opacity="0.35"/>
<polyline points="251.9,1148.22 288.35,1120.03 324.8,1057.68 361.25,1072.31 397.7,1090.68" stroke="#a0a8d8" stroke-width="0.9" stroke-opacity="0.35"/>
<polyline points="251.9,1161.39 288.35,1130.13 324.8,1063.38 361.25,1048.63 397.7,1097.09" stroke="#7a86c0" stroke-width="0.9" stroke-opacity="0.35"/>
<polyline points="251.9,1152.75 288.35,1113.29 324.8,1054.21 361.25,1031.26 397.7,1077.66" stroke="#8a94c8" stroke-width="0.9" stroke-opacity="0.35"/>
<polyline points="251.9,1156.3 288.35,1116.68 324.8,1059.12 361.25,1049.96 397.7,1113.29" stroke="#6a78b8" stroke-width="0.9" stroke-opacity="0.35"/>
<polyline points="251.9,1148.89 288.35,1114.91 324.8,1044.91 361.25,1048.48 397.7,1090.1" stroke="#a0a8d8" stroke-width="0.9" stroke-opacity="0.35"/>
<polyline points="251.9,1154.22 288.35,1106.96 324.8,1063.12 361.25,1049.73 397.7,1124.79" stroke="#7a86c0" stroke-width="0.9" stroke-opacity="0.35"/>
<polyline points="251.9,1157.92 288.35,1137.67 324.8,1048.03 361.25,1046.08 397.7,1086.41" stroke="#8a94c8" stroke-width="0.9" stroke-opacity="0.35"/>
<polyline points="251.9,1158.91 288.35,1115.71 324.8,1056.06 361.25,1054 397.7,1103.37" stroke="#5563a5" stroke-width="3.8" stroke-linecap="round"/>
</g>
<rect x="360.5" y="1160" width="31.25" height="12.2" fill="#d2d2d2"/>
<rect x="391.7" y="1160" width="4.73" height="12.2" fill="#8a8a8a"/>
<rect x="396.38" y="1160" width="3.17" height="12.2" fill="#6a6a6a"/>
<rect x="244.3" y="1020.3" width="161.2" height="159.2" fill="none" stroke="#333" stroke-width="1.4"/>
<line x1="240.8" y1="1035.49" x2="244.3" y2="1035.49" stroke="#333" stroke-width="1"/>
<text x="239.7" y="1038.69" font-size="8.8" text-anchor="end">1.5</text>
<line x1="240.8" y1="1056.06" x2="244.3" y2="1056.06" stroke="#333" stroke-width="1"/>
<text x="239.7" y="1059.26" font-size="8.8" text-anchor="end">1.0</text>
<line x1="240.8" y1="1076.63" x2="244.3" y2="1076.63" stroke="#333" stroke-width="1"/>
<text x="239.7" y="1079.83" font-size="8.8" text-anchor="end">0.5</text>
<line x1="240.8" y1="1097.2" x2="244.3" y2="1097.2" stroke="#333" stroke-width="1"/>
<text x="239.7" y="1100.4" font-size="8.8" text-anchor="end">0.0</text>
<line x1="240.8" y1="1117.77" x2="244.3" y2="1117.77" stroke="#333" stroke-width="1"/>
<text x="239.7" y="1120.97" font-size="8.8" text-anchor="end">-0.5</text>
<line x1="240.8" y1="1138.34" x2="244.3" y2="1138.34" stroke="#333" stroke-width="1"/>
<text x="239.7" y="1141.54" font-size="8.8" text-anchor="end">-1.0</text>
<line x1="240.8" y1="1158.91" x2="244.3" y2="1158.91" stroke="#333" stroke-width="1"/>
<text x="239.7" y="1162.11" font-size="8.8" text-anchor="end">-1.5</text>
<line x1="240.8" y1="1179.48" x2="244.3" y2="1179.48" stroke="#333" stroke-width="1"/>
<text x="239.7" y="1182.68" font-size="8.8" text-anchor="end">-2.0</text>
<line x1="251.9" y1="1179.5" x2="251.9" y2="1182.5" stroke="#333" stroke-width="1"/>
<text x="251.9" y="1190.9" font-size="9.2" text-anchor="middle">S1</text>
<line x1="288.35" y1="1179.5" x2="288.35" y2="1182.5" stroke="#333" stroke-width="1"/>
<text x="288.35" y="1190.9" font-size="9.2" text-anchor="middle">S2</text>
<line x1="324.8" y1="1179.5" x2="324.8" y2="1182.5" stroke="#333" stroke-width="1"/>
<text x="324.8" y="1190.9" font-size="9.2" text-anchor="middle">S3</text>
<line x1="361.25" y1="1179.5" x2="361.25" y2="1182.5" stroke="#333" stroke-width="1"/>
<text x="361.25" y="1190.9" font-size="9.2" text-anchor="middle">S4</text>
<line x1="397.7" y1="1179.5" x2="397.7" y2="1182.5" stroke="#333" stroke-width="1"/>
<text x="397.7" y="1190.9" font-size="9.2" text-anchor="middle">S5</text>
<text x="244.6" y="1017.1" font-size="9" fill="#333">Cluster 8 (42)</text>
<clipPath id="c8"><rect x="438.1" y="1020.6" width="162.9" height="158.9"/></clipPath>
<g clip-path="url(#c8)" fill="none" stroke-linejoin="round">
<polyline points="445.7,1122.14 482.58,1069.78 519.45,1069.78 556.33,1054.82 593.2,1090.35" stroke="#b4b4b4" stroke-width="0.9" stroke-opacity="0.45"/>
<polyline points="445.7,1170.76 482.58,1118.4 519.45,1062.3 556.33,1077.26 593.2,1155.8" stroke="#b4b4b4" stroke-width="0.9" stroke-opacity="0.45"/>
<polyline points="445.7,1140.33 482.58,1073.39 519.45,1041.95 556.33,1090.42 593.2,1127.11" stroke="#f09060" stroke-width="0.9" stroke-opacity="0.35"/>
<polyline points="445.7,1145.97 482.58,1081.66 519.45,1044.81 556.33,1076.34 593.2,1104.87" stroke="#e88858" stroke-width="0.9" stroke-opacity="0.35"/>
<polyline points="445.7,1149.85 482.58,1081.69 519.45,1032.33 556.33,1093.83 593.2,1117.95" stroke="#f0a878" stroke-width="0.9" stroke-opacity="0.35"/>
<polyline points="445.7,1147.12 482.58,1077.34 519.45,1047.87 556.33,1094.83 593.2,1138.25" stroke="#e07848" stroke-width="0.9" stroke-opacity="0.35"/>
<polyline points="445.7,1153.96 482.58,1091.5 519.45,1049.66 556.33,1103.14 593.2,1135.67" stroke="#f09060" stroke-width="0.9" stroke-opacity="0.35"/>
<polyline points="445.7,1149.29 482.58,1094.24 519.45,1069.53 556.33,1075.83 593.2,1128.54" stroke="#e88858" stroke-width="0.9" stroke-opacity="0.35"/>
<polyline points="445.7,1151.44 482.58,1101.48 519.45,1027.54 556.33,1085.29 593.2,1149.93" stroke="#f0a878" stroke-width="0.9" stroke-opacity="0.35"/>
<polyline points="445.7,1150.03 482.58,1084.39 519.45,1049.75 556.33,1105.44 593.2,1110.75" stroke="#e07848" stroke-width="0.9" stroke-opacity="0.35"/>
<polyline points="445.7,1151.09 482.58,1076.48 519.45,1052.15 556.33,1090.45 593.2,1124.32" stroke="#f09060" stroke-width="0.9" stroke-opacity="0.35"/>
<polyline points="445.7,1157.85 482.58,1100.1 519.45,1052.8 556.33,1063.29 593.2,1122.52" stroke="#e88858" stroke-width="0.9" stroke-opacity="0.35"/>
<polyline points="445.7,1147.48 482.58,1109.72 519.45,1044 556.33,1070 593.2,1115.22" stroke="#f0a878" stroke-width="0.9" stroke-opacity="0.35"/>
<polyline points="445.7,1139.72 482.58,1106.26 519.45,1057.72 556.33,1077.26 593.2,1119.41" stroke="#e07848" stroke-width="0.9" stroke-opacity="0.35"/>
<polyline points="445.7,1132.82 482.58,1077.28 519.45,1049.86 556.33,1087.76 593.2,1126.74" stroke="#f09060" stroke-width="0.9" stroke-opacity="0.35"/>
<polyline points="445.7,1162.2 482.58,1104.47 519.45,1039.79 556.33,1084.37 593.2,1138.72" stroke="#e88858" stroke-width="0.9" stroke-opacity="0.35"/>
<polyline points="445.7,1154.49 482.58,1077.76 519.45,1051 556.33,1078.23 593.2,1119.14" stroke="#f0a878" stroke-width="0.9" stroke-opacity="0.35"/>
<polyline points="445.7,1141.48 482.58,1073.88 519.45,1049.12 556.33,1085.16 593.2,1124.3" stroke="#e07848" stroke-width="0.9" stroke-opacity="0.35"/>
<polyline points="445.7,1144.9 482.58,1093.2 519.45,1050.64 556.33,1065.69 593.2,1121.86" stroke="#f09060" stroke-width="0.9" stroke-opacity="0.35"/>
<polyline points="445.7,1155.11 482.58,1081.41 519.45,1045.09 556.33,1069.4 593.2,1126.33" stroke="#e88858" stroke-width="0.9" stroke-opacity="0.35"/>
<polyline points="445.7,1141.22 482.58,1078.72 519.45,1050.87 556.33,1082.91 593.2,1115.98" stroke="#f0a878" stroke-width="0.9" stroke-opacity="0.35"/>
<polyline points="445.7,1148.4 482.58,1076.87 519.45,1048.91 556.33,1072 593.2,1126.48" stroke="#e07848" stroke-width="0.9" stroke-opacity="0.35"/>
<polyline points="445.7,1154 482.58,1083.85 519.45,1050.84 556.33,1086.97 593.2,1110.97" stroke="#f09060" stroke-width="0.9" stroke-opacity="0.35"/>
<polyline points="445.7,1156.13 482.58,1073.02 519.45,1045.96 556.33,1099.1 593.2,1123.12" stroke="#e88858" stroke-width="0.9" stroke-opacity="0.35"/>
<polyline points="445.7,1155.68 482.58,1091.82 519.45,1057.87 556.33,1080.78 593.2,1106.13" stroke="#f0a878" stroke-width="0.9" stroke-opacity="0.35"/>
<polyline points="445.7,1142.34 482.58,1090.2 519.45,1052.09 556.33,1072.73 593.2,1120.68" stroke="#e07848" stroke-width="0.9" stroke-opacity="0.35"/>
<polyline points="445.7,1161.14 482.58,1099.91 519.45,1039.94 556.33,1072.64 593.2,1132.44" stroke="#f09060" stroke-width="0.9" stroke-opacity="0.35"/>
<polyline points="445.7,1153.86 482.58,1104.3 519.45,1047.55 556.33,1083.56 593.2,1131.31" stroke="#e88858" stroke-width="0.9" stroke-opacity="0.35"/>
<polyline points="445.7,1138.95 482.58,1080.68 519.45,1037.79 556.33,1084.02 593.2,1117.39" stroke="#f0a878" stroke-width="0.9" stroke-opacity="0.35"/>
<polyline points="445.7,1157.85 482.58,1079.64 519.45,1038 556.33,1086.7 593.2,1104.01" stroke="#e07848" stroke-width="0.9" stroke-opacity="0.35"/>
<polyline points="445.7,1152.12 482.58,1092.1 519.45,1052.32 556.33,1064.43 593.2,1118.36" stroke="#f09060" stroke-width="0.9" stroke-opacity="0.35"/>
<polyline points="445.7,1149.82 482.58,1071.69 519.45,1044.7 556.33,1065.66 593.2,1129.67" stroke="#e88858" stroke-width="0.9" stroke-opacity="0.35"/>
<polyline points="445.7,1147.23 482.58,1093.15 519.45,1038.92 556.33,1115.59 593.2,1122.47" stroke="#f0a878" stroke-width="0.9" stroke-opacity="0.35"/>
<polyline points="445.7,1158.04 482.58,1096.29 519.45,1030.36 556.33,1086.92 593.2,1136.67" stroke="#e07848" stroke-width="0.9" stroke-opacity="0.35"/>
<polyline points="445.7,1152.25 482.58,1085.29 519.45,1045.69 556.33,1097.79 593.2,1122.18" stroke="#f09060" stroke-width="0.9" stroke-opacity="0.35"/>
<polyline points="445.7,1148.25 482.58,1063.58 519.45,1048.36 556.33,1076.06 593.2,1125.58" stroke="#e88858" stroke-width="0.9" stroke-opacity="0.35"/>
<polyline points="445.7,1144.67 482.58,1096.91 519.45,1041.92 556.33,1092.94 593.2,1146.27" stroke="#f0a878" stroke-width="0.9" stroke-opacity="0.35"/>
<polyline points="445.7,1135.97 482.58,1098.58 519.45,1030.88 556.33,1081.95 593.2,1131.71" stroke="#e07848" stroke-width="0.9" stroke-opacity="0.35"/>
<polyline points="445.7,1131.08 482.58,1100.2 519.45,1040.62 556.33,1073.27 593.2,1134.42" stroke="#f09060" stroke-width="0.9" stroke-opacity="0.35"/>
<polyline points="445.7,1151.62 482.58,1090.63 519.45,1064.27 556.33,1068.08 593.2,1139.96" stroke="#e88858" stroke-width="0.9" stroke-opacity="0.35"/>
<polyline points="445.7,1163.63 482.58,1080.15 519.45,1043.19 556.33,1090.61 593.2,1125.54" stroke="#f0a878" stroke-width="0.9" stroke-opacity="0.35"/>
<polyline points="445.7,1162.03 482.58,1079.8 519.45,1051.26 556.33,1094.64 593.2,1129.39" stroke="#e07848" stroke-width="0.9" stroke-opacity="0.35"/>
<polyline points="445.7,1145.46 482.58,1078.18 519.45,1048.29 556.33,1098.52 593.2,1107.42" stroke="#f09060" stroke-width="0.9" stroke-opacity="0.35"/>
<polyline points="445.7,1158.28 482.58,1078.99 519.45,1041.23 556.33,1084.85 593.2,1125.21" stroke="#e88858" stroke-width="0.9" stroke-opacity="0.35"/>
<polyline points="445.7,1139.51 482.58,1094.03 519.45,1051.76 556.33,1068.64 593.2,1136.07" stroke="#f0a878" stroke-width="0.9" stroke-opacity="0.35"/>
<polyline points="445.7,1165.66 482.58,1077.3 519.45,1053.63 556.33,1097.36 593.2,1127.46" stroke="#e07848" stroke-width="0.9" stroke-opacity="0.35"/>
<polyline points="445.7,1151.73 482.58,1085.74 519.45,1048.08 556.33,1100.82 593.2,1116.89" stroke="#f09060" stroke-width="0.9" stroke-opacity="0.35"/>
<polyline points="445.7,1147.57 482.58,1087.87 519.45,1043.7 556.33,1086.61 593.2,1136.6" stroke="#e88858" stroke-width="0.9" stroke-opacity="0.35"/>
<polyline points="445.7,1158.31 482.58,1071.74 519.45,1045.41 556.33,1091.43 593.2,1133.97" stroke="#f0a878" stroke-width="0.9" stroke-opacity="0.35"/>
<polyline points="445.7,1154.91 482.58,1088.99 519.45,1041.48 556.33,1084.95 593.2,1119.02" stroke="#e07848" stroke-width="0.9" stroke-opacity="0.35"/>
<polyline points="445.7,1132.31 482.58,1084.12 519.45,1053.39 556.33,1082.65 593.2,1151.82" stroke="#f09060" stroke-width="0.9" stroke-opacity="0.35"/>
<polyline points="445.7,1152.05 482.58,1070.41 519.45,1038.6 556.33,1083.62 593.2,1123.66" stroke="#e88858" stroke-width="0.9" stroke-opacity="0.35"/>
<polyline points="445.7,1144.65 482.58,1089.91 519.45,1044.46 556.33,1084.94 593.2,1114.37" stroke="#f0a878" stroke-width="0.9" stroke-opacity="0.35"/>
<polyline points="445.7,1141.7 482.58,1078.44 519.45,1036.1 556.33,1107.8 593.2,1112.91" stroke="#e07848" stroke-width="0.9" stroke-opacity="0.35"/>
<polyline points="445.7,1164.21 482.58,1080.9 519.45,1050.27 556.33,1073.46 593.2,1134.87" stroke="#f09060" stroke-width="0.9" stroke-opacity="0.35"/>
<polyline points="445.7,1154.09 482.58,1097.15 519.45,1050.65 556.33,1089.12 593.2,1127.44" stroke="#e88858" stroke-width="0.9" stroke-opacity="0.35"/>
<polyline points="445.7,1155.43 482.58,1079.18 519.45,1070.59 556.33,1077.84 593.2,1113.42" stroke="#f0a878" stroke-width="0.9" stroke-opacity="0.35"/>
<polyline points="445.7,1153.39 482.58,1097.77 519.45,1059.41 556.33,1073.17 593.2,1137.93" stroke="#e07848" stroke-width="0.9" stroke-opacity="0.35"/>
<polyline points="445.7,1145.8 482.58,1074.06 519.45,1050.58 556.33,1079.12 593.2,1115.87" stroke="#f09060" stroke-width="0.9" stroke-opacity="0.35"/>
<polyline points="445.7,1139.48 482.58,1088.45 519.45,1041.2 556.33,1090.92 593.2,1120.41" stroke="#e88858" stroke-width="0.9" stroke-opacity="0.35"/>
<polyline points="445.7,1158.6 482.58,1090.03 519.45,1042.23 556.33,1067.87 593.2,1105.86" stroke="#f0a878" stroke-width="0.9" stroke-opacity="0.35"/>
<polyline points="445.7,1152.06 482.58,1088.48 519.45,1047.34 556.33,1082.87 593.2,1125.88" stroke="#e67d48" stroke-width="3.8" stroke-linecap="round"/>
</g>
<rect x="555.5" y="1160" width="29.08" height="12.2" fill="#d2d2d2"/>
<rect x="584.53" y="1160" width="3.87" height="12.2" fill="#a6a6a6"/>
<rect x="588.35" y="1160" width="5.4" height="12.2" fill="#6a6a6a"/>
<rect x="438.1" y="1020.6" width="162.9" height="158.9" fill="none" stroke="#333" stroke-width="1.4"/>
<line x1="434.6" y1="1024.9" x2="438.1" y2="1024.9" stroke="#333" stroke-width="1"/>
<text x="433.5" y="1028.1" font-size="8.8" text-anchor="end">2.0</text>
<line x1="434.6" y1="1043.6" x2="438.1" y2="1043.6" stroke="#333" stroke-width="1"/>
<text x="433.5" y="1046.8" font-size="8.8" text-anchor="end">1.5</text>
<line x1="434.6" y1="1062.3" x2="438.1" y2="1062.3" stroke="#333" stroke-width="1"/>
<text x="433.5" y="1065.5" font-size="8.8" text-anchor="end">1.0</text>
<line x1="434.6" y1="1081" x2="438.1" y2="1081" stroke="#333" stroke-width="1"/>
<text x="433.5" y="1084.2" font-size="8.8" text-anchor="end">0.5</text>
<line x1="434.6" y1="1099.7" x2="438.1" y2="1099.7" stroke="#333" stroke-width="1"/>
<text x="433.5" y="1102.9" font-size="8.8" text-anchor="end">0.0</text>
<line x1="434.6" y1="1118.4" x2="438.1" y2="1118.4" stroke="#333" stroke-width="1"/>
<text x="433.5" y="1121.6" font-size="8.8" text-anchor="end">-0.5</text>
<line x1="434.6" y1="1137.1" x2="438.1" y2="1137.1" stroke="#333" stroke-width="1"/>
<text x="433.5" y="1140.3" font-size="8.8" text-anchor="end">-1.0</text>
<line x1="434.6" y1="1155.8" x2="438.1" y2="1155.8" stroke="#333" stroke-width="1"/>
<text x="433.5" y="1159" font-size="8.8" text-anchor="end">-1.5</text>
<line x1="434.6" y1="1174.5" x2="438.1" y2="1174.5" stroke="#333" stroke-width="1"/>
<text x="433.5" y="1177.7" font-size="8.8" text-anchor="end">-2.0</text>
<line x1="445.7" y1="1179.5" x2="445.7" y2="1182.5" stroke="#333" stroke-width="1"/>
<text x="445.7" y="1190.9" font-size="9.2" text-anchor="middle">S1</text>
<line x1="482.58" y1="1179.5" x2="482.58" y2="1182.5" stroke="#333" stroke-width="1"/>
<text x="482.58" y="1190.9" font-size="9.2" text-anchor="middle">S2</text>
<line x1="519.45" y1="1179.5" x2="519.45" y2="1182.5" stroke="#333" stroke-width="1"/>
<text x="519.45" y="1190.9" font-size="9.2" text-anchor="middle">S3</text>
<line x1="556.33" y1="1179.5" x2="556.33" y2="1182.5" stroke="#333" stroke-width="1"/>
<text x="556.33" y="1190.9" font-size="9.2" text-anchor="middle">S4</text>
<line x1="593.2" y1="1179.5" x2="593.2" y2="1182.5" stroke="#333" stroke-width="1"/>
<text x="593.2" y="1190.9" font-size="9.2" text-anchor="middle">S5</text>
<text x="438.4" y="1017.4" font-size="9" fill="#333">Cluster 9 (59)</text>
<clipPath id="c9"><rect x="633.8" y="1020.6" width="162.5" height="158.9"/></clipPath>
<g clip-path="url(#c9)" fill="none" stroke-linejoin="round">
<polyline points="641.4,1106.42 678.17,1099.69 714.95,1155.81 751.72,1142.34 788.5,1048.05" stroke="#b4b4b4" stroke-width="0.9" stroke-opacity="0.45"/>
<polyline points="641.4,1061.52 678.17,1128.87 714.95,1164.79 751.72,1146.83 788.5,1030.09" stroke="#b4b4b4" stroke-width="0.9" stroke-opacity="0.45"/>
<polyline points="641.4,1093.93 678.17,1139.29 714.95,1158.79 751.72,1139.06 788.5,1065.13" stroke="#90d0b0" stroke-width="0.9" stroke-opacity="0.4"/>
<polyline points="641.4,1091.25 678.17,1159.11 714.95,1158.94 751.72,1135.41 788.5,1052.19" stroke="#7ac4a0" stroke-width="0.9" stroke-opacity="0.4"/>
<polyline points="641.4,1095.44 678.17,1132.13 714.95,1148.78 751.72,1121.51 788.5,1034.24" stroke="#a8d8c0" stroke-width="0.9" stroke-opacity="0.4"/>
<polyline points="641.4,1103.94 678.17,1152.37 714.95,1156.06 751.72,1130.69 788.5,1028.97" stroke="#88c8a8" stroke-width="0.9" stroke-opacity="0.4"/>
<polyline points="641.4,1093.63 678.17,1161.5 714.95,1148.78 751.72,1126.9 788.5,1024.5" stroke="#90d0b0" stroke-width="0.9" stroke-opacity="0.4"/>
<polyline points="641.4,1092.85 678.17,1154 714.95,1162.12 751.72,1142.45 788.5,1040.27" stroke="#7ac4a0" stroke-width="0.9" stroke-opacity="0.4"/>
<polyline points="641.4,1050.86 678.17,1143.09 714.95,1161.14 751.72,1132.46 788.5,1068.21" stroke="#a8d8c0" stroke-width="0.9" stroke-opacity="0.4"/>
<polyline points="641.4,1086.21 678.17,1137.28 714.95,1161.1 751.72,1135.52 788.5,1053.39" stroke="#88c8a8" stroke-width="0.9" stroke-opacity="0.4"/>
<polyline points="641.4,1107.36 678.17,1161.95 714.95,1156.9 751.72,1140.3 788.5,1054.31" stroke="#90d0b0" stroke-width="0.9" stroke-opacity="0.4"/>
<polyline points="641.4,1086.19 678.17,1158.88 714.95,1169.57 751.72,1135.95 788.5,1051.82" stroke="#7ac4a0" stroke-width="0.9" stroke-opacity="0.4"/>
<polyline points="641.4,1117.83 678.17,1147.01 714.95,1155.54 751.72,1146.34 788.5,1052.5" stroke="#a8d8c0" stroke-width="0.9" stroke-opacity="0.4"/>
<polyline points="641.4,1077.63 678.17,1162.41 714.95,1155.47 751.72,1132.14 788.5,1050.05" stroke="#88c8a8" stroke-width="0.9" stroke-opacity="0.4"/>
<polyline points="641.4,1099.95 678.17,1151.92 714.95,1151.77 751.72,1150.67 788.5,1049.11" stroke="#90d0b0" stroke-width="0.9" stroke-opacity="0.4"/>
<polyline points="641.4,1099.47 678.17,1143.31 714.95,1153.1 751.72,1139.05 788.5,1027.35" stroke="#7ac4a0" stroke-width="0.9" stroke-opacity="0.4"/>
<polyline points="641.4,1118.05 678.17,1157.21 714.95,1150.99 751.72,1140.88 788.5,1034.45" stroke="#a8d8c0" stroke-width="0.9" stroke-opacity="0.4"/>
<polyline points="641.4,1069.97 678.17,1164.3 714.95,1150.21 751.72,1143.96 788.5,1040.53" stroke="#88c8a8" stroke-width="0.9" stroke-opacity="0.4"/>
<polyline points="641.4,1066.33 678.17,1154.19 714.95,1152.69 751.72,1151.26 788.5,1025.15" stroke="#90d0b0" stroke-width="0.9" stroke-opacity="0.4"/>
<polyline points="641.4,1100.44 678.17,1145.8 714.95,1154.69 751.72,1123.53 788.5,1038.85" stroke="#7ac4a0" stroke-width="0.9" stroke-opacity="0.4"/>
<polyline points="641.4,1115.43 678.17,1148.96 714.95,1152.38 751.72,1134.65 788.5,1033.47" stroke="#a8d8c0" stroke-width="0.9" stroke-opacity="0.4"/>
<polyline points="641.4,1105.61 678.17,1146.51 714.95,1153.01 751.72,1132.5 788.5,1058.98" stroke="#88c8a8" stroke-width="0.9" stroke-opacity="0.4"/>
<polyline points="641.4,1057.62 678.17,1132.6 714.95,1150.97 751.72,1131.67 788.5,1054.4" stroke="#90d0b0" stroke-width="0.9" stroke-opacity="0.4"/>
<polyline points="641.4,1110.81 678.17,1147.78 714.95,1156.76 751.72,1137.93 788.5,1037.76" stroke="#7ac4a0" stroke-width="0.9" stroke-opacity="0.4"/>
<polyline points="641.4,1069.99 678.17,1142.83 714.95,1151.41 751.72,1130.54 788.5,1049.28" stroke="#a8d8c0" stroke-width="0.9" stroke-opacity="0.4"/>
<polyline points="641.4,1115.36 678.17,1162.44 714.95,1158.28 751.72,1141.63 788.5,1047.94" stroke="#88c8a8" stroke-width="0.9" stroke-opacity="0.4"/>
<polyline points="641.4,1084.27 678.17,1126.58 714.95,1156.43 751.72,1118.3 788.5,1035.33" stroke="#90d0b0" stroke-width="0.9" stroke-opacity="0.4"/>
<polyline points="641.4,1086.12 678.17,1152.06 714.95,1160.13 751.72,1125.24 788.5,1042.91" stroke="#7ac4a0" stroke-width="0.9" stroke-opacity="0.4"/>
<polyline points="641.4,1073.74 678.17,1158.28 714.95,1153.59 751.72,1141.65 788.5,1047.03" stroke="#a8d8c0" stroke-width="0.9" stroke-opacity="0.4"/>
<polyline points="641.4,1081.75 678.17,1152.41 714.95,1153.49 751.72,1130.88 788.5,1034.52" stroke="#88c8a8" stroke-width="0.9" stroke-opacity="0.4"/>
<polyline points="641.4,1090.71 678.17,1149.08 714.95,1155.81 751.72,1137.85 788.5,1042.66" stroke="#5cb88a" stroke-width="3.8" stroke-linecap="round"/>
</g>
<rect x="751.5" y="1160" width="36.34" height="12.2" fill="#d2d2d2"/>
<rect x="787.79" y="1160" width="1.96" height="12.2" fill="#6a6a6a"/>
<rect x="633.8" y="1020.6" width="162.5" height="158.9" fill="none" stroke="#333" stroke-width="1.4"/>
<line x1="630.3" y1="1025.6" x2="633.8" y2="1025.6" stroke="#333" stroke-width="1"/>
<text x="629.2" y="1028.8" font-size="8.8" text-anchor="end">2.0</text>
<line x1="630.3" y1="1048.05" x2="633.8" y2="1048.05" stroke="#333" stroke-width="1"/>
<text x="629.2" y="1051.25" font-size="8.8" text-anchor="end">1.5</text>
<line x1="630.3" y1="1070.5" x2="633.8" y2="1070.5" stroke="#333" stroke-width="1"/>
<text x="629.2" y="1073.7" font-size="8.8" text-anchor="end">1.0</text>
<line x1="630.3" y1="1092.95" x2="633.8" y2="1092.95" stroke="#333" stroke-width="1"/>
<text x="629.2" y="1096.15" font-size="8.8" text-anchor="end">0.5</text>
<line x1="630.3" y1="1115.4" x2="633.8" y2="1115.4" stroke="#333" stroke-width="1"/>
<text x="629.2" y="1118.6" font-size="8.8" text-anchor="end">0.0</text>
<line x1="630.3" y1="1137.85" x2="633.8" y2="1137.85" stroke="#333" stroke-width="1"/>
<text x="629.2" y="1141.05" font-size="8.8" text-anchor="end">-0.5</text>
<line x1="630.3" y1="1160.3" x2="633.8" y2="1160.3" stroke="#333" stroke-width="1"/>
<text x="629.2" y="1163.5" font-size="8.8" text-anchor="end">-1.0</text>
<line x1="641.4" y1="1179.5" x2="641.4" y2="1182.5" stroke="#333" stroke-width="1"/>
<text x="641.4" y="1190.9" font-size="9.2" text-anchor="middle">S1</text>
<line x1="678.17" y1="1179.5" x2="678.17" y2="1182.5" stroke="#333" stroke-width="1"/>
<text x="678.17" y="1190.9" font-size="9.2" text-anchor="middle">S2</text>
<line x1="714.95" y1="1179.5" x2="714.95" y2="1182.5" stroke="#333" stroke-width="1"/>
<text x="714.95" y="1190.9" font-size="9.2" text-anchor="middle">S3</text>
<line x1="751.72" y1="1179.5" x2="751.72" y2="1182.5" stroke="#333" stroke-width="1"/>
<text x="751.72" y="1190.9" font-size="9.2" text-anchor="middle">S4</text>
<line x1="788.5" y1="1179.5" x2="788.5" y2="1182.5" stroke="#333" stroke-width="1"/>
<text x="788.5" y="1190.9" font-size="9.2" text-anchor="middle">S5</text>
<text x="634.1" y="1017.4" font-size="9" fill="#333">Cluster 10 (28)</text>
<clipPath id="c10"><rect x="829.1" y="1020.6" width="162.9" height="158.9"/></clipPath>
<g clip-path="url(#c10)" fill="none" stroke-linejoin="round">
<polyline points="836.7,1147.12 873.58,1048.15 910.45,1134.22 947.33,1168.64 984.2,1069.67" stroke="#b4b4b4" stroke-width="0.9" stroke-opacity="0.45"/>
<polyline points="836.7,1080.43 873.58,1030.94 910.45,1082.58 947.33,1121.31 984.2,1134.22" stroke="#b4b4b4" stroke-width="0.9" stroke-opacity="0.45"/>
<polyline points="836.7,1099.03 873.58,1041.6 910.45,1108.46 947.33,1158.13 984.2,1154.38" stroke="#8a80c0" stroke-width="0.9" stroke-opacity="0.4"/>
<polyline points="836.7,1111.35 873.58,1041.52 910.45,1114.03 947.33,1158.79 984.2,1141.15" stroke="#7a70b8" stroke-width="0.9" stroke-opacity="0.4"/>
<polyline points="836.7,1085.88 873.58,1037.18 910.45,1106.42 947.33,1154.86 984.2,1154.73" stroke="#a8a0d0" stroke-width="0.9" stroke-opacity="0.4"/>
<polyline points="836.7,1126.35 873.58,1045.69 910.45,1104.88 947.33,1155.96 984.2,1153.19" stroke="#9088c8" stroke-width="0.9" stroke-opacity="0.4"/>
<polyline points="836.7,1124.36 873.58,1034.88 910.45,1082.89 947.33,1153.09 984.2,1143.81" stroke="#8a80c0" stroke-width="0.9" stroke-opacity="0.4"/>
<polyline points="836.7,1129.12 873.58,1027.5 910.45,1132.16 947.33,1148.08 984.2,1150.56" stroke="#7a70b8" stroke-width="0.9" stroke-opacity="0.4"/>
<polyline points="836.7,1121.87 873.58,1037.57 910.45,1136.87 947.33,1147.22 984.2,1155.45" stroke="#a8a0d0" stroke-width="0.9" stroke-opacity="0.4"/>
<polyline points="836.7,1112.27 873.58,1038.1 910.45,1106.6 947.33,1142.92 984.2,1169.61" stroke="#9088c8" stroke-width="0.9" stroke-opacity="0.4"/>
<polyline points="836.7,1111.68 873.58,1039.84 910.45,1113.48 947.33,1147.58 984.2,1152.86" stroke="#8a80c0" stroke-width="0.9" stroke-opacity="0.4"/>
<polyline points="836.7,1110.41 873.58,1045.19 910.45,1111.58 947.33,1159.3 984.2,1155.34" stroke="#7a70b8" stroke-width="0.9" stroke-opacity="0.4"/>
<polyline points="836.7,1117.26 873.58,1039.57 910.45,1099.95 947.33,1155.49 984.2,1139.32" stroke="#a8a0d0" stroke-width="0.9" stroke-opacity="0.4"/>
<polyline points="836.7,1122.41 873.58,1026.16 910.45,1091.29 947.33,1157.52 984.2,1145.55" stroke="#9088c8" stroke-width="0.9" stroke-opacity="0.4"/>
<polyline points="836.7,1079.06 873.58,1042.25 910.45,1088.36 947.33,1138.77 984.2,1141.99" stroke="#8a80c0" stroke-width="0.9" stroke-opacity="0.4"/>
<polyline points="836.7,1106.89 873.58,1033.29 910.45,1091.47 947.33,1160.9 984.2,1154.31" stroke="#7a70b8" stroke-width="0.9" stroke-opacity="0.4"/>
<polyline points="836.7,1116.66 873.58,1043.64 910.45,1107.83 947.33,1150.98 984.2,1144.67" stroke="#a8a0d0" stroke-width="0.9" stroke-opacity="0.4"/>
<polyline points="836.7,1092.77 873.58,1038.15 910.45,1110.96 947.33,1151.91 984.2,1144.32" stroke="#9088c8" stroke-width="0.9" stroke-opacity="0.4"/>
<polyline points="836.7,1105.05 873.58,1038.58 910.45,1104.24 947.33,1146.97 984.2,1136.45" stroke="#8a80c0" stroke-width="0.9" stroke-opacity="0.4"/>
<polyline points="836.7,1130.8 873.58,1037.57 910.45,1112.49 947.33,1157.23 984.2,1135.63" stroke="#7a70b8" stroke-width="0.9" stroke-opacity="0.4"/>
<polyline points="836.7,1130.67 873.58,1037.73 910.45,1115.96 947.33,1164.31 984.2,1145.71" stroke="#a8a0d0" stroke-width="0.9" stroke-opacity="0.4"/>
<polyline points="836.7,1100.71 873.58,1033.27 910.45,1113.38 947.33,1135.2 984.2,1158.21" stroke="#9088c8" stroke-width="0.9" stroke-opacity="0.4"/>
<polyline points="836.7,1104.82 873.58,1046.27 910.45,1113.37 947.33,1159.39 984.2,1142.92" stroke="#8a80c0" stroke-width="0.9" stroke-opacity="0.4"/>
<polyline points="836.7,1112.7 873.58,1039.55 910.45,1112.7 947.33,1152.29 984.2,1145.83" stroke="#5a48a2" stroke-width="3.8" stroke-linecap="round"/>
</g>
<rect x="947.3" y="1160.6" width="20.62" height="11.6" fill="#d2d2d2"/>
<rect x="967.87" y="1160.6" width="5.66" height="11.6" fill="#a6a6a6"/>
<rect x="973.48" y="1160.6" width="3.79" height="11.6" fill="#8a8a8a"/>
<rect x="977.22" y="1160.6" width="3.79" height="11.6" fill="#6a6a6a"/>
<rect x="980.96" y="1160.6" width="3.79" height="11.6" fill="#4a4a4a"/>
<rect x="829.1" y="1020.6" width="162.9" height="158.9" fill="none" stroke="#333" stroke-width="1.4"/>
<line x1="825.6" y1="1026.64" x2="829.1" y2="1026.64" stroke="#333" stroke-width="1"/>
<text x="824.5" y="1029.84" font-size="8.8" text-anchor="end">2.0</text>
<line x1="825.6" y1="1048.15" x2="829.1" y2="1048.15" stroke="#333" stroke-width="1"/>
<text x="824.5" y="1051.36" font-size="8.8" text-anchor="end">1.5</text>
<line x1="825.6" y1="1069.67" x2="829.1" y2="1069.67" stroke="#333" stroke-width="1"/>
<text x="824.5" y="1072.87" font-size="8.8" text-anchor="end">1.0</text>
<line x1="825.6" y1="1091.18" x2="829.1" y2="1091.18" stroke="#333" stroke-width="1"/>
<text x="824.5" y="1094.38" font-size="8.8" text-anchor="end">0.5</text>
<line x1="825.6" y1="1112.7" x2="829.1" y2="1112.7" stroke="#333" stroke-width="1"/>
<text x="824.5" y="1115.9" font-size="8.8" text-anchor="end">0.0</text>
<line x1="825.6" y1="1134.22" x2="829.1" y2="1134.22" stroke="#333" stroke-width="1"/>
<text x="824.5" y="1137.42" font-size="8.8" text-anchor="end">-0.5</text>
<line x1="825.6" y1="1155.73" x2="829.1" y2="1155.73" stroke="#333" stroke-width="1"/>
<text x="824.5" y="1158.93" font-size="8.8" text-anchor="end">-1.0</text>
<line x1="825.6" y1="1177.25" x2="829.1" y2="1177.25" stroke="#333" stroke-width="1"/>
<text x="824.5" y="1180.45" font-size="8.8" text-anchor="end">-1.5</text>
<line x1="836.7" y1="1179.5" x2="836.7" y2="1182.5" stroke="#333" stroke-width="1"/>
<text x="836.7" y="1190.9" font-size="9.2" text-anchor="middle">S1</text>
<line x1="873.58" y1="1179.5" x2="873.58" y2="1182.5" stroke="#333" stroke-width="1"/>
<text x="873.58" y="1190.9" font-size="9.2" text-anchor="middle">S2</text>
<line x1="910.45" y1="1179.5" x2="910.45" y2="1182.5" stroke="#333" stroke-width="1"/>
<text x="910.45" y="1190.9" font-size="9.2" text-anchor="middle">S3</text>
<line x1="947.33" y1="1179.5" x2="947.33" y2="1182.5" stroke="#333" stroke-width="1"/>
<text x="947.33" y="1190.9" font-size="9.2" text-anchor="middle">S4</text>
<line x1="984.2" y1="1179.5" x2="984.2" y2="1182.5" stroke="#333" stroke-width="1"/>
<text x="984.2" y="1190.9" font-size="9.2" text-anchor="middle">S5</text>
<text x="829.4" y="1017.4" font-size="9" fill="#333">Cluster 11 (21)</text>
<clipPath id="c11"><rect x="1024.4" y="1020.6" width="162.9" height="158.9"/></clipPath>
<g clip-path="url(#c11)" fill="none" stroke-linejoin="round">
<polyline points="1032,1094.6 1068.88,1158.6 1105.75,1042.6 1142.62,1158.6 1179.5,1082.6" stroke="#b4b4b4" stroke-width="0.9" stroke-opacity="0.45"/>
<polyline points="1032,1114.6 1068.88,1072.6 1105.75,1114.6 1142.62,1102.6 1179.5,1030.6" stroke="#b4b4b4" stroke-width="0.9" stroke-opacity="0.45"/>
<polyline points="1032,1142.8 1068.88,1131.64 1105.75,1053.75 1142.62,1129.17 1179.5,1066.34" stroke="#6a6070" stroke-width="0.9" stroke-opacity="0.55"/>
<polyline points="1032,1133.63 1068.88,1113.05 1105.75,1063.07 1142.62,1132.31 1179.5,1043.14" stroke="#7a7080" stroke-width="0.9" stroke-opacity="0.55"/>
<polyline points="1032,1157.55 1068.88,1137.61 1105.75,1084.2 1142.62,1115.85 1179.5,1043.97" stroke="#5a5060" stroke-width="0.9" stroke-opacity="0.55"/>
<polyline points="1032,1120.51 1068.88,1104.2 1105.75,1083.01 1142.62,1119.36 1179.5,1061.68" stroke="#8a8090" stroke-width="0.9" stroke-opacity="0.55"/>
<polyline points="1032,1147.73 1068.88,1134.14 1105.75,1090.13 1142.62,1129.39 1179.5,1029.95" stroke="#6a6070" stroke-width="0.9" stroke-opacity="0.55"/>
<polyline points="1032,1170.69 1068.88,1112.27 1105.75,1068.24 1142.62,1132.84 1179.5,1045.83" stroke="#7a7080" stroke-width="0.9" stroke-opacity="0.55"/>
<polyline points="1032,1145.24 1068.88,1070.4 1105.75,1070.25 1142.62,1124.36 1179.5,1026.35" stroke="#5a5060" stroke-width="0.9" stroke-opacity="0.55"/>
<polyline points="1032,1145.08 1068.88,1079.76 1105.75,1085.59 1142.62,1131.45 1179.5,1073.18" stroke="#8a8090" stroke-width="0.9" stroke-opacity="0.55"/>
<polyline points="1032,1169.36 1068.88,1116.9 1105.75,1068.06 1142.62,1128.63 1179.5,1059.12" stroke="#6a6070" stroke-width="0.9" stroke-opacity="0.55"/>
<polyline points="1032,1174.75 1068.88,1100.25 1105.75,1047.78 1142.62,1105.41 1179.5,1011.99" stroke="#7a7080" stroke-width="0.9" stroke-opacity="0.55"/>
<polyline points="1032,1146.86 1068.88,1141.38 1105.75,1115.4 1142.62,1142.43 1179.5,1055.85" stroke="#5a5060" stroke-width="0.9" stroke-opacity="0.55"/>
<polyline points="1032,1139.58 1068.88,1135.43 1105.75,1109.52 1142.62,1110.15 1179.5,1026.01" stroke="#8a8090" stroke-width="0.9" stroke-opacity="0.55"/>
<polyline points="1032,1169.62 1068.88,1099.79 1105.75,1117.08 1142.62,1118.51 1179.5,1085.65" stroke="#6a6070" stroke-width="0.9" stroke-opacity="0.55"/>
<polyline points="1032,1170.18 1068.88,1109.19 1105.75,1075.59 1142.62,1101.56 1179.5,1058.83" stroke="#7a7080" stroke-width="0.9" stroke-opacity="0.55"/>
<polyline points="1032,1133.94 1068.88,1098.8 1105.75,1074.16 1142.62,1119.08 1179.5,1034.39" stroke="#5a5060" stroke-width="0.9" stroke-opacity="0.55"/>
<polyline points="1032,1142.56 1068.88,1113.94 1105.75,1078.37 1142.62,1147.82 1179.5,1065.28" stroke="#8a8090" stroke-width="0.9" stroke-opacity="0.55"/>
<polyline points="1032,1167.29 1068.88,1095.26 1105.75,1098.76 1142.62,1136.54 1179.5,1093.48" stroke="#6a6070" stroke-width="0.9" stroke-opacity="0.55"/>
<polyline points="1032,1142.73 1068.88,1130.54 1105.75,1066.03 1142.62,1115.6 1179.5,1040.07" stroke="#7a7080" stroke-width="0.9" stroke-opacity="0.55"/>
<polyline points="1032,1117.02 1068.88,1087.27 1105.75,1050.29 1142.62,1103.49 1179.5,1046.32" stroke="#5a5060" stroke-width="0.9" stroke-opacity="0.55"/>
<polyline points="1032,1168.71 1068.88,1106.63 1105.75,1069.6 1142.62,1110.09 1179.5,1055.1" stroke="#8a8090" stroke-width="0.9" stroke-opacity="0.55"/>
<polyline points="1032,1146.78 1068.88,1129.53 1105.75,1057.13 1142.62,1119.53 1179.5,1055" stroke="#6a6070" stroke-width="0.9" stroke-opacity="0.55"/>
<polyline points="1032,1138.75 1068.88,1136.07 1105.75,1091.65 1142.62,1134.74 1179.5,1053.73" stroke="#7a7080" stroke-width="0.9" stroke-opacity="0.55"/>
<polyline points="1032,1160.66 1068.88,1111 1105.75,1090.29 1142.62,1127.9 1179.5,1072.63" stroke="#5a5060" stroke-width="0.9" stroke-opacity="0.55"/>
<polyline points="1032,1186.11 1068.88,1131.31 1105.75,1051.8 1142.62,1101.67 1179.5,1031.61" stroke="#8a8090" stroke-width="0.9" stroke-opacity="0.55"/>
<polyline points="1032,1172.26 1068.88,1124.76 1105.75,1081.65 1142.62,1126 1179.5,1046.86" stroke="#6a6070" stroke-width="0.9" stroke-opacity="0.55"/>
<polyline points="1032,1150.49 1068.88,1111.34 1105.75,1054 1142.62,1104.18 1179.5,1060.11" stroke="#7a7080" stroke-width="0.9" stroke-opacity="0.55"/>
<polyline points="1032,1135.19 1068.88,1129.91 1105.75,1096.53 1142.62,1129.37 1179.5,1047.9" stroke="#5a5060" stroke-width="0.9" stroke-opacity="0.55"/>
<polyline points="1032,1148.6 1068.88,1119.4 1105.75,1073.4 1142.62,1123.4 1179.5,1048.6" stroke="#1a1832" stroke-width="3.8" stroke-linecap="round"/>
</g>
<rect x="1142" y="1160.6" width="29.92" height="11.6" fill="#d2d2d2"/>
<rect x="1171.87" y="1160.6" width="3.98" height="11.6" fill="#8a8a8a"/>
<rect x="1175.8" y="1160.6" width="5.55" height="11.6" fill="#6a6a6a"/>
<rect x="1024.4" y="1020.6" width="162.9" height="158.9" fill="none" stroke="#333" stroke-width="1.4"/>
<line x1="1020.9" y1="1022.6" x2="1024.4" y2="1022.6" stroke="#333" stroke-width="1"/>
<text x="1019.8" y="1025.8" font-size="8.8" text-anchor="end">2.0</text>
<line x1="1020.9" y1="1042.6" x2="1024.4" y2="1042.6" stroke="#333" stroke-width="1"/>
<text x="1019.8" y="1045.8" font-size="8.8" text-anchor="end">1.5</text>
<line x1="1020.9" y1="1062.6" x2="1024.4" y2="1062.6" stroke="#333" stroke-width="1"/>
<text x="1019.8" y="1065.8" font-size="8.8" text-anchor="end">1.0</text>
<line x1="1020.9" y1="1082.6" x2="1024.4" y2="1082.6" stroke="#333" stroke-width="1"/>
<text x="1019.8" y="1085.8" font-size="8.8" text-anchor="end">0.5</text>
<line x1="1020.9" y1="1102.6" x2="1024.4" y2="1102.6" stroke="#333" stroke-width="1"/>
<text x="1019.8" y="1105.8" font-size="8.8" text-anchor="end">0.0</text>
<line x1="1020.9" y1="1122.6" x2="1024.4" y2="1122.6" stroke="#333" stroke-width="1"/>
<text x="1019.8" y="1125.8" font-size="8.8" text-anchor="end">-0.5</text>
<line x1="1020.9" y1="1142.6" x2="1024.4" y2="1142.6" stroke="#333" stroke-width="1"/>
<text x="1019.8" y="1145.8" font-size="8.8" text-anchor="end">-1.0</text>
<line x1="1020.9" y1="1162.6" x2="1024.4" y2="1162.6" stroke="#333" stroke-width="1"/>
<text x="1019.8" y="1165.8" font-size="8.8" text-anchor="end">-1.5</text>
<line x1="1032" y1="1179.5" x2="1032" y2="1182.5" stroke="#333" stroke-width="1"/>
<text x="1032" y="1190.9" font-size="9.2" text-anchor="middle">S1</text>
<line x1="1068.88" y1="1179.5" x2="1068.88" y2="1182.5" stroke="#333" stroke-width="1"/>
<text x="1068.88" y="1190.9" font-size="9.2" text-anchor="middle">S2</text>
<line x1="1105.75" y1="1179.5" x2="1105.75" y2="1182.5" stroke="#333" stroke-width="1"/>
<text x="1105.75" y="1190.9" font-size="9.2" text-anchor="middle">S3</text>
<line x1="1142.62" y1="1179.5" x2="1142.62" y2="1182.5" stroke="#333" stroke-width="1"/>
<text x="1142.62" y="1190.9" font-size="9.2" text-anchor="middle">S4</text>
<line x1="1179.5" y1="1179.5" x2="1179.5" y2="1182.5" stroke="#333" stroke-width="1"/>
<text x="1179.5" y="1190.9" font-size="9.2" text-anchor="middle">S5</text>
<text x="1024.7" y="1017.4" font-size="9" fill="#333">Cluster 12 (27)</text>
<text x="0" y="0" font-size="9.2" text-anchor="middle" fill="#222" transform="translate(19.9 910.8) rotate(-90)">Standard Intensity</text>
<text x="0" y="0" font-size="9.2" text-anchor="middle" fill="#222" transform="translate(19.9 1096) rotate(-90)">Standard Intensity</text>
<rect x="45.7" y="1200.3" width="14" height="7.3" fill="#d2d2d2"/>
<text x="63.7" y="1207.2" font-size="9.2">Glycerophospholipids</text>
<rect x="178.7" y="1200.3" width="14" height="7.3" fill="#a6a6a6"/>
<text x="196.7" y="1207.2" font-size="9.2">Glycerolipids</text>
<rect x="268.8" y="1200.3" width="14" height="7.3" fill="#8a8a8a"/>
<text x="286.8" y="1207.2" font-size="9.2">Saccharolipids</text>
<rect x="366.8" y="1200.3" width="14" height="7.3" fill="#5e5e5e"/>
<text x="384.8" y="1207.2" font-size="9.2">Sphingolipids</text>
<rect x="459.7" y="1200.3" width="14" height="7.3" fill="#1e1e1e"/>
<text x="477.7" y="1207.2" font-size="9.2">Fatty Acyls</text></svg>
</body></html>
